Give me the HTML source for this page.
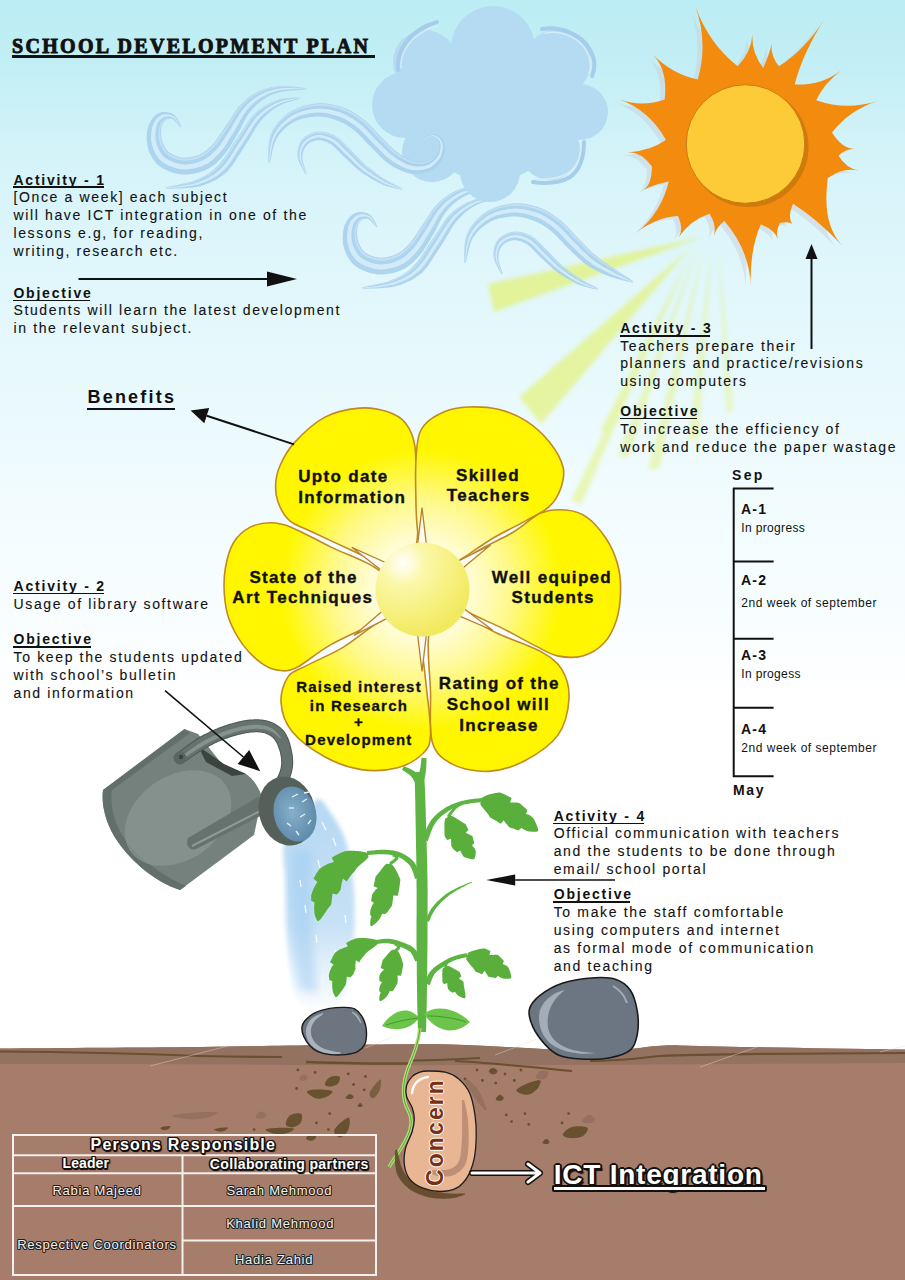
<!DOCTYPE html>
<html><head><meta charset="utf-8"><title>School Development Plan</title>
<style>
html,body{margin:0;padding:0;}
body{width:905px;height:1280px;overflow:hidden;position:relative;background:#fff;}
.t{position:absolute;white-space:pre;}
svg{position:absolute;left:0;top:0;}
</style></head><body>
<svg width="905" height="1280" viewBox="0 0 905 1280"><defs>
<linearGradient id="sky" x1="0" y1="0" x2="0" y2="1280" gradientUnits="userSpaceOnUse">
 <stop offset="0" stop-color="#bcedf4"/>
 <stop offset="0.047" stop-color="#c2eef5"/>
 <stop offset="0.117" stop-color="#d3f3f9"/>
 <stop offset="0.195" stop-color="#def6fb"/>
 <stop offset="0.266" stop-color="#e5f8fc"/>
 <stop offset="0.367" stop-color="#effbfe"/>
 <stop offset="0.469" stop-color="#f7fdff"/>
 <stop offset="0.547" stop-color="#ffffff"/>
 <stop offset="1" stop-color="#ffffff"/>
</linearGradient>
<radialGradient id="petal" cx="421" cy="590" r="200" gradientUnits="userSpaceOnUse">
 <stop offset="0.2" stop-color="#fffde6"/>
 <stop offset="0.45" stop-color="#fff98a"/>
 <stop offset="0.7" stop-color="#fff700"/>
 <stop offset="1" stop-color="#fff500"/>
</radialGradient>
<radialGradient id="disk" cx="403" cy="563" r="75" gradientUnits="userSpaceOnUse">
 <stop offset="0" stop-color="#ffffff"/>
 <stop offset="0.3" stop-color="#fbf7a8"/>
 <stop offset="0.7" stop-color="#f6f07c"/>
 <stop offset="1" stop-color="#f1e95e"/>
</radialGradient>
<linearGradient id="ray" x1="0" y1="0" x2="1" y2="0">
 <stop offset="0" stop-color="#e6f47a" stop-opacity="0.15"/>
 <stop offset="0.5" stop-color="#e6f47a" stop-opacity="0.55"/>
 <stop offset="1" stop-color="#e6f47a" stop-opacity="0.25"/>
</linearGradient>
<linearGradient id="canbody" x1="0" y1="0" x2="1" y2="1">
 <stop offset="0" stop-color="#5c6863"/>
 <stop offset="0.5" stop-color="#85918c"/>
 <stop offset="1" stop-color="#6a7671"/>
</linearGradient>
<radialGradient id="rose" cx="0.45" cy="0.45" r="0.65">
 <stop offset="0" stop-color="#86b0ca"/>
 <stop offset="1" stop-color="#5886a6"/>
</radialGradient>
<linearGradient id="water" x1="0" y1="0" x2="0" y2="1">
 <stop offset="0" stop-color="#b2d6f2" stop-opacity="0.95"/>
 <stop offset="0.6" stop-color="#b8daf4" stop-opacity="0.8"/>
 <stop offset="1" stop-color="#c8e4f8" stop-opacity="0.1"/>
</linearGradient>
<filter id="blur2"><feGaussianBlur stdDeviation="2"/></filter>
<filter id="blur4"><feGaussianBlur stdDeviation="4"/></filter>
</defs>
<rect x="0" y="0" width="905" height="1280" fill="url(#sky)"/>
<g filter="url(#blur2)">
<polygon points="705,236 488,284 494,312" fill="#e2f27a" opacity="0.75"/>
<polygon points="690,248 519,397 541,424" fill="#e2f27a" opacity="0.7"/>
<polygon points="692,250 571,500 581,505" fill="#e2f27a" opacity="0.55"/>
<polygon points="700,242 618,455 628,458" fill="#e2f27a" opacity="0.5"/>
<polygon points="705,242 648,470 660,468" fill="#e2f27a" opacity="0.5"/>
<polygon points="712,242 688,440 699,440" fill="#e2f27a" opacity="0.45"/>
<polygon points="718,240 726,413 734,410" fill="#e2f27a" opacity="0.4"/>
<polygon points="695,245 600,430 606,433" fill="#e2f27a" opacity="0.45"/>
</g>
<g transform="translate(196,100)"><path d="M181.5,126.6 L181.2,126.1 L180.9,125.3 L180.5,124.4 L180.0,123.4 L179.5,122.3 L178.9,121.1 L178.3,120.0 L177.6,118.8 L176.8,117.7 L176.0,116.7 L175.2,115.7 L174.2,114.9 L173.2,114.2 L172.1,113.6 L171.0,113.1 L169.9,112.7 L168.7,112.4 L167.4,112.2 L166.2,112.0 L164.9,111.9 L163.6,112.0 L162.3,112.1 L161.0,112.4 L159.7,112.8 L158.5,113.4 L157.3,114.0 L156.2,114.8 L155.1,115.7 L154.1,116.6 L153.2,117.6 L152.3,118.7 L151.4,119.9 L150.6,121.2 L149.9,122.5 L149.2,123.9 L148.6,125.3 L148.2,126.8 L147.8,128.4 L147.4,130.0 L147.2,131.6 L147.0,133.3 L146.8,135.1 L146.7,136.9 L146.7,138.7 L146.7,140.5 L146.9,142.4 L147.1,144.2 L147.5,146.1 L147.9,147.7 L148.4,149.4 L149.0,151.0 L149.7,152.7 L150.4,154.4 L151.3,156.1 L152.2,157.8 L153.3,159.4 L154.4,161.1 L155.8,162.7 L157.2,164.2 L158.8,165.6 L160.5,166.8 L162.3,168.0 L164.1,169.0 L166.0,169.9 L167.9,170.8 L169.9,171.6 L171.9,172.3 L174.0,172.9 L176.1,173.4 L178.2,173.8 L180.3,174.2 L182.4,174.4 L184.5,174.5 L186.6,174.5 L188.7,174.3 L190.8,174.1 L192.9,173.8 L195.0,173.4 L197.0,172.9 L199.0,172.4 L200.9,171.8 L202.9,171.1 L204.7,170.4 L206.5,169.6 L208.3,168.7 L210.0,167.7 L211.6,166.7 L213.2,165.6 L214.7,164.4 L216.1,163.2 L217.5,161.9 L218.8,160.6 L220.1,159.3 L221.4,158.0 L222.6,156.6 L223.8,155.2 L225.1,153.6 L226.4,152.0 L227.6,150.3 L228.7,148.6 L229.8,146.9 L230.9,145.2 L232.0,143.4 L233.0,141.7 L234.0,140.0 L235.0,138.3 L236.0,136.6 L237.1,134.9 L238.1,133.0 L239.2,131.1 L240.2,129.2 L241.1,127.2 L242.1,125.3 L243.0,123.5 L244.0,121.6 L244.9,119.9 L245.8,118.2 L246.8,116.6 L247.7,115.2 L248.6,113.8 L249.7,112.4 L250.7,111.1 L251.8,109.8 L252.9,108.5 L254.0,107.3 L255.1,106.2 L256.3,105.1 L257.5,104.0 L258.6,103.0 L259.9,102.0 L261.1,101.0 L262.4,100.1 L263.7,99.2 L265.1,98.4 L266.4,97.5 L267.8,96.7 L269.2,96.0 L270.7,95.3 L272.2,94.6 L273.7,94.0 L275.3,93.4 L277.0,92.9 L278.7,92.4 L280.4,92.0 L282.3,91.5 L284.4,91.2 L286.7,90.9 L289.2,90.7 L291.7,90.5 L294.2,90.4 L296.6,90.2 L299.0,90.1 L301.1,90.0 L303.1,89.9 L304.7,89.8 L306.0,89.6 L306.0,88.4 L304.7,88.2 L303.1,87.9 L301.2,87.6 L299.1,87.3 L296.8,87.0 L294.3,86.8 L291.8,86.5 L289.2,86.3 L286.6,86.1 L284.1,86.0 L281.8,86.0 L279.6,86.0 L277.5,86.2 L275.6,86.5 L273.7,86.7 L271.8,87.1 L269.9,87.5 L268.1,87.9 L266.3,88.5 L264.5,89.0 L262.7,89.7 L261.0,90.3 L259.3,91.1 L257.6,91.9 L255.9,92.8 L254.3,93.7 L252.6,94.7 L251.1,95.8 L249.5,96.9 L248.0,98.1 L246.5,99.3 L245.0,100.6 L243.6,101.9 L242.2,103.3 L240.8,104.7 L239.4,106.2 L237.9,107.8 L236.6,109.6 L235.2,111.4 L234.0,113.2 L232.8,115.1 L231.6,116.9 L230.4,118.7 L229.3,120.5 L228.2,122.3 L227.1,124.0 L226.0,125.6 L224.9,127.1 L223.8,128.8 L222.7,130.5 L221.6,132.2 L220.5,133.8 L219.4,135.4 L218.3,137.0 L217.3,138.5 L216.2,139.9 L215.2,141.3 L214.2,142.5 L213.2,143.7 L212.2,144.8 L211.1,145.9 L210.0,147.0 L208.9,148.0 L207.9,149.0 L206.8,149.9 L205.8,150.7 L204.7,151.5 L203.7,152.2 L202.7,152.8 L201.6,153.4 L200.6,153.9 L199.5,154.4 L198.3,154.9 L197.0,155.4 L195.7,155.8 L194.3,156.3 L192.9,156.6 L191.5,157.0 L190.1,157.2 L188.7,157.4 L187.4,157.6 L186.0,157.7 L184.8,157.7 L183.6,157.6 L182.4,157.5 L181.2,157.3 L179.8,157.0 L178.4,156.7 L177.1,156.3 L175.7,155.8 L174.4,155.3 L173.1,154.7 L172.0,154.1 L170.9,153.5 L170.0,153.0 L169.2,152.4 L168.5,151.9 L167.9,151.3 L167.2,150.6 L166.6,149.9 L166.0,149.1 L165.4,148.1 L164.8,147.2 L164.3,146.2 L163.8,145.1 L163.3,144.0 L162.9,143.0 L162.5,141.9 L162.2,141.0 L161.9,140.0 L161.7,138.9 L161.5,137.7 L161.3,136.5 L161.2,135.3 L161.1,134.0 L161.1,132.8 L161.1,131.7 L161.2,130.5 L161.3,129.5 L161.4,128.7 L161.5,127.9 L161.6,127.1 L161.7,126.4 L161.9,125.6 L162.2,124.9 L162.5,124.2 L162.8,123.6 L163.1,123.0 L163.4,122.5 L163.7,122.0 L164.0,121.6 L164.3,121.2 L164.6,120.9 L165.0,120.5 L165.5,120.2 L166.1,119.8 L166.7,119.6 L167.4,119.3 L168.2,119.2 L169.0,119.1 L169.7,119.0 L170.5,119.0 L171.2,119.0 L171.8,119.1 L172.4,119.3 L173.2,119.7 L173.9,120.3 L174.8,121.1 L175.6,121.9 L176.5,122.9 L177.3,123.8 L178.0,124.7 L178.7,125.5 L179.4,126.3 L180.0,126.9 L180.5,127.4Z" fill="#a9d0ec" opacity="0.9"/><path d="M181.2,126.9 L180.9,126.3 L180.5,125.6 L180.0,124.7 L179.4,123.8 L178.8,122.7 L178.2,121.7 L177.5,120.6 L176.7,119.5 L176.0,118.5 L175.2,117.6 L174.3,116.8 L173.5,116.2 L172.6,115.7 L171.6,115.2 L170.6,114.9 L169.6,114.6 L168.5,114.4 L167.4,114.3 L166.3,114.3 L165.3,114.3 L164.2,114.4 L163.1,114.6 L162.1,114.9 L161.1,115.3 L160.1,115.8 L159.2,116.4 L158.4,117.1 L157.5,117.9 L156.7,118.7 L156.0,119.6 L155.2,120.6 L154.6,121.6 L153.9,122.7 L153.4,123.9 L152.9,125.1 L152.4,126.3 L152.1,127.6 L151.8,129.0 L151.6,130.5 L151.4,132.0 L151.2,133.5 L151.1,135.1 L151.1,136.8 L151.1,138.4 L151.2,140.1 L151.4,141.7 L151.7,143.3 L152.0,144.8 L152.4,146.3 L152.9,147.8 L153.4,149.3 L154.0,150.8 L154.7,152.2 L155.5,153.7 L156.3,155.2 L157.3,156.6 L158.3,157.9 L159.4,159.3 L160.6,160.5 L161.9,161.6 L163.3,162.7 L164.9,163.6 L166.5,164.5 L168.1,165.4 L169.9,166.1 L171.7,166.8 L173.5,167.5 L175.3,168.0 L177.2,168.5 L179.1,168.9 L180.9,169.2 L182.7,169.4 L184.6,169.4 L186.4,169.4 L188.3,169.3 L190.2,169.1 L192.1,168.8 L193.9,168.5 L195.8,168.1 L197.6,167.6 L199.4,167.0 L201.1,166.4 L202.8,165.8 L204.4,165.1 L206.0,164.3 L207.5,163.4 L208.9,162.5 L210.3,161.5 L211.7,160.5 L213.0,159.4 L214.3,158.3 L215.5,157.1 L216.7,155.9 L217.9,154.7 L219.1,153.4 L220.3,152.1 L221.5,150.7 L222.7,149.2 L223.9,147.6 L225.0,146.0 L226.1,144.4 L227.1,142.7 L228.2,141.0 L229.2,139.3 L230.3,137.6 L231.3,135.9 L232.4,134.2 L233.4,132.5 L234.5,130.8 L235.5,129.0 L236.6,127.1 L237.6,125.2 L238.6,123.4 L239.6,121.5 L240.6,119.7 L241.6,117.9 L242.7,116.2 L243.7,114.5 L244.8,113.0 L245.9,111.5 L247.0,110.1 L248.2,108.7 L249.3,107.4 L250.5,106.1 L251.8,104.9 L253.0,103.7 L254.3,102.6 L255.5,101.5 L256.8,100.5 L258.2,99.5 L259.6,98.6 L261.0,97.7 L262.4,96.8 L263.8,96.0 L265.3,95.2 L266.8,94.4 L268.3,93.7 L269.9,93.1 L271.5,92.5 L273.1,91.9 L274.8,91.4 L276.5,91.0 L278.3,90.6 L280.2,90.2 L282.1,89.9 L284.3,89.6 L286.7,89.5 L289.2,89.4 L291.7,89.3 L294.2,89.3 L296.7,89.3 L299.0,89.3 L301.2,89.3 L303.1,89.3 L304.7,89.3 L306.0,89.2 L306.0,88.9 L304.7,88.8 L303.1,88.7 L301.2,88.6 L299.0,88.5 L296.7,88.3 L294.3,88.2 L291.7,88.1 L289.2,88.0 L286.7,88.0 L284.3,88.1 L282.0,88.2 L279.9,88.4 L278.0,88.7 L276.1,89.0 L274.3,89.4 L272.5,89.9 L270.8,90.4 L269.1,90.9 L267.5,91.5 L265.8,92.1 L264.2,92.8 L262.6,93.5 L261.1,94.3 L259.5,95.2 L258.0,96.1 L256.5,97.0 L255.0,98.0 L253.6,99.1 L252.2,100.2 L250.8,101.3 L249.5,102.5 L248.2,103.8 L246.9,105.1 L245.6,106.4 L244.3,107.8 L243.1,109.2 L241.8,110.8 L240.6,112.4 L239.5,114.1 L238.4,115.9 L237.2,117.7 L236.2,119.5 L235.1,121.4 L234.0,123.2 L233.0,125.0 L231.9,126.8 L230.9,128.6 L229.8,130.2 L228.7,131.9 L227.6,133.6 L226.6,135.3 L225.5,137.0 L224.4,138.6 L223.4,140.2 L222.3,141.8 L221.2,143.4 L220.2,144.9 L219.1,146.3 L218.0,147.7 L216.8,149.0 L215.7,150.2 L214.5,151.4 L213.4,152.5 L212.2,153.6 L211.1,154.7 L209.9,155.7 L208.7,156.6 L207.5,157.5 L206.3,158.3 L205.0,159.1 L203.7,159.8 L202.3,160.5 L200.9,161.1 L199.4,161.7 L197.8,162.2 L196.2,162.7 L194.6,163.2 L192.9,163.5 L191.2,163.9 L189.6,164.1 L187.9,164.3 L186.3,164.4 L184.7,164.4 L183.1,164.3 L181.6,164.2 L180.0,163.9 L178.3,163.6 L176.7,163.2 L175.0,162.7 L173.4,162.1 L171.8,161.5 L170.3,160.8 L168.8,160.1 L167.4,159.3 L166.2,158.5 L165.0,157.7 L164.0,156.8 L163.0,155.9 L162.1,154.8 L161.3,153.7 L160.5,152.5 L159.7,151.3 L159.0,150.1 L158.4,148.8 L157.9,147.5 L157.4,146.2 L156.9,144.9 L156.5,143.6 L156.2,142.3 L155.9,141.0 L155.7,139.6 L155.6,138.1 L155.5,136.7 L155.4,135.2 L155.5,133.8 L155.5,132.3 L155.7,131.0 L155.8,129.7 L156.0,128.5 L156.3,127.3 L156.6,126.3 L156.9,125.3 L157.3,124.3 L157.7,123.3 L158.2,122.4 L158.7,121.6 L159.3,120.8 L159.9,120.1 L160.5,119.4 L161.2,118.8 L161.8,118.3 L162.5,117.8 L163.1,117.5 L163.9,117.1 L164.7,116.9 L165.6,116.7 L166.5,116.5 L167.4,116.5 L168.4,116.5 L169.3,116.5 L170.2,116.6 L171.1,116.8 L172.0,117.1 L172.8,117.4 L173.5,117.9 L174.3,118.5 L175.1,119.3 L175.9,120.2 L176.7,121.2 L177.4,122.2 L178.2,123.2 L178.8,124.2 L179.5,125.1 L180.0,125.9 L180.5,126.6 L180.9,127.1Z" fill="#d6edf9" opacity="0.9"/><path d="M180.7,127.2 L180.2,126.8 L179.7,126.1 L179.1,125.3 L178.4,124.5 L177.7,123.5 L176.9,122.5 L176.1,121.6 L175.3,120.7 L174.5,119.9 L173.7,119.2 L172.9,118.7 L172.3,118.3 L171.5,118.2 L170.8,118.0 L170.0,117.9 L169.1,117.9 L168.3,118.0 L167.4,118.1 L166.6,118.2 L165.8,118.4 L165.1,118.7 L164.5,119.0 L163.9,119.3 L163.5,119.7 L163.0,120.1 L162.6,120.5 L162.1,121.1 L161.6,121.7 L161.2,122.3 L160.8,123.1 L160.4,123.8 L160.0,124.6 L159.7,125.4 L159.5,126.3 L159.2,127.2 L159.1,128.1 L158.9,129.1 L158.8,130.2 L158.7,131.3 L158.6,132.6 L158.6,133.9 L158.6,135.2 L158.7,136.6 L158.8,137.9 L159.0,139.2 L159.2,140.4 L159.5,141.6 L159.8,142.7 L160.2,143.8 L160.6,145.0 L161.1,146.2 L161.6,147.3 L162.2,148.5 L162.8,149.6 L163.5,150.6 L164.2,151.6 L164.9,152.5 L165.7,153.4 L166.5,154.1 L167.3,154.8 L168.3,155.5 L169.3,156.1 L170.5,156.8 L171.8,157.5 L173.2,158.1 L174.7,158.6 L176.1,159.1 L177.6,159.6 L179.1,160.0 L180.6,160.3 L182.0,160.5 L183.4,160.6 L184.7,160.7 L186.1,160.7 L187.6,160.6 L189.1,160.4 L190.6,160.2 L192.1,159.9 L193.7,159.6 L195.2,159.2 L196.7,158.7 L198.1,158.2 L199.5,157.7 L200.8,157.1 L202.0,156.6 L203.1,155.9 L204.3,155.3 L205.4,154.6 L206.5,153.8 L207.6,152.9 L208.7,152.0 L209.8,151.1 L210.9,150.1 L212.0,149.0 L213.2,147.8 L214.3,146.7 L215.3,145.5 L216.4,144.2 L217.4,142.9 L218.5,141.5 L219.5,140.0 L220.6,138.4 L221.7,136.9 L222.7,135.2 L223.8,133.6 L224.9,131.9 L226.0,130.2 L227.1,128.5 L228.2,126.9 L229.3,125.3 L230.3,123.5 L231.4,121.7 L232.5,119.9 L233.6,118.1 L234.8,116.2 L235.9,114.4 L237.1,112.6 L238.4,110.9 L239.7,109.2 L241.0,107.6 L242.4,106.1 L243.7,104.7 L245.1,103.3 L246.4,102.0 L247.8,100.7 L249.3,99.5 L250.7,98.4 L252.2,97.3 L253.7,96.2 L255.3,95.2 L256.8,94.2 L258.4,93.3 L260.1,92.5 L261.7,91.8 L263.4,91.1 L265.1,90.4 L266.8,89.8 L268.5,89.3 L270.3,88.8 L272.1,88.3 L274.0,88.0 L275.8,87.6 L277.7,87.3 L279.7,87.1 L281.9,87.0 L284.2,86.9 L286.7,87.0 L289.2,87.1 L291.7,87.2 L294.3,87.4 L296.7,87.6 L299.1,87.8 L301.2,88.1 L303.1,88.3 L304.7,88.5 L306.0,88.6 L306.0,88.5 L304.7,88.3 L303.1,88.0 L301.2,87.8 L299.1,87.5 L296.8,87.2 L294.3,87.0 L291.8,86.7 L289.2,86.5 L286.6,86.4 L284.2,86.3 L281.8,86.3 L279.6,86.4 L277.6,86.6 L275.7,86.8 L273.8,87.1 L271.9,87.5 L270.0,87.9 L268.2,88.4 L266.4,88.9 L264.7,89.5 L263.0,90.1 L261.2,90.8 L259.5,91.6 L257.9,92.4 L256.2,93.3 L254.6,94.2 L253.0,95.2 L251.5,96.3 L249.9,97.4 L248.4,98.6 L246.9,99.8 L245.5,101.1 L244.1,102.4 L242.7,103.7 L241.3,105.2 L239.9,106.7 L238.5,108.3 L237.2,110.0 L235.9,111.8 L234.6,113.6 L233.4,115.5 L232.3,117.3 L231.1,119.1 L230.0,120.9 L228.9,122.7 L227.8,124.4 L226.8,126.0 L225.7,127.6 L224.5,129.2 L223.4,130.9 L222.3,132.6 L221.2,134.3 L220.2,135.9 L219.1,137.5 L218.0,139.0 L217.0,140.4 L216.0,141.8 L214.9,143.1 L213.9,144.3 L212.9,145.4 L211.8,146.6 L210.7,147.7 L209.6,148.7 L208.5,149.7 L207.4,150.6 L206.4,151.4 L205.3,152.2 L204.3,153.0 L203.2,153.6 L202.1,154.2 L201.1,154.8 L199.9,155.3 L198.7,155.8 L197.4,156.3 L196.0,156.8 L194.6,157.2 L193.2,157.6 L191.7,158.0 L190.3,158.2 L188.8,158.4 L187.4,158.6 L186.1,158.7 L184.8,158.7 L183.6,158.6 L182.3,158.5 L181.0,158.3 L179.6,158.0 L178.2,157.6 L176.8,157.2 L175.4,156.7 L174.0,156.2 L172.7,155.6 L171.5,155.0 L170.4,154.4 L169.4,153.8 L168.6,153.2 L167.9,152.6 L167.2,152.0 L166.5,151.3 L165.8,150.5 L165.1,149.6 L164.5,148.6 L163.9,147.6 L163.4,146.6 L162.9,145.5 L162.4,144.4 L162.0,143.2 L161.6,142.2 L161.3,141.2 L161.0,140.2 L160.8,139.0 L160.6,137.8 L160.4,136.5 L160.3,135.3 L160.3,134.0 L160.3,132.8 L160.3,131.5 L160.4,130.4 L160.5,129.4 L160.6,128.5 L160.7,127.7 L160.9,126.9 L161.1,126.1 L161.3,125.3 L161.6,124.6 L161.9,123.8 L162.2,123.2 L162.6,122.6 L163.0,122.0 L163.3,121.5 L163.7,121.1 L164.0,120.7 L164.4,120.3 L164.8,120.0 L165.4,119.7 L166.0,119.4 L166.7,119.1 L167.4,118.9 L168.2,118.8 L169.0,118.7 L169.8,118.6 L170.6,118.7 L171.3,118.7 L172.0,118.8 L172.6,119.1 L173.3,119.5 L174.1,120.2 L175.0,121.0 L175.8,121.8 L176.6,122.8 L177.4,123.7 L178.1,124.6 L178.9,125.5 L179.5,126.2 L180.1,126.9 L180.6,127.3Z" fill="#c8e4f6" opacity="0.8"/><path d="M166.1,188.6 L167.7,188.6 L169.7,188.7 L172.1,188.7 L174.8,188.6 L177.7,188.6 L180.8,188.5 L183.9,188.3 L187.1,188.1 L190.3,187.8 L193.4,187.4 L196.4,187.0 L199.1,186.4 L201.6,185.7 L204.0,185.0 L206.3,184.1 L208.6,183.3 L210.8,182.3 L213.0,181.3 L215.2,180.2 L217.4,178.9 L219.5,177.6 L221.6,176.1 L223.7,174.6 L225.8,172.9 L227.7,170.9 L229.6,168.7 L231.4,166.4 L233.2,164.0 L234.9,161.6 L236.5,159.1 L238.0,156.6 L239.6,154.2 L241.1,151.8 L242.6,149.4 L244.0,147.2 L245.5,145.0 L246.9,142.8 L248.4,140.4 L249.8,138.1 L251.1,135.8 L252.5,133.6 L253.8,131.4 L255.0,129.3 L256.3,127.2 L257.6,125.3 L258.9,123.5 L260.2,121.8 L261.5,120.3 L262.8,118.7 L264.2,117.3 L265.6,115.8 L267.0,114.5 L268.4,113.2 L269.9,112.0 L271.4,110.8 L272.9,109.7 L274.5,108.6 L276.0,107.6 L277.6,106.7 L279.2,105.7 L280.8,104.9 L282.6,104.1 L284.5,103.3 L286.5,102.6 L288.5,102.0 L290.6,101.4 L292.6,100.9 L294.4,100.3 L296.2,99.9 L297.7,99.4 L299.1,99.0 L300.1,98.6 L299.9,97.4 L298.8,97.4 L297.4,97.5 L295.8,97.5 L294.0,97.6 L292.0,97.7 L289.9,97.9 L287.7,98.1 L285.5,98.3 L283.3,98.7 L281.0,99.1 L278.9,99.6 L276.8,100.3 L274.9,101.0 L273.0,101.8 L271.1,102.6 L269.2,103.5 L267.4,104.5 L265.5,105.5 L263.6,106.7 L261.8,107.9 L259.9,109.2 L258.1,110.6 L256.3,112.1 L254.5,113.7 L252.8,115.5 L251.1,117.5 L249.6,119.5 L248.0,121.6 L246.6,123.8 L245.1,126.0 L243.7,128.2 L242.3,130.4 L240.9,132.6 L239.4,134.7 L238.0,136.9 L236.5,139.0 L235.0,141.2 L233.5,143.6 L231.9,146.0 L230.4,148.5 L228.9,150.9 L227.4,153.3 L225.9,155.6 L224.4,157.8 L222.8,159.8 L221.3,161.8 L219.8,163.5 L218.2,165.1 L216.7,166.7 L215.2,168.2 L213.6,169.7 L212.0,171.0 L210.3,172.3 L208.6,173.5 L206.8,174.6 L205.0,175.7 L203.1,176.7 L201.1,177.7 L199.0,178.7 L196.9,179.6 L194.6,180.5 L192.1,181.4 L189.3,182.2 L186.3,183.0 L183.3,183.6 L180.2,184.3 L177.3,184.9 L174.4,185.4 L171.8,186.0 L169.5,186.5 L167.5,186.9 L165.9,187.4Z" fill="#a9d0ec" opacity="0.9"/><path d="M166.0,188.2 L167.6,188.1 L169.6,188.0 L172.0,187.8 L174.7,187.7 L177.6,187.5 L180.6,187.2 L183.7,186.9 L186.9,186.5 L190.0,186.1 L193.0,185.6 L195.9,185.0 L198.4,184.4 L200.8,183.6 L203.1,182.8 L205.3,181.9 L207.5,181.0 L209.6,180.0 L211.7,178.9 L213.7,177.8 L215.8,176.5 L217.7,175.2 L219.7,173.8 L221.6,172.2 L223.5,170.6 L225.4,168.7 L227.1,166.6 L228.9,164.4 L230.5,162.1 L232.2,159.8 L233.8,157.4 L235.3,154.9 L236.8,152.5 L238.3,150.1 L239.8,147.7 L241.3,145.4 L242.8,143.2 L244.3,141.0 L245.7,138.7 L247.1,136.5 L248.5,134.2 L249.8,132.0 L251.2,129.8 L252.5,127.6 L253.8,125.6 L255.2,123.6 L256.6,121.7 L258.0,119.9 L259.4,118.3 L260.9,116.7 L262.3,115.3 L263.9,113.8 L265.4,112.5 L267.0,111.2 L268.6,110.0 L270.2,108.9 L271.8,107.8 L273.5,106.8 L275.1,105.9 L276.8,105.0 L278.5,104.1 L280.2,103.3 L282.1,102.6 L284.1,101.9 L286.2,101.3 L288.3,100.8 L290.4,100.3 L292.4,99.9 L294.3,99.5 L296.1,99.2 L297.6,98.8 L299.0,98.5 L300.0,98.2 L300.0,97.9 L298.9,98.1 L297.6,98.2 L296.0,98.5 L294.2,98.7 L292.2,99.0 L290.2,99.3 L288.1,99.6 L285.9,100.1 L283.8,100.5 L281.7,101.1 L279.6,101.7 L277.8,102.5 L276.0,103.2 L274.2,104.1 L272.5,105.0 L270.7,106.0 L269.0,107.0 L267.2,108.1 L265.5,109.3 L263.9,110.5 L262.2,111.9 L260.5,113.3 L258.9,114.8 L257.3,116.3 L255.7,118.1 L254.2,119.9 L252.8,121.9 L251.4,123.9 L250.0,126.0 L248.6,128.1 L247.2,130.3 L245.8,132.6 L244.4,134.8 L243.0,137.0 L241.6,139.2 L240.1,141.4 L238.6,143.6 L237.1,146.0 L235.6,148.3 L234.1,150.8 L232.6,153.2 L231.0,155.6 L229.5,158.0 L227.9,160.3 L226.3,162.5 L224.6,164.5 L223.0,166.5 L221.2,168.2 L219.5,169.9 L217.7,171.4 L215.9,172.8 L214.1,174.2 L212.3,175.4 L210.4,176.6 L208.4,177.7 L206.4,178.7 L204.4,179.7 L202.2,180.6 L200.0,181.5 L197.8,182.3 L195.3,183.1 L192.6,183.8 L189.7,184.4 L186.7,185.0 L183.5,185.5 L180.4,186.0 L177.4,186.4 L174.6,186.7 L171.9,187.0 L169.6,187.3 L167.6,187.6 L166.0,187.9Z" fill="#d6edf9" opacity="0.9"/><path d="M165.9,187.6 L167.5,187.2 L169.5,186.9 L171.8,186.5 L174.5,186.0 L177.3,185.6 L180.3,185.0 L183.4,184.5 L186.5,183.9 L189.5,183.2 L192.3,182.5 L195.0,181.7 L197.3,180.8 L199.5,179.9 L201.6,179.0 L203.6,178.1 L205.6,177.1 L207.5,176.0 L209.4,174.9 L211.2,173.7 L212.9,172.4 L214.6,171.1 L216.3,169.7 L218.0,168.1 L219.6,166.5 L221.2,164.9 L222.8,163.0 L224.4,161.0 L226.0,158.9 L227.5,156.6 L229.0,154.3 L230.6,151.9 L232.1,149.5 L233.6,147.1 L235.1,144.7 L236.6,142.3 L238.1,140.1 L239.6,137.9 L241.1,135.8 L242.5,133.6 L243.9,131.4 L245.3,129.2 L246.7,127.0 L248.1,124.8 L249.5,122.7 L251.0,120.6 L252.5,118.6 L254.1,116.7 L255.8,114.9 L257.5,113.3 L259.2,111.8 L260.9,110.4 L262.7,109.1 L264.5,107.8 L266.3,106.7 L268.1,105.6 L269.9,104.6 L271.7,103.7 L273.5,102.8 L275.4,102.0 L277.2,101.2 L279.2,100.6 L281.3,100.0 L283.5,99.5 L285.7,99.1 L287.9,98.8 L290.0,98.5 L292.1,98.3 L294.1,98.1 L295.9,97.9 L297.5,97.8 L298.8,97.7 L299.9,97.6 L299.9,97.5 L298.8,97.5 L297.4,97.6 L295.8,97.6 L294.0,97.7 L292.1,97.9 L290.0,98.1 L287.8,98.3 L285.6,98.6 L283.3,99.0 L281.1,99.4 L279.0,99.9 L276.9,100.6 L275.0,101.3 L273.2,102.1 L271.3,103.0 L269.5,103.9 L267.6,104.9 L265.8,105.9 L263.9,107.1 L262.1,108.3 L260.3,109.6 L258.5,111.0 L256.7,112.5 L254.9,114.1 L253.2,115.9 L251.6,117.9 L250.0,119.9 L248.5,122.0 L247.1,124.1 L245.6,126.3 L244.2,128.5 L242.8,130.7 L241.4,132.9 L240.0,135.1 L238.5,137.2 L237.1,139.3 L235.5,141.6 L234.0,144.0 L232.5,146.4 L231.0,148.8 L229.5,151.2 L227.9,153.6 L226.4,155.9 L224.9,158.1 L223.4,160.2 L221.8,162.2 L220.3,164.0 L218.7,165.6 L217.1,167.2 L215.6,168.7 L213.9,170.1 L212.3,171.5 L210.6,172.7 L208.8,173.9 L207.0,175.1 L205.2,176.1 L203.3,177.2 L201.2,178.2 L199.2,179.1 L197.0,180.0 L194.7,180.9 L192.2,181.7 L189.4,182.5 L186.4,183.3 L183.3,183.9 L180.3,184.5 L177.3,185.1 L174.4,185.6 L171.8,186.1 L169.5,186.6 L167.5,187.0 L165.9,187.5Z" fill="#c8e4f6" opacity="0.8"/><path d="M269.6,163.1 L270.0,161.8 L270.5,160.1 L270.9,158.1 L271.4,155.9 L271.9,153.5 L272.5,151.0 L273.1,148.4 L273.7,145.9 L274.5,143.5 L275.3,141.2 L276.2,139.2 L277.2,137.6 L278.3,136.0 L279.4,134.4 L280.7,132.8 L282.1,131.3 L283.5,129.8 L285.0,128.4 L286.6,127.0 L288.2,125.8 L289.8,124.6 L291.5,123.5 L293.1,122.5 L294.8,121.6 L296.4,120.8 L298.1,120.1 L299.9,119.4 L301.8,118.8 L303.7,118.3 L305.7,117.9 L307.7,117.5 L309.7,117.2 L311.7,116.9 L313.7,116.7 L315.6,116.6 L317.4,116.6 L319.1,116.6 L320.8,116.6 L322.5,116.8 L324.2,117.0 L325.9,117.3 L327.6,117.6 L329.3,118.1 L331.0,118.5 L332.6,119.0 L334.3,119.6 L336.0,120.2 L337.6,120.8 L339.1,121.3 L340.5,122.0 L342.0,122.6 L343.4,123.3 L344.8,124.0 L346.2,124.8 L347.5,125.7 L348.9,126.6 L350.3,127.5 L351.7,128.5 L353.1,129.6 L354.5,130.6 L355.9,131.7 L357.2,132.9 L358.6,134.2 L360.0,135.6 L361.4,137.0 L362.8,138.6 L364.3,140.1 L365.8,141.7 L367.3,143.3 L368.8,145.0 L370.4,146.6 L371.9,148.1 L373.5,149.5 L374.9,151.0 L376.4,152.4 L378.0,153.9 L379.5,155.3 L381.0,156.8 L382.6,158.3 L384.2,159.7 L385.8,161.1 L387.5,162.6 L389.2,163.9 L391.0,165.2 L392.8,166.4 L394.6,167.5 L396.4,168.5 L398.3,169.5 L400.1,170.5 L401.9,171.4 L403.7,172.2 L405.5,173.1 L407.3,173.9 L409.1,174.7 L411.0,175.5 L412.8,176.3 L414.8,176.9 L417.0,177.6 L419.3,178.3 L421.6,178.9 L423.9,179.6 L426.2,180.2 L428.4,180.8 L430.4,181.3 L432.3,181.8 L434.1,182.1 L435.5,182.4 L436.8,182.5 L437.2,181.5 L436.3,180.7 L435.1,179.7 L433.7,178.7 L432.0,177.6 L430.2,176.5 L428.3,175.3 L426.4,174.0 L424.4,172.8 L422.5,171.5 L420.6,170.2 L418.8,169.0 L417.2,167.7 L415.6,166.7 L413.9,165.7 L412.3,164.6 L410.7,163.6 L409.2,162.6 L407.6,161.5 L406.1,160.4 L404.6,159.4 L403.2,158.3 L401.8,157.1 L400.4,156.0 L399.0,154.8 L397.6,153.6 L396.2,152.4 L394.9,151.1 L393.5,149.8 L392.1,148.4 L390.7,147.0 L389.3,145.5 L387.9,144.0 L386.5,142.5 L385.0,140.9 L383.5,139.4 L382.1,137.9 L380.6,136.5 L379.2,135.0 L377.8,133.5 L376.3,131.9 L374.8,130.3 L373.3,128.7 L371.8,127.1 L370.2,125.4 L368.6,123.9 L366.9,122.3 L365.2,120.8 L363.5,119.4 L361.8,118.1 L360.2,116.9 L358.5,115.7 L356.9,114.6 L355.2,113.5 L353.5,112.4 L351.7,111.4 L350.0,110.5 L348.1,109.6 L346.3,108.7 L344.4,108.0 L342.4,107.2 L340.5,106.6 L338.5,106.0 L336.5,105.5 L334.4,105.0 L332.3,104.5 L330.2,104.1 L328.0,103.8 L325.8,103.5 L323.5,103.3 L321.2,103.3 L318.9,103.3 L316.6,103.4 L314.4,103.7 L312.1,104.0 L309.7,104.5 L307.4,105.0 L305.0,105.6 L302.7,106.3 L300.3,107.0 L298.0,107.9 L295.7,108.9 L293.5,109.9 L291.3,111.1 L289.2,112.4 L287.3,113.8 L285.4,115.3 L283.6,116.9 L281.8,118.5 L280.1,120.3 L278.5,122.1 L277.0,124.0 L275.5,126.0 L274.1,128.0 L272.9,130.1 L271.8,132.2 L270.8,134.4 L270.0,136.9 L269.4,139.5 L268.9,142.2 L268.6,144.9 L268.4,147.7 L268.3,150.4 L268.2,153.1 L268.2,155.5 L268.3,157.8 L268.3,159.9 L268.4,161.6 L268.4,162.9Z" fill="#a9d0ec" opacity="0.9"/><path d="M269.2,163.0 L269.5,161.7 L269.8,160.0 L270.1,158.0 L270.5,155.8 L270.8,153.3 L271.2,150.8 L271.7,148.2 L272.2,145.6 L272.8,143.1 L273.5,140.7 L274.4,138.5 L275.3,136.6 L276.3,134.8 L277.5,133.1 L278.7,131.4 L280.1,129.7 L281.5,128.1 L283.0,126.5 L284.6,125.0 L286.3,123.6 L287.9,122.3 L289.7,121.0 L291.4,119.9 L293.1,118.9 L294.9,117.9 L296.7,117.0 L298.7,116.3 L300.7,115.6 L302.7,114.9 L304.8,114.4 L306.9,113.9 L309.0,113.5 L311.1,113.2 L313.2,112.9 L315.2,112.7 L317.2,112.6 L319.0,112.6 L320.9,112.6 L322.8,112.8 L324.6,113.0 L326.5,113.2 L328.4,113.6 L330.2,114.0 L332.0,114.5 L333.8,115.0 L335.6,115.5 L337.3,116.1 L339.0,116.7 L340.7,117.3 L342.3,118.0 L343.8,118.7 L345.4,119.5 L346.9,120.3 L348.3,121.1 L349.8,122.0 L351.3,123.0 L352.8,124.0 L354.2,125.0 L355.7,126.1 L357.2,127.3 L358.7,128.4 L360.1,129.7 L361.6,131.1 L363.0,132.5 L364.5,134.1 L366.0,135.6 L367.4,137.2 L368.9,138.8 L370.4,140.4 L371.9,142.0 L373.5,143.5 L375.0,145.0 L376.5,146.5 L378.0,148.0 L379.4,149.4 L380.9,150.9 L382.4,152.4 L383.9,153.8 L385.5,155.3 L387.0,156.7 L388.6,158.1 L390.1,159.5 L391.8,160.8 L393.4,162.1 L395.1,163.3 L396.8,164.4 L398.5,165.5 L400.2,166.5 L401.9,167.5 L403.6,168.4 L405.3,169.3 L407.1,170.2 L408.8,171.1 L410.6,172.0 L412.3,172.8 L414.1,173.7 L416.0,174.5 L418.1,175.4 L420.2,176.2 L422.4,177.1 L424.6,177.9 L426.8,178.7 L428.9,179.5 L430.9,180.2 L432.7,180.9 L434.4,181.4 L435.8,181.9 L436.9,182.2 L437.0,181.9 L436.0,181.3 L434.7,180.7 L433.1,179.9 L431.4,179.1 L429.5,178.2 L427.5,177.3 L425.4,176.3 L423.3,175.2 L421.2,174.2 L419.2,173.2 L417.2,172.1 L415.4,171.1 L413.7,170.2 L412.0,169.3 L410.3,168.3 L408.6,167.4 L407.0,166.4 L405.3,165.5 L403.7,164.5 L402.1,163.4 L400.5,162.4 L398.9,161.3 L397.3,160.1 L395.8,159.0 L394.3,157.7 L392.8,156.5 L391.3,155.1 L389.8,153.7 L388.3,152.3 L386.8,150.9 L385.4,149.4 L383.9,147.9 L382.5,146.4 L381.0,144.9 L379.5,143.5 L378.0,142.0 L376.5,140.5 L375.1,139.0 L373.6,137.4 L372.1,135.8 L370.6,134.2 L369.1,132.6 L367.6,131.1 L366.1,129.5 L364.6,128.0 L363.0,126.5 L361.5,125.2 L359.9,123.9 L358.3,122.7 L356.8,121.5 L355.2,120.4 L353.7,119.4 L352.1,118.3 L350.5,117.4 L348.9,116.5 L347.3,115.6 L345.7,114.8 L344.0,114.0 L342.3,113.3 L340.5,112.6 L338.7,112.0 L336.8,111.4 L335.0,110.9 L333.1,110.4 L331.1,109.9 L329.1,109.5 L327.1,109.2 L325.1,108.9 L323.1,108.7 L321.0,108.6 L319.0,108.6 L316.9,108.7 L314.8,108.9 L312.7,109.1 L310.5,109.5 L308.3,109.9 L306.1,110.3 L303.9,110.9 L301.7,111.5 L299.5,112.3 L297.4,113.1 L295.3,114.0 L293.3,115.0 L291.4,116.1 L289.6,117.3 L287.8,118.6 L286.1,119.9 L284.4,121.4 L282.7,123.0 L281.1,124.6 L279.6,126.3 L278.1,128.1 L276.8,129.9 L275.5,131.8 L274.4,133.7 L273.4,135.7 L272.5,137.8 L271.8,140.2 L271.2,142.7 L270.7,145.3 L270.3,148.0 L270.0,150.6 L269.7,153.2 L269.5,155.7 L269.3,157.9 L269.2,159.9 L269.0,161.6 L268.9,163.0Z" fill="#d6edf9" opacity="0.9"/><path d="M268.6,162.9 L268.7,161.6 L268.7,159.9 L268.7,157.9 L268.8,155.6 L268.9,153.1 L269.0,150.5 L269.3,147.8 L269.5,145.1 L269.9,142.4 L270.5,139.8 L271.1,137.3 L271.9,135.0 L272.9,132.9 L274.1,130.9 L275.3,128.9 L276.7,126.9 L278.1,125.1 L279.7,123.3 L281.3,121.5 L283.0,119.8 L284.7,118.2 L286.5,116.7 L288.3,115.3 L290.2,114.0 L292.2,112.8 L294.3,111.8 L296.5,110.8 L298.7,109.9 L300.9,109.1 L303.2,108.3 L305.5,107.7 L307.8,107.2 L310.1,106.7 L312.4,106.3 L314.6,106.0 L316.8,105.8 L318.9,105.7 L321.1,105.7 L323.3,105.8 L325.5,105.9 L327.6,106.2 L329.7,106.5 L331.8,106.9 L333.8,107.4 L335.8,107.9 L337.8,108.5 L339.7,109.0 L341.6,109.7 L343.4,110.4 L345.2,111.1 L347.0,111.9 L348.8,112.8 L350.5,113.7 L352.2,114.7 L353.8,115.7 L355.4,116.7 L357.0,117.8 L358.7,119.0 L360.2,120.1 L361.9,121.4 L363.5,122.8 L365.2,124.2 L366.8,125.7 L368.3,127.3 L369.9,128.9 L371.4,130.5 L372.9,132.1 L374.4,133.7 L375.9,135.2 L377.3,136.8 L378.8,138.3 L380.2,139.7 L381.7,141.2 L383.2,142.7 L384.7,144.3 L386.1,145.8 L387.5,147.3 L389.0,148.7 L390.4,150.2 L391.8,151.6 L393.2,152.9 L394.7,154.2 L396.1,155.5 L397.6,156.6 L399.0,157.8 L400.5,159.0 L402.0,160.1 L403.5,161.2 L405.0,162.2 L406.6,163.3 L408.2,164.3 L409.8,165.3 L411.4,166.3 L413.1,167.3 L414.7,168.3 L416.4,169.3 L418.1,170.4 L419.9,171.5 L421.9,172.7 L423.9,173.9 L425.9,175.0 L427.9,176.2 L429.9,177.3 L431.7,178.3 L433.4,179.3 L434.9,180.2 L436.2,181.0 L437.2,181.6 L437.2,181.5 L436.3,180.8 L435.0,179.9 L433.6,178.9 L431.9,177.9 L430.1,176.7 L428.2,175.6 L426.2,174.4 L424.2,173.1 L422.3,171.9 L420.4,170.6 L418.6,169.4 L416.9,168.2 L415.3,167.2 L413.6,166.2 L412.0,165.2 L410.4,164.2 L408.8,163.1 L407.3,162.1 L405.7,161.0 L404.3,160.0 L402.8,158.9 L401.3,157.7 L399.9,156.6 L398.5,155.4 L397.1,154.2 L395.7,153.0 L394.3,151.7 L392.9,150.4 L391.5,149.0 L390.1,147.5 L388.7,146.1 L387.3,144.6 L385.9,143.1 L384.4,141.5 L382.9,140.0 L381.5,138.5 L380.0,137.1 L378.6,135.6 L377.1,134.1 L375.7,132.5 L374.2,130.9 L372.7,129.3 L371.1,127.7 L369.6,126.1 L368.0,124.5 L366.3,122.9 L364.6,121.4 L362.9,120.0 L361.3,118.8 L359.7,117.6 L358.0,116.4 L356.4,115.3 L354.7,114.2 L353.0,113.2 L351.3,112.2 L349.6,111.3 L347.8,110.4 L345.9,109.5 L344.1,108.8 L342.2,108.0 L340.2,107.4 L338.3,106.8 L336.3,106.3 L334.2,105.8 L332.2,105.3 L330.0,104.9 L327.9,104.6 L325.7,104.3 L323.4,104.1 L321.2,104.1 L318.9,104.1 L316.7,104.2 L314.4,104.5 L312.2,104.8 L309.9,105.2 L307.5,105.7 L305.2,106.3 L302.8,107.0 L300.5,107.7 L298.2,108.6 L295.9,109.5 L293.7,110.5 L291.6,111.7 L289.6,112.9 L287.6,114.3 L285.8,115.8 L284.0,117.3 L282.2,119.0 L280.5,120.7 L278.9,122.5 L277.3,124.4 L275.9,126.3 L274.5,128.3 L273.3,130.4 L272.2,132.5 L271.1,134.6 L270.4,137.0 L269.7,139.6 L269.3,142.3 L268.9,145.0 L268.7,147.7 L268.5,150.5 L268.5,153.1 L268.4,155.6 L268.4,157.8 L268.4,159.9 L268.5,161.6 L268.5,162.9Z" fill="#c8e4f6" opacity="0.8"/><path d="M306.6,173.8 L306.4,172.9 L306.1,171.8 L305.6,170.5 L305.2,169.0 L304.7,167.4 L304.1,165.8 L303.6,164.1 L303.2,162.5 L302.8,160.9 L302.5,159.3 L302.4,158.0 L302.4,156.8 L302.5,155.7 L302.6,154.5 L302.8,153.4 L303.0,152.3 L303.3,151.2 L303.7,150.2 L304.1,149.2 L304.6,148.3 L305.1,147.4 L305.6,146.6 L306.2,145.9 L306.8,145.3 L307.4,144.6 L308.1,144.0 L308.9,143.4 L309.7,142.8 L310.7,142.3 L311.6,141.8 L312.6,141.4 L313.6,141.0 L314.6,140.7 L315.6,140.4 L316.5,140.3 L317.4,140.2 L318.4,140.2 L319.4,140.2 L320.4,140.3 L321.5,140.5 L322.6,140.7 L323.8,141.1 L324.9,141.4 L326.1,141.9 L327.2,142.3 L328.4,142.9 L329.5,143.5 L330.6,144.1 L331.6,144.8 L332.6,145.5 L333.7,146.4 L334.8,147.4 L335.9,148.5 L337.1,149.7 L338.3,150.9 L339.5,152.2 L340.7,153.5 L342.0,154.8 L343.4,156.2 L344.7,157.5 L346.0,158.6 L347.3,159.8 L348.6,161.0 L349.9,162.3 L351.2,163.5 L352.5,164.8 L353.9,166.0 L355.3,167.3 L356.8,168.6 L358.3,169.9 L359.8,171.1 L361.4,172.3 L363.1,173.4 L364.8,174.6 L366.5,175.7 L368.3,176.8 L370.1,177.9 L371.9,179.0 L373.7,180.1 L375.6,181.1 L377.4,182.1 L379.1,183.0 L380.9,183.8 L382.6,184.7 L384.4,185.3 L386.3,186.0 L388.1,186.6 L390.0,187.1 L391.9,187.6 L393.6,188.0 L395.4,188.4 L397.0,188.7 L398.4,189.0 L399.7,189.3 L400.9,189.4 L401.8,189.6 L402.2,188.4 L401.4,187.9 L400.4,187.4 L399.2,186.7 L397.9,186.1 L396.4,185.4 L394.9,184.6 L393.2,183.8 L391.6,183.0 L390.0,182.1 L388.4,181.2 L386.8,180.3 L385.4,179.3 L383.9,178.4 L382.3,177.4 L380.7,176.4 L379.1,175.3 L377.5,174.2 L375.8,173.0 L374.2,171.8 L372.6,170.6 L371.0,169.3 L369.5,168.1 L368.0,166.9 L366.6,165.7 L365.2,164.5 L363.9,163.4 L362.6,162.1 L361.3,160.9 L360.1,159.6 L358.8,158.4 L357.6,157.1 L356.4,155.7 L355.1,154.4 L353.9,153.1 L352.6,151.8 L351.3,150.5 L350.1,149.3 L348.9,148.1 L347.7,146.9 L346.4,145.6 L345.2,144.3 L343.9,143.0 L342.6,141.7 L341.3,140.4 L339.9,139.1 L338.5,138.0 L337.0,136.9 L335.4,135.9 L333.9,135.1 L332.3,134.4 L330.8,133.7 L329.2,133.2 L327.6,132.7 L326.0,132.3 L324.4,132.0 L322.8,131.8 L321.2,131.7 L319.6,131.6 L318.1,131.7 L316.6,131.8 L315.0,132.1 L313.5,132.5 L312.1,133.0 L310.6,133.5 L309.2,134.2 L307.9,135.0 L306.6,135.8 L305.4,136.6 L304.2,137.6 L303.1,138.6 L302.1,139.6 L301.2,140.7 L300.4,141.9 L299.8,143.2 L299.2,144.5 L298.7,145.8 L298.3,147.2 L297.9,148.6 L297.7,150.0 L297.5,151.4 L297.4,152.8 L297.4,154.3 L297.5,155.7 L297.6,157.2 L298.0,158.7 L298.5,160.4 L299.1,162.0 L299.8,163.7 L300.6,165.3 L301.4,166.9 L302.2,168.5 L303.0,170.0 L303.7,171.3 L304.4,172.5 L305.0,173.5 L305.4,174.2Z" fill="#a9d0ec" opacity="0.9"/><path d="M306.2,173.9 L306.0,173.1 L305.6,172.0 L305.1,170.7 L304.5,169.3 L303.9,167.8 L303.3,166.1 L302.7,164.5 L302.2,162.8 L301.7,161.2 L301.3,159.7 L301.1,158.2 L301.0,156.9 L301.0,155.7 L301.0,154.5 L301.2,153.2 L301.4,152.0 L301.6,150.9 L302.0,149.7 L302.4,148.6 L302.8,147.5 L303.3,146.5 L303.9,145.6 L304.5,144.7 L305.1,143.9 L305.8,143.1 L306.6,142.4 L307.5,141.7 L308.4,141.0 L309.4,140.3 L310.5,139.7 L311.6,139.2 L312.7,138.7 L313.8,138.4 L315.0,138.0 L316.1,137.8 L317.2,137.7 L318.3,137.6 L319.5,137.6 L320.7,137.7 L321.9,137.9 L323.2,138.1 L324.4,138.4 L325.7,138.8 L327.0,139.3 L328.3,139.8 L329.6,140.3 L330.8,141.0 L332.0,141.7 L333.2,142.4 L334.4,143.3 L335.5,144.2 L336.7,145.3 L337.9,146.4 L339.1,147.7 L340.3,148.9 L341.6,150.2 L342.8,151.5 L344.1,152.8 L345.4,154.1 L346.7,155.4 L348.0,156.6 L349.2,157.8 L350.5,159.0 L351.8,160.3 L353.1,161.6 L354.4,162.8 L355.8,164.1 L357.1,165.4 L358.5,166.7 L360.0,167.9 L361.4,169.1 L363.0,170.3 L364.5,171.5 L366.2,172.6 L367.9,173.8 L369.6,175.0 L371.3,176.1 L373.1,177.2 L374.9,178.3 L376.6,179.3 L378.4,180.4 L380.1,181.3 L381.8,182.2 L383.4,183.1 L385.1,183.8 L386.9,184.5 L388.7,185.2 L390.5,185.9 L392.3,186.4 L394.0,187.0 L395.7,187.5 L397.2,187.9 L398.7,188.3 L399.9,188.7 L401.0,189.0 L401.9,189.2 L402.0,188.9 L401.2,188.5 L400.1,188.1 L398.9,187.7 L397.5,187.1 L396.0,186.6 L394.4,186.0 L392.7,185.3 L391.0,184.6 L389.2,183.9 L387.5,183.1 L385.9,182.3 L384.3,181.5 L382.7,180.6 L381.1,179.6 L379.4,178.7 L377.7,177.6 L376.0,176.5 L374.3,175.4 L372.6,174.2 L370.9,173.1 L369.2,171.9 L367.6,170.7 L366.0,169.5 L364.5,168.3 L363.1,167.2 L361.7,166.0 L360.3,164.7 L358.9,163.5 L357.6,162.2 L356.3,160.9 L355.0,159.6 L353.8,158.3 L352.5,157.1 L351.2,155.8 L349.9,154.5 L348.7,153.3 L347.4,152.1 L346.1,150.8 L344.9,149.5 L343.7,148.2 L342.4,146.9 L341.2,145.6 L339.9,144.4 L338.7,143.2 L337.4,142.0 L336.1,141.0 L334.8,140.0 L333.5,139.2 L332.1,138.4 L330.8,137.8 L329.4,137.2 L327.9,136.7 L326.5,136.2 L325.1,135.8 L323.7,135.5 L322.3,135.3 L320.9,135.1 L319.5,135.1 L318.2,135.1 L316.9,135.2 L315.6,135.4 L314.3,135.7 L313.1,136.0 L311.8,136.5 L310.6,137.1 L309.4,137.7 L308.2,138.4 L307.1,139.1 L306.1,139.9 L305.1,140.8 L304.2,141.6 L303.4,142.5 L302.7,143.5 L302.1,144.5 L301.5,145.6 L301.0,146.8 L300.6,148.0 L300.2,149.2 L299.9,150.5 L299.7,151.8 L299.5,153.1 L299.5,154.4 L299.5,155.7 L299.5,157.0 L299.7,158.4 L300.1,160.0 L300.6,161.6 L301.1,163.2 L301.8,164.8 L302.5,166.5 L303.2,168.1 L303.9,169.6 L304.5,171.0 L305.1,172.2 L305.5,173.2 L305.9,174.0Z" fill="#d6edf9" opacity="0.9"/><path d="M305.6,174.1 L305.2,173.4 L304.7,172.3 L304.1,171.1 L303.4,169.8 L302.6,168.3 L301.9,166.7 L301.1,165.1 L300.4,163.5 L299.7,161.8 L299.2,160.2 L298.7,158.6 L298.5,157.1 L298.4,155.7 L298.3,154.3 L298.4,152.9 L298.5,151.6 L298.7,150.2 L299.0,148.8 L299.3,147.5 L299.7,146.2 L300.2,145.0 L300.8,143.8 L301.5,142.6 L302.2,141.5 L303.1,140.5 L304.0,139.6 L305.0,138.6 L306.2,137.8 L307.3,136.9 L308.6,136.2 L309.8,135.5 L311.2,134.9 L312.5,134.4 L313.9,133.9 L315.3,133.6 L316.7,133.3 L318.1,133.2 L319.6,133.2 L321.1,133.2 L322.6,133.4 L324.1,133.6 L325.6,133.9 L327.1,134.3 L328.6,134.7 L330.1,135.3 L331.6,135.9 L333.1,136.6 L334.6,137.4 L336.0,138.3 L337.4,139.3 L338.8,140.4 L340.1,141.6 L341.4,142.9 L342.7,144.2 L344.0,145.5 L345.2,146.8 L346.4,148.1 L347.6,149.3 L348.9,150.6 L350.1,151.8 L351.4,153.0 L352.7,154.3 L353.9,155.6 L355.2,156.9 L356.4,158.2 L357.7,159.5 L359.0,160.8 L360.3,162.1 L361.6,163.3 L362.9,164.5 L364.3,165.7 L365.7,166.9 L367.1,168.1 L368.6,169.3 L370.2,170.5 L371.8,171.7 L373.5,172.9 L375.1,174.1 L376.8,175.2 L378.5,176.3 L380.1,177.4 L381.8,178.4 L383.3,179.4 L384.9,180.3 L386.4,181.2 L388.0,182.1 L389.6,182.9 L391.3,183.7 L393.0,184.5 L394.6,185.2 L396.2,185.9 L397.7,186.6 L399.1,187.2 L400.3,187.7 L401.3,188.2 L402.1,188.6 L402.2,188.5 L401.4,188.0 L400.4,187.5 L399.2,186.9 L397.8,186.2 L396.3,185.6 L394.8,184.8 L393.2,184.0 L391.5,183.2 L389.9,182.4 L388.3,181.5 L386.7,180.6 L385.2,179.7 L383.7,178.7 L382.1,177.8 L380.5,176.7 L378.9,175.6 L377.3,174.5 L375.6,173.3 L374.0,172.2 L372.3,170.9 L370.7,169.7 L369.2,168.5 L367.7,167.3 L366.3,166.1 L364.9,164.9 L363.6,163.7 L362.3,162.5 L361.0,161.3 L359.7,160.0 L358.5,158.7 L357.2,157.4 L356.0,156.1 L354.7,154.8 L353.5,153.5 L352.2,152.2 L350.9,150.9 L349.7,149.8 L348.5,148.5 L347.3,147.3 L346.0,146.0 L344.8,144.7 L343.5,143.4 L342.2,142.1 L340.9,140.8 L339.6,139.6 L338.1,138.4 L336.7,137.3 L335.2,136.4 L333.6,135.6 L332.1,134.9 L330.5,134.2 L329.0,133.7 L327.4,133.2 L325.8,132.8 L324.3,132.5 L322.7,132.3 L321.1,132.2 L319.6,132.1 L318.1,132.2 L316.6,132.3 L315.1,132.6 L313.6,133.0 L312.2,133.4 L310.8,134.0 L309.4,134.6 L308.1,135.4 L306.8,136.2 L305.6,137.0 L304.5,137.9 L303.4,138.9 L302.4,139.9 L301.5,141.0 L300.8,142.2 L300.1,143.4 L299.5,144.6 L299.0,145.9 L298.6,147.3 L298.3,148.7 L298.0,150.0 L297.8,151.5 L297.7,152.9 L297.7,154.3 L297.8,155.7 L297.9,157.2 L298.2,158.7 L298.7,160.3 L299.3,161.9 L300.0,163.6 L300.7,165.3 L301.5,166.9 L302.3,168.4 L303.1,169.9 L303.8,171.2 L304.5,172.4 L305.1,173.4 L305.5,174.2Z" fill="#c8e4f6" opacity="0.8"/></g>
<g fill="#b4dbf1"><circle cx="493" cy="48" r="42"/><circle cx="425" cy="62" r="32"/><circle cx="405" cy="105" r="33"/><circle cx="432" cy="152" r="30"/><circle cx="490" cy="172" r="30"/><circle cx="550" cy="150" r="30"/><circle cx="580" cy="112" r="28"/><circle cx="558" cy="62" r="33"/><circle cx="490" cy="110" r="72"/></g>
<g fill="none" stroke-linecap="round"><path d="M398,70 C396,50 410,30 437,22" stroke="#a6cdea" stroke-width="4"/><path d="M401,68 C400,50 413,33 437,26" stroke="#d6ecf8" stroke-width="1.5"/><path d="M542,29 C560,26 582,34 590,50 C596,60 595,70 592,76" stroke="#a6cdea" stroke-width="4"/><path d="M545,33 C562,30 580,38 587,52 C591,60 591,68 589,73" stroke="#d6ecf8" stroke-width="1.5"/><path d="M584,142 C584,158 580,170 570,177 C560,183 545,184 533,182" stroke="#a6cdea" stroke-width="4"/><path d="M581,143 C581,157 577,167 568,173 C558,179 545,180 534,179" stroke="#d6ecf8" stroke-width="1.5"/></g>
<g transform="translate(0,0)"><path d="M181.5,126.6 L181.2,126.1 L180.9,125.3 L180.5,124.4 L180.0,123.4 L179.5,122.3 L178.9,121.1 L178.3,120.0 L177.6,118.8 L176.8,117.7 L176.0,116.7 L175.2,115.7 L174.2,114.9 L173.2,114.2 L172.1,113.6 L171.0,113.1 L169.9,112.7 L168.7,112.4 L167.4,112.2 L166.2,112.0 L164.9,111.9 L163.6,112.0 L162.3,112.1 L161.0,112.4 L159.7,112.8 L158.5,113.4 L157.3,114.0 L156.2,114.8 L155.1,115.7 L154.1,116.6 L153.2,117.6 L152.3,118.7 L151.4,119.9 L150.6,121.2 L149.9,122.5 L149.2,123.9 L148.6,125.3 L148.2,126.8 L147.8,128.4 L147.4,130.0 L147.2,131.6 L147.0,133.3 L146.8,135.1 L146.7,136.9 L146.7,138.7 L146.7,140.5 L146.9,142.4 L147.1,144.2 L147.5,146.1 L147.9,147.7 L148.4,149.4 L149.0,151.0 L149.7,152.7 L150.4,154.4 L151.3,156.1 L152.2,157.8 L153.3,159.4 L154.4,161.1 L155.8,162.7 L157.2,164.2 L158.8,165.6 L160.5,166.8 L162.3,168.0 L164.1,169.0 L166.0,169.9 L167.9,170.8 L169.9,171.6 L171.9,172.3 L174.0,172.9 L176.1,173.4 L178.2,173.8 L180.3,174.2 L182.4,174.4 L184.5,174.5 L186.6,174.5 L188.7,174.3 L190.8,174.1 L192.9,173.8 L195.0,173.4 L197.0,172.9 L199.0,172.4 L200.9,171.8 L202.9,171.1 L204.7,170.4 L206.5,169.6 L208.3,168.7 L210.0,167.7 L211.6,166.7 L213.2,165.6 L214.7,164.4 L216.1,163.2 L217.5,161.9 L218.8,160.6 L220.1,159.3 L221.4,158.0 L222.6,156.6 L223.8,155.2 L225.1,153.6 L226.4,152.0 L227.6,150.3 L228.7,148.6 L229.8,146.9 L230.9,145.2 L232.0,143.4 L233.0,141.7 L234.0,140.0 L235.0,138.3 L236.0,136.6 L237.1,134.9 L238.1,133.0 L239.2,131.1 L240.2,129.2 L241.1,127.2 L242.1,125.3 L243.0,123.5 L244.0,121.6 L244.9,119.9 L245.8,118.2 L246.8,116.6 L247.7,115.2 L248.6,113.8 L249.7,112.4 L250.7,111.1 L251.8,109.8 L252.9,108.5 L254.0,107.3 L255.1,106.2 L256.3,105.1 L257.5,104.0 L258.6,103.0 L259.9,102.0 L261.1,101.0 L262.4,100.1 L263.7,99.2 L265.1,98.4 L266.4,97.5 L267.8,96.7 L269.2,96.0 L270.7,95.3 L272.2,94.6 L273.7,94.0 L275.3,93.4 L277.0,92.9 L278.7,92.4 L280.4,92.0 L282.3,91.5 L284.4,91.2 L286.7,90.9 L289.2,90.7 L291.7,90.5 L294.2,90.4 L296.6,90.2 L299.0,90.1 L301.1,90.0 L303.1,89.9 L304.7,89.8 L306.0,89.6 L306.0,88.4 L304.7,88.2 L303.1,87.9 L301.2,87.6 L299.1,87.3 L296.8,87.0 L294.3,86.8 L291.8,86.5 L289.2,86.3 L286.6,86.1 L284.1,86.0 L281.8,86.0 L279.6,86.0 L277.5,86.2 L275.6,86.5 L273.7,86.7 L271.8,87.1 L269.9,87.5 L268.1,87.9 L266.3,88.5 L264.5,89.0 L262.7,89.7 L261.0,90.3 L259.3,91.1 L257.6,91.9 L255.9,92.8 L254.3,93.7 L252.6,94.7 L251.1,95.8 L249.5,96.9 L248.0,98.1 L246.5,99.3 L245.0,100.6 L243.6,101.9 L242.2,103.3 L240.8,104.7 L239.4,106.2 L237.9,107.8 L236.6,109.6 L235.2,111.4 L234.0,113.2 L232.8,115.1 L231.6,116.9 L230.4,118.7 L229.3,120.5 L228.2,122.3 L227.1,124.0 L226.0,125.6 L224.9,127.1 L223.8,128.8 L222.7,130.5 L221.6,132.2 L220.5,133.8 L219.4,135.4 L218.3,137.0 L217.3,138.5 L216.2,139.9 L215.2,141.3 L214.2,142.5 L213.2,143.7 L212.2,144.8 L211.1,145.9 L210.0,147.0 L208.9,148.0 L207.9,149.0 L206.8,149.9 L205.8,150.7 L204.7,151.5 L203.7,152.2 L202.7,152.8 L201.6,153.4 L200.6,153.9 L199.5,154.4 L198.3,154.9 L197.0,155.4 L195.7,155.8 L194.3,156.3 L192.9,156.6 L191.5,157.0 L190.1,157.2 L188.7,157.4 L187.4,157.6 L186.0,157.7 L184.8,157.7 L183.6,157.6 L182.4,157.5 L181.2,157.3 L179.8,157.0 L178.4,156.7 L177.1,156.3 L175.7,155.8 L174.4,155.3 L173.1,154.7 L172.0,154.1 L170.9,153.5 L170.0,153.0 L169.2,152.4 L168.5,151.9 L167.9,151.3 L167.2,150.6 L166.6,149.9 L166.0,149.1 L165.4,148.1 L164.8,147.2 L164.3,146.2 L163.8,145.1 L163.3,144.0 L162.9,143.0 L162.5,141.9 L162.2,141.0 L161.9,140.0 L161.7,138.9 L161.5,137.7 L161.3,136.5 L161.2,135.3 L161.1,134.0 L161.1,132.8 L161.1,131.7 L161.2,130.5 L161.3,129.5 L161.4,128.7 L161.5,127.9 L161.6,127.1 L161.7,126.4 L161.9,125.6 L162.2,124.9 L162.5,124.2 L162.8,123.6 L163.1,123.0 L163.4,122.5 L163.7,122.0 L164.0,121.6 L164.3,121.2 L164.6,120.9 L165.0,120.5 L165.5,120.2 L166.1,119.8 L166.7,119.6 L167.4,119.3 L168.2,119.2 L169.0,119.1 L169.7,119.0 L170.5,119.0 L171.2,119.0 L171.8,119.1 L172.4,119.3 L173.2,119.7 L173.9,120.3 L174.8,121.1 L175.6,121.9 L176.5,122.9 L177.3,123.8 L178.0,124.7 L178.7,125.5 L179.4,126.3 L180.0,126.9 L180.5,127.4Z" fill="#a9d0ec" opacity="0.9"/><path d="M181.2,126.9 L180.9,126.3 L180.5,125.6 L180.0,124.7 L179.4,123.8 L178.8,122.7 L178.2,121.7 L177.5,120.6 L176.7,119.5 L176.0,118.5 L175.2,117.6 L174.3,116.8 L173.5,116.2 L172.6,115.7 L171.6,115.2 L170.6,114.9 L169.6,114.6 L168.5,114.4 L167.4,114.3 L166.3,114.3 L165.3,114.3 L164.2,114.4 L163.1,114.6 L162.1,114.9 L161.1,115.3 L160.1,115.8 L159.2,116.4 L158.4,117.1 L157.5,117.9 L156.7,118.7 L156.0,119.6 L155.2,120.6 L154.6,121.6 L153.9,122.7 L153.4,123.9 L152.9,125.1 L152.4,126.3 L152.1,127.6 L151.8,129.0 L151.6,130.5 L151.4,132.0 L151.2,133.5 L151.1,135.1 L151.1,136.8 L151.1,138.4 L151.2,140.1 L151.4,141.7 L151.7,143.3 L152.0,144.8 L152.4,146.3 L152.9,147.8 L153.4,149.3 L154.0,150.8 L154.7,152.2 L155.5,153.7 L156.3,155.2 L157.3,156.6 L158.3,157.9 L159.4,159.3 L160.6,160.5 L161.9,161.6 L163.3,162.7 L164.9,163.6 L166.5,164.5 L168.1,165.4 L169.9,166.1 L171.7,166.8 L173.5,167.5 L175.3,168.0 L177.2,168.5 L179.1,168.9 L180.9,169.2 L182.7,169.4 L184.6,169.4 L186.4,169.4 L188.3,169.3 L190.2,169.1 L192.1,168.8 L193.9,168.5 L195.8,168.1 L197.6,167.6 L199.4,167.0 L201.1,166.4 L202.8,165.8 L204.4,165.1 L206.0,164.3 L207.5,163.4 L208.9,162.5 L210.3,161.5 L211.7,160.5 L213.0,159.4 L214.3,158.3 L215.5,157.1 L216.7,155.9 L217.9,154.7 L219.1,153.4 L220.3,152.1 L221.5,150.7 L222.7,149.2 L223.9,147.6 L225.0,146.0 L226.1,144.4 L227.1,142.7 L228.2,141.0 L229.2,139.3 L230.3,137.6 L231.3,135.9 L232.4,134.2 L233.4,132.5 L234.5,130.8 L235.5,129.0 L236.6,127.1 L237.6,125.2 L238.6,123.4 L239.6,121.5 L240.6,119.7 L241.6,117.9 L242.7,116.2 L243.7,114.5 L244.8,113.0 L245.9,111.5 L247.0,110.1 L248.2,108.7 L249.3,107.4 L250.5,106.1 L251.8,104.9 L253.0,103.7 L254.3,102.6 L255.5,101.5 L256.8,100.5 L258.2,99.5 L259.6,98.6 L261.0,97.7 L262.4,96.8 L263.8,96.0 L265.3,95.2 L266.8,94.4 L268.3,93.7 L269.9,93.1 L271.5,92.5 L273.1,91.9 L274.8,91.4 L276.5,91.0 L278.3,90.6 L280.2,90.2 L282.1,89.9 L284.3,89.6 L286.7,89.5 L289.2,89.4 L291.7,89.3 L294.2,89.3 L296.7,89.3 L299.0,89.3 L301.2,89.3 L303.1,89.3 L304.7,89.3 L306.0,89.2 L306.0,88.9 L304.7,88.8 L303.1,88.7 L301.2,88.6 L299.0,88.5 L296.7,88.3 L294.3,88.2 L291.7,88.1 L289.2,88.0 L286.7,88.0 L284.3,88.1 L282.0,88.2 L279.9,88.4 L278.0,88.7 L276.1,89.0 L274.3,89.4 L272.5,89.9 L270.8,90.4 L269.1,90.9 L267.5,91.5 L265.8,92.1 L264.2,92.8 L262.6,93.5 L261.1,94.3 L259.5,95.2 L258.0,96.1 L256.5,97.0 L255.0,98.0 L253.6,99.1 L252.2,100.2 L250.8,101.3 L249.5,102.5 L248.2,103.8 L246.9,105.1 L245.6,106.4 L244.3,107.8 L243.1,109.2 L241.8,110.8 L240.6,112.4 L239.5,114.1 L238.4,115.9 L237.2,117.7 L236.2,119.5 L235.1,121.4 L234.0,123.2 L233.0,125.0 L231.9,126.8 L230.9,128.6 L229.8,130.2 L228.7,131.9 L227.6,133.6 L226.6,135.3 L225.5,137.0 L224.4,138.6 L223.4,140.2 L222.3,141.8 L221.2,143.4 L220.2,144.9 L219.1,146.3 L218.0,147.7 L216.8,149.0 L215.7,150.2 L214.5,151.4 L213.4,152.5 L212.2,153.6 L211.1,154.7 L209.9,155.7 L208.7,156.6 L207.5,157.5 L206.3,158.3 L205.0,159.1 L203.7,159.8 L202.3,160.5 L200.9,161.1 L199.4,161.7 L197.8,162.2 L196.2,162.7 L194.6,163.2 L192.9,163.5 L191.2,163.9 L189.6,164.1 L187.9,164.3 L186.3,164.4 L184.7,164.4 L183.1,164.3 L181.6,164.2 L180.0,163.9 L178.3,163.6 L176.7,163.2 L175.0,162.7 L173.4,162.1 L171.8,161.5 L170.3,160.8 L168.8,160.1 L167.4,159.3 L166.2,158.5 L165.0,157.7 L164.0,156.8 L163.0,155.9 L162.1,154.8 L161.3,153.7 L160.5,152.5 L159.7,151.3 L159.0,150.1 L158.4,148.8 L157.9,147.5 L157.4,146.2 L156.9,144.9 L156.5,143.6 L156.2,142.3 L155.9,141.0 L155.7,139.6 L155.6,138.1 L155.5,136.7 L155.4,135.2 L155.5,133.8 L155.5,132.3 L155.7,131.0 L155.8,129.7 L156.0,128.5 L156.3,127.3 L156.6,126.3 L156.9,125.3 L157.3,124.3 L157.7,123.3 L158.2,122.4 L158.7,121.6 L159.3,120.8 L159.9,120.1 L160.5,119.4 L161.2,118.8 L161.8,118.3 L162.5,117.8 L163.1,117.5 L163.9,117.1 L164.7,116.9 L165.6,116.7 L166.5,116.5 L167.4,116.5 L168.4,116.5 L169.3,116.5 L170.2,116.6 L171.1,116.8 L172.0,117.1 L172.8,117.4 L173.5,117.9 L174.3,118.5 L175.1,119.3 L175.9,120.2 L176.7,121.2 L177.4,122.2 L178.2,123.2 L178.8,124.2 L179.5,125.1 L180.0,125.9 L180.5,126.6 L180.9,127.1Z" fill="#d6edf9" opacity="0.9"/><path d="M180.7,127.2 L180.2,126.8 L179.7,126.1 L179.1,125.3 L178.4,124.5 L177.7,123.5 L176.9,122.5 L176.1,121.6 L175.3,120.7 L174.5,119.9 L173.7,119.2 L172.9,118.7 L172.3,118.3 L171.5,118.2 L170.8,118.0 L170.0,117.9 L169.1,117.9 L168.3,118.0 L167.4,118.1 L166.6,118.2 L165.8,118.4 L165.1,118.7 L164.5,119.0 L163.9,119.3 L163.5,119.7 L163.0,120.1 L162.6,120.5 L162.1,121.1 L161.6,121.7 L161.2,122.3 L160.8,123.1 L160.4,123.8 L160.0,124.6 L159.7,125.4 L159.5,126.3 L159.2,127.2 L159.1,128.1 L158.9,129.1 L158.8,130.2 L158.7,131.3 L158.6,132.6 L158.6,133.9 L158.6,135.2 L158.7,136.6 L158.8,137.9 L159.0,139.2 L159.2,140.4 L159.5,141.6 L159.8,142.7 L160.2,143.8 L160.6,145.0 L161.1,146.2 L161.6,147.3 L162.2,148.5 L162.8,149.6 L163.5,150.6 L164.2,151.6 L164.9,152.5 L165.7,153.4 L166.5,154.1 L167.3,154.8 L168.3,155.5 L169.3,156.1 L170.5,156.8 L171.8,157.5 L173.2,158.1 L174.7,158.6 L176.1,159.1 L177.6,159.6 L179.1,160.0 L180.6,160.3 L182.0,160.5 L183.4,160.6 L184.7,160.7 L186.1,160.7 L187.6,160.6 L189.1,160.4 L190.6,160.2 L192.1,159.9 L193.7,159.6 L195.2,159.2 L196.7,158.7 L198.1,158.2 L199.5,157.7 L200.8,157.1 L202.0,156.6 L203.1,155.9 L204.3,155.3 L205.4,154.6 L206.5,153.8 L207.6,152.9 L208.7,152.0 L209.8,151.1 L210.9,150.1 L212.0,149.0 L213.2,147.8 L214.3,146.7 L215.3,145.5 L216.4,144.2 L217.4,142.9 L218.5,141.5 L219.5,140.0 L220.6,138.4 L221.7,136.9 L222.7,135.2 L223.8,133.6 L224.9,131.9 L226.0,130.2 L227.1,128.5 L228.2,126.9 L229.3,125.3 L230.3,123.5 L231.4,121.7 L232.5,119.9 L233.6,118.1 L234.8,116.2 L235.9,114.4 L237.1,112.6 L238.4,110.9 L239.7,109.2 L241.0,107.6 L242.4,106.1 L243.7,104.7 L245.1,103.3 L246.4,102.0 L247.8,100.7 L249.3,99.5 L250.7,98.4 L252.2,97.3 L253.7,96.2 L255.3,95.2 L256.8,94.2 L258.4,93.3 L260.1,92.5 L261.7,91.8 L263.4,91.1 L265.1,90.4 L266.8,89.8 L268.5,89.3 L270.3,88.8 L272.1,88.3 L274.0,88.0 L275.8,87.6 L277.7,87.3 L279.7,87.1 L281.9,87.0 L284.2,86.9 L286.7,87.0 L289.2,87.1 L291.7,87.2 L294.3,87.4 L296.7,87.6 L299.1,87.8 L301.2,88.1 L303.1,88.3 L304.7,88.5 L306.0,88.6 L306.0,88.5 L304.7,88.3 L303.1,88.0 L301.2,87.8 L299.1,87.5 L296.8,87.2 L294.3,87.0 L291.8,86.7 L289.2,86.5 L286.6,86.4 L284.2,86.3 L281.8,86.3 L279.6,86.4 L277.6,86.6 L275.7,86.8 L273.8,87.1 L271.9,87.5 L270.0,87.9 L268.2,88.4 L266.4,88.9 L264.7,89.5 L263.0,90.1 L261.2,90.8 L259.5,91.6 L257.9,92.4 L256.2,93.3 L254.6,94.2 L253.0,95.2 L251.5,96.3 L249.9,97.4 L248.4,98.6 L246.9,99.8 L245.5,101.1 L244.1,102.4 L242.7,103.7 L241.3,105.2 L239.9,106.7 L238.5,108.3 L237.2,110.0 L235.9,111.8 L234.6,113.6 L233.4,115.5 L232.3,117.3 L231.1,119.1 L230.0,120.9 L228.9,122.7 L227.8,124.4 L226.8,126.0 L225.7,127.6 L224.5,129.2 L223.4,130.9 L222.3,132.6 L221.2,134.3 L220.2,135.9 L219.1,137.5 L218.0,139.0 L217.0,140.4 L216.0,141.8 L214.9,143.1 L213.9,144.3 L212.9,145.4 L211.8,146.6 L210.7,147.7 L209.6,148.7 L208.5,149.7 L207.4,150.6 L206.4,151.4 L205.3,152.2 L204.3,153.0 L203.2,153.6 L202.1,154.2 L201.1,154.8 L199.9,155.3 L198.7,155.8 L197.4,156.3 L196.0,156.8 L194.6,157.2 L193.2,157.6 L191.7,158.0 L190.3,158.2 L188.8,158.4 L187.4,158.6 L186.1,158.7 L184.8,158.7 L183.6,158.6 L182.3,158.5 L181.0,158.3 L179.6,158.0 L178.2,157.6 L176.8,157.2 L175.4,156.7 L174.0,156.2 L172.7,155.6 L171.5,155.0 L170.4,154.4 L169.4,153.8 L168.6,153.2 L167.9,152.6 L167.2,152.0 L166.5,151.3 L165.8,150.5 L165.1,149.6 L164.5,148.6 L163.9,147.6 L163.4,146.6 L162.9,145.5 L162.4,144.4 L162.0,143.2 L161.6,142.2 L161.3,141.2 L161.0,140.2 L160.8,139.0 L160.6,137.8 L160.4,136.5 L160.3,135.3 L160.3,134.0 L160.3,132.8 L160.3,131.5 L160.4,130.4 L160.5,129.4 L160.6,128.5 L160.7,127.7 L160.9,126.9 L161.1,126.1 L161.3,125.3 L161.6,124.6 L161.9,123.8 L162.2,123.2 L162.6,122.6 L163.0,122.0 L163.3,121.5 L163.7,121.1 L164.0,120.7 L164.4,120.3 L164.8,120.0 L165.4,119.7 L166.0,119.4 L166.7,119.1 L167.4,118.9 L168.2,118.8 L169.0,118.7 L169.8,118.6 L170.6,118.7 L171.3,118.7 L172.0,118.8 L172.6,119.1 L173.3,119.5 L174.1,120.2 L175.0,121.0 L175.8,121.8 L176.6,122.8 L177.4,123.7 L178.1,124.6 L178.9,125.5 L179.5,126.2 L180.1,126.9 L180.6,127.3Z" fill="#c8e4f6" opacity="0.8"/><path d="M166.1,188.6 L167.7,188.6 L169.7,188.7 L172.1,188.7 L174.8,188.6 L177.7,188.6 L180.8,188.5 L183.9,188.3 L187.1,188.1 L190.3,187.8 L193.4,187.4 L196.4,187.0 L199.1,186.4 L201.6,185.7 L204.0,185.0 L206.3,184.1 L208.6,183.3 L210.8,182.3 L213.0,181.3 L215.2,180.2 L217.4,178.9 L219.5,177.6 L221.6,176.1 L223.7,174.6 L225.8,172.9 L227.7,170.9 L229.6,168.7 L231.4,166.4 L233.2,164.0 L234.9,161.6 L236.5,159.1 L238.0,156.6 L239.6,154.2 L241.1,151.8 L242.6,149.4 L244.0,147.2 L245.5,145.0 L246.9,142.8 L248.4,140.4 L249.8,138.1 L251.1,135.8 L252.5,133.6 L253.8,131.4 L255.0,129.3 L256.3,127.2 L257.6,125.3 L258.9,123.5 L260.2,121.8 L261.5,120.3 L262.8,118.7 L264.2,117.3 L265.6,115.8 L267.0,114.5 L268.4,113.2 L269.9,112.0 L271.4,110.8 L272.9,109.7 L274.5,108.6 L276.0,107.6 L277.6,106.7 L279.2,105.7 L280.8,104.9 L282.6,104.1 L284.5,103.3 L286.5,102.6 L288.5,102.0 L290.6,101.4 L292.6,100.9 L294.4,100.3 L296.2,99.9 L297.7,99.4 L299.1,99.0 L300.1,98.6 L299.9,97.4 L298.8,97.4 L297.4,97.5 L295.8,97.5 L294.0,97.6 L292.0,97.7 L289.9,97.9 L287.7,98.1 L285.5,98.3 L283.3,98.7 L281.0,99.1 L278.9,99.6 L276.8,100.3 L274.9,101.0 L273.0,101.8 L271.1,102.6 L269.2,103.5 L267.4,104.5 L265.5,105.5 L263.6,106.7 L261.8,107.9 L259.9,109.2 L258.1,110.6 L256.3,112.1 L254.5,113.7 L252.8,115.5 L251.1,117.5 L249.6,119.5 L248.0,121.6 L246.6,123.8 L245.1,126.0 L243.7,128.2 L242.3,130.4 L240.9,132.6 L239.4,134.7 L238.0,136.9 L236.5,139.0 L235.0,141.2 L233.5,143.6 L231.9,146.0 L230.4,148.5 L228.9,150.9 L227.4,153.3 L225.9,155.6 L224.4,157.8 L222.8,159.8 L221.3,161.8 L219.8,163.5 L218.2,165.1 L216.7,166.7 L215.2,168.2 L213.6,169.7 L212.0,171.0 L210.3,172.3 L208.6,173.5 L206.8,174.6 L205.0,175.7 L203.1,176.7 L201.1,177.7 L199.0,178.7 L196.9,179.6 L194.6,180.5 L192.1,181.4 L189.3,182.2 L186.3,183.0 L183.3,183.6 L180.2,184.3 L177.3,184.9 L174.4,185.4 L171.8,186.0 L169.5,186.5 L167.5,186.9 L165.9,187.4Z" fill="#a9d0ec" opacity="0.9"/><path d="M166.0,188.2 L167.6,188.1 L169.6,188.0 L172.0,187.8 L174.7,187.7 L177.6,187.5 L180.6,187.2 L183.7,186.9 L186.9,186.5 L190.0,186.1 L193.0,185.6 L195.9,185.0 L198.4,184.4 L200.8,183.6 L203.1,182.8 L205.3,181.9 L207.5,181.0 L209.6,180.0 L211.7,178.9 L213.7,177.8 L215.8,176.5 L217.7,175.2 L219.7,173.8 L221.6,172.2 L223.5,170.6 L225.4,168.7 L227.1,166.6 L228.9,164.4 L230.5,162.1 L232.2,159.8 L233.8,157.4 L235.3,154.9 L236.8,152.5 L238.3,150.1 L239.8,147.7 L241.3,145.4 L242.8,143.2 L244.3,141.0 L245.7,138.7 L247.1,136.5 L248.5,134.2 L249.8,132.0 L251.2,129.8 L252.5,127.6 L253.8,125.6 L255.2,123.6 L256.6,121.7 L258.0,119.9 L259.4,118.3 L260.9,116.7 L262.3,115.3 L263.9,113.8 L265.4,112.5 L267.0,111.2 L268.6,110.0 L270.2,108.9 L271.8,107.8 L273.5,106.8 L275.1,105.9 L276.8,105.0 L278.5,104.1 L280.2,103.3 L282.1,102.6 L284.1,101.9 L286.2,101.3 L288.3,100.8 L290.4,100.3 L292.4,99.9 L294.3,99.5 L296.1,99.2 L297.6,98.8 L299.0,98.5 L300.0,98.2 L300.0,97.9 L298.9,98.1 L297.6,98.2 L296.0,98.5 L294.2,98.7 L292.2,99.0 L290.2,99.3 L288.1,99.6 L285.9,100.1 L283.8,100.5 L281.7,101.1 L279.6,101.7 L277.8,102.5 L276.0,103.2 L274.2,104.1 L272.5,105.0 L270.7,106.0 L269.0,107.0 L267.2,108.1 L265.5,109.3 L263.9,110.5 L262.2,111.9 L260.5,113.3 L258.9,114.8 L257.3,116.3 L255.7,118.1 L254.2,119.9 L252.8,121.9 L251.4,123.9 L250.0,126.0 L248.6,128.1 L247.2,130.3 L245.8,132.6 L244.4,134.8 L243.0,137.0 L241.6,139.2 L240.1,141.4 L238.6,143.6 L237.1,146.0 L235.6,148.3 L234.1,150.8 L232.6,153.2 L231.0,155.6 L229.5,158.0 L227.9,160.3 L226.3,162.5 L224.6,164.5 L223.0,166.5 L221.2,168.2 L219.5,169.9 L217.7,171.4 L215.9,172.8 L214.1,174.2 L212.3,175.4 L210.4,176.6 L208.4,177.7 L206.4,178.7 L204.4,179.7 L202.2,180.6 L200.0,181.5 L197.8,182.3 L195.3,183.1 L192.6,183.8 L189.7,184.4 L186.7,185.0 L183.5,185.5 L180.4,186.0 L177.4,186.4 L174.6,186.7 L171.9,187.0 L169.6,187.3 L167.6,187.6 L166.0,187.9Z" fill="#d6edf9" opacity="0.9"/><path d="M165.9,187.6 L167.5,187.2 L169.5,186.9 L171.8,186.5 L174.5,186.0 L177.3,185.6 L180.3,185.0 L183.4,184.5 L186.5,183.9 L189.5,183.2 L192.3,182.5 L195.0,181.7 L197.3,180.8 L199.5,179.9 L201.6,179.0 L203.6,178.1 L205.6,177.1 L207.5,176.0 L209.4,174.9 L211.2,173.7 L212.9,172.4 L214.6,171.1 L216.3,169.7 L218.0,168.1 L219.6,166.5 L221.2,164.9 L222.8,163.0 L224.4,161.0 L226.0,158.9 L227.5,156.6 L229.0,154.3 L230.6,151.9 L232.1,149.5 L233.6,147.1 L235.1,144.7 L236.6,142.3 L238.1,140.1 L239.6,137.9 L241.1,135.8 L242.5,133.6 L243.9,131.4 L245.3,129.2 L246.7,127.0 L248.1,124.8 L249.5,122.7 L251.0,120.6 L252.5,118.6 L254.1,116.7 L255.8,114.9 L257.5,113.3 L259.2,111.8 L260.9,110.4 L262.7,109.1 L264.5,107.8 L266.3,106.7 L268.1,105.6 L269.9,104.6 L271.7,103.7 L273.5,102.8 L275.4,102.0 L277.2,101.2 L279.2,100.6 L281.3,100.0 L283.5,99.5 L285.7,99.1 L287.9,98.8 L290.0,98.5 L292.1,98.3 L294.1,98.1 L295.9,97.9 L297.5,97.8 L298.8,97.7 L299.9,97.6 L299.9,97.5 L298.8,97.5 L297.4,97.6 L295.8,97.6 L294.0,97.7 L292.1,97.9 L290.0,98.1 L287.8,98.3 L285.6,98.6 L283.3,99.0 L281.1,99.4 L279.0,99.9 L276.9,100.6 L275.0,101.3 L273.2,102.1 L271.3,103.0 L269.5,103.9 L267.6,104.9 L265.8,105.9 L263.9,107.1 L262.1,108.3 L260.3,109.6 L258.5,111.0 L256.7,112.5 L254.9,114.1 L253.2,115.9 L251.6,117.9 L250.0,119.9 L248.5,122.0 L247.1,124.1 L245.6,126.3 L244.2,128.5 L242.8,130.7 L241.4,132.9 L240.0,135.1 L238.5,137.2 L237.1,139.3 L235.5,141.6 L234.0,144.0 L232.5,146.4 L231.0,148.8 L229.5,151.2 L227.9,153.6 L226.4,155.9 L224.9,158.1 L223.4,160.2 L221.8,162.2 L220.3,164.0 L218.7,165.6 L217.1,167.2 L215.6,168.7 L213.9,170.1 L212.3,171.5 L210.6,172.7 L208.8,173.9 L207.0,175.1 L205.2,176.1 L203.3,177.2 L201.2,178.2 L199.2,179.1 L197.0,180.0 L194.7,180.9 L192.2,181.7 L189.4,182.5 L186.4,183.3 L183.3,183.9 L180.3,184.5 L177.3,185.1 L174.4,185.6 L171.8,186.1 L169.5,186.6 L167.5,187.0 L165.9,187.5Z" fill="#c8e4f6" opacity="0.8"/><path d="M269.6,163.1 L270.0,161.8 L270.5,160.1 L270.9,158.1 L271.4,155.9 L271.9,153.5 L272.5,151.0 L273.1,148.4 L273.7,145.9 L274.5,143.5 L275.3,141.2 L276.2,139.2 L277.2,137.6 L278.3,136.0 L279.4,134.4 L280.7,132.8 L282.1,131.3 L283.5,129.8 L285.0,128.4 L286.6,127.0 L288.2,125.8 L289.8,124.6 L291.5,123.5 L293.1,122.5 L294.8,121.6 L296.4,120.8 L298.1,120.1 L299.9,119.4 L301.8,118.8 L303.7,118.3 L305.7,117.9 L307.7,117.5 L309.7,117.2 L311.7,116.9 L313.7,116.7 L315.6,116.6 L317.4,116.6 L319.1,116.6 L320.8,116.6 L322.5,116.8 L324.2,117.0 L325.9,117.3 L327.6,117.6 L329.3,118.1 L331.0,118.5 L332.6,119.0 L334.3,119.6 L336.0,120.2 L337.6,120.8 L339.1,121.3 L340.5,122.0 L342.0,122.6 L343.4,123.3 L344.8,124.0 L346.2,124.8 L347.5,125.7 L348.9,126.6 L350.3,127.5 L351.7,128.5 L353.1,129.6 L354.5,130.6 L355.9,131.7 L357.2,132.9 L358.6,134.3 L360.0,135.7 L361.5,137.1 L362.9,138.7 L364.4,140.3 L365.9,141.9 L367.4,143.5 L368.9,145.1 L370.5,146.6 L371.9,148.1 L373.3,149.5 L374.6,150.8 L376.0,152.1 L377.3,153.5 L378.6,154.8 L379.9,156.2 L381.3,157.5 L382.7,158.8 L384.2,160.2 L385.7,161.4 L387.2,162.7 L388.8,163.9 L390.4,164.9 L392.0,165.9 L393.7,166.9 L395.3,167.9 L397.0,168.8 L398.8,169.6 L400.5,170.4 L402.3,171.2 L404.1,171.9 L405.9,172.5 L407.7,173.0 L409.5,173.4 L411.4,173.7 L413.2,173.9 L415.0,173.9 L416.8,173.9 L418.6,173.8 L420.3,173.7 L422.0,173.4 L423.7,173.1 L425.4,172.7 L427.0,172.2 L428.5,171.7 L430.0,171.0 L431.5,170.3 L432.9,169.4 L434.2,168.4 L435.5,167.4 L436.6,166.4 L437.7,165.2 L438.8,164.1 L439.7,162.9 L440.6,161.7 L441.3,160.5 L442.0,159.3 L442.7,158.0 L443.2,156.7 L443.7,155.4 L444.1,154.0 L444.4,152.6 L444.6,151.2 L444.7,149.8 L444.7,148.5 L444.7,147.1 L444.6,145.8 L444.5,144.6 L444.2,143.4 L443.9,142.3 L443.4,141.1 L442.9,140.1 L442.2,139.1 L441.5,138.3 L440.7,137.5 L439.8,136.8 L439.0,136.1 L438.1,135.6 L437.2,135.1 L436.3,134.7 L435.3,134.4 L434.4,134.2 L433.5,134.1 L432.5,134.2 L431.5,134.3 L430.6,134.5 L429.7,134.8 L428.7,135.2 L427.9,135.6 L427.0,136.0 L426.2,136.5 L425.5,137.0 L424.8,137.6 L424.2,138.1 L423.6,138.8 L423.2,139.6 L422.8,140.4 L422.5,141.2 L422.3,142.1 L422.1,142.9 L421.9,143.8 L421.8,144.6 L421.7,145.3 L421.6,145.9 L421.5,146.4 L421.4,146.8 L422.6,147.2 L422.8,146.8 L422.9,146.2 L423.1,145.6 L423.3,144.9 L423.6,144.2 L423.8,143.4 L424.1,142.7 L424.4,141.9 L424.7,141.3 L425.1,140.7 L425.4,140.2 L425.8,139.9 L426.3,139.5 L426.9,139.2 L427.5,138.8 L428.3,138.5 L429.0,138.2 L429.8,138.0 L430.5,137.8 L431.3,137.6 L432.0,137.6 L432.6,137.6 L433.1,137.6 L433.6,137.8 L434.0,138.0 L434.5,138.3 L435.0,138.7 L435.5,139.2 L436.1,139.7 L436.5,140.2 L437.0,140.8 L437.3,141.4 L437.7,142.0 L437.9,142.6 L438.0,143.2 L438.1,143.7 L438.1,144.4 L438.1,145.1 L438.0,146.0 L437.9,146.9 L437.8,147.8 L437.6,148.8 L437.3,149.8 L437.0,150.7 L436.6,151.7 L436.2,152.5 L435.8,153.3 L435.3,154.0 L434.8,154.7 L434.2,155.4 L433.5,156.1 L432.8,156.9 L432.0,157.6 L431.1,158.3 L430.3,158.9 L429.4,159.5 L428.5,160.0 L427.7,160.4 L426.8,160.7 L426.0,161.0 L425.1,161.2 L424.1,161.4 L423.0,161.5 L421.9,161.6 L420.7,161.7 L419.6,161.7 L418.3,161.6 L417.1,161.5 L415.9,161.4 L414.7,161.2 L413.6,160.9 L412.5,160.6 L411.4,160.2 L410.2,159.8 L409.0,159.3 L407.7,158.7 L406.4,158.1 L405.1,157.4 L403.8,156.6 L402.4,155.8 L401.1,154.9 L399.8,154.0 L398.4,153.1 L397.2,152.1 L396.0,151.3 L394.8,150.3 L393.7,149.3 L392.5,148.3 L391.3,147.1 L390.1,145.9 L388.8,144.7 L387.5,143.4 L386.2,142.1 L384.9,140.7 L383.5,139.3 L382.1,137.9 L380.7,136.5 L379.3,135.1 L377.9,133.6 L376.5,132.1 L375.0,130.4 L373.4,128.8 L371.9,127.2 L370.3,125.5 L368.6,123.9 L366.9,122.3 L365.2,120.8 L363.5,119.4 L361.8,118.1 L360.2,116.9 L358.5,115.7 L356.9,114.6 L355.2,113.5 L353.5,112.4 L351.7,111.4 L350.0,110.5 L348.1,109.6 L346.3,108.7 L344.4,108.0 L342.4,107.2 L340.5,106.6 L338.5,106.0 L336.5,105.5 L334.4,105.0 L332.3,104.5 L330.2,104.1 L328.0,103.8 L325.8,103.5 L323.5,103.3 L321.2,103.3 L318.9,103.3 L316.6,103.4 L314.4,103.7 L312.1,104.0 L309.7,104.5 L307.4,105.0 L305.0,105.6 L302.7,106.3 L300.3,107.0 L298.0,107.9 L295.7,108.9 L293.5,109.9 L291.3,111.1 L289.2,112.4 L287.3,113.8 L285.4,115.3 L283.6,116.9 L281.8,118.5 L280.1,120.3 L278.5,122.1 L277.0,124.0 L275.5,126.0 L274.1,128.0 L272.9,130.1 L271.8,132.2 L270.8,134.4 L270.0,136.9 L269.4,139.5 L268.9,142.2 L268.6,144.9 L268.4,147.7 L268.3,150.4 L268.2,153.1 L268.2,155.5 L268.3,157.8 L268.3,159.9 L268.4,161.6 L268.4,162.9Z" fill="#a9d0ec" opacity="0.9"/><path d="M269.2,163.0 L269.5,161.7 L269.8,160.0 L270.1,158.0 L270.5,155.8 L270.8,153.3 L271.2,150.8 L271.7,148.2 L272.2,145.6 L272.8,143.1 L273.5,140.7 L274.4,138.5 L275.3,136.6 L276.3,134.8 L277.5,133.1 L278.7,131.4 L280.1,129.7 L281.5,128.1 L283.0,126.5 L284.6,125.0 L286.3,123.6 L287.9,122.3 L289.7,121.0 L291.4,119.9 L293.1,118.9 L294.9,117.9 L296.7,117.0 L298.7,116.3 L300.7,115.6 L302.7,114.9 L304.8,114.4 L306.9,113.9 L309.0,113.5 L311.1,113.2 L313.2,112.9 L315.2,112.7 L317.2,112.6 L319.0,112.6 L320.9,112.6 L322.8,112.8 L324.6,113.0 L326.5,113.2 L328.4,113.6 L330.2,114.0 L332.0,114.5 L333.8,115.0 L335.6,115.5 L337.3,116.1 L339.0,116.7 L340.7,117.3 L342.3,118.0 L343.8,118.7 L345.4,119.5 L346.9,120.3 L348.3,121.1 L349.8,122.0 L351.3,123.0 L352.8,124.0 L354.2,125.0 L355.7,126.1 L357.2,127.3 L358.7,128.5 L360.1,129.8 L361.6,131.1 L363.1,132.6 L364.6,134.2 L366.1,135.7 L367.6,137.3 L369.1,138.9 L370.6,140.5 L372.0,142.1 L373.5,143.6 L375.0,145.0 L376.4,146.4 L377.7,147.8 L379.0,149.1 L380.4,150.5 L381.7,151.8 L383.0,153.1 L384.3,154.4 L385.6,155.7 L387.0,156.9 L388.4,158.1 L389.8,159.3 L391.3,160.3 L392.8,161.4 L394.3,162.3 L395.9,163.3 L397.5,164.2 L399.1,165.1 L400.7,166.0 L402.3,166.7 L403.9,167.5 L405.5,168.1 L407.2,168.7 L408.8,169.2 L410.4,169.6 L412.0,169.9 L413.6,170.1 L415.3,170.2 L416.9,170.2 L418.5,170.2 L420.1,170.1 L421.7,169.9 L423.2,169.7 L424.7,169.3 L426.1,169.0 L427.5,168.5 L428.8,168.0 L430.1,167.4 L431.3,166.7 L432.5,165.9 L433.7,165.0 L434.7,164.1 L435.8,163.1 L436.7,162.1 L437.6,161.1 L438.4,160.0 L439.2,159.0 L439.9,157.9 L440.5,156.8 L441.0,155.7 L441.5,154.5 L441.8,153.3 L442.1,152.0 L442.4,150.8 L442.6,149.5 L442.7,148.3 L442.7,147.1 L442.7,145.9 L442.6,144.7 L442.4,143.7 L442.2,142.7 L441.8,141.8 L441.4,140.9 L440.8,140.0 L440.2,139.2 L439.6,138.5 L438.8,137.8 L438.1,137.2 L437.3,136.7 L436.5,136.2 L435.7,135.8 L434.9,135.5 L434.2,135.3 L433.4,135.2 L432.5,135.2 L431.7,135.3 L430.8,135.4 L429.9,135.7 L429.0,136.0 L428.2,136.4 L427.4,136.8 L426.6,137.2 L425.9,137.7 L425.2,138.1 L424.7,138.7 L424.2,139.2 L423.7,139.9 L423.4,140.7 L423.1,141.5 L422.8,142.3 L422.6,143.1 L422.4,143.9 L422.2,144.7 L422.1,145.4 L422.0,146.0 L421.9,146.5 L421.8,146.9 L422.1,147.0 L422.3,146.6 L422.4,146.1 L422.5,145.5 L422.7,144.8 L422.9,144.0 L423.1,143.2 L423.4,142.4 L423.6,141.7 L423.9,140.9 L424.3,140.2 L424.7,139.7 L425.2,139.2 L425.7,138.7 L426.3,138.3 L427.0,137.9 L427.8,137.5 L428.5,137.2 L429.4,136.8 L430.2,136.6 L431.0,136.4 L431.8,136.3 L432.6,136.2 L433.3,136.2 L433.9,136.4 L434.5,136.6 L435.2,136.9 L435.9,137.3 L436.6,137.7 L437.2,138.3 L437.9,138.8 L438.5,139.5 L439.0,140.2 L439.5,140.9 L439.9,141.6 L440.2,142.4 L440.4,143.1 L440.6,144.0 L440.7,144.9 L440.7,145.9 L440.7,147.0 L440.6,148.1 L440.4,149.2 L440.2,150.4 L439.9,151.5 L439.6,152.6 L439.2,153.7 L438.8,154.7 L438.3,155.6 L437.7,156.5 L437.0,157.4 L436.3,158.4 L435.5,159.3 L434.7,160.2 L433.8,161.1 L432.8,161.9 L431.8,162.6 L430.8,163.4 L429.8,164.0 L428.7,164.5 L427.6,165.0 L426.5,165.4 L425.2,165.7 L424.0,166.0 L422.6,166.2 L421.3,166.4 L419.9,166.5 L418.4,166.5 L417.0,166.5 L415.6,166.4 L414.1,166.2 L412.7,166.0 L411.3,165.7 L409.9,165.3 L408.5,164.9 L407.0,164.3 L405.5,163.7 L404.1,163.0 L402.6,162.3 L401.1,161.5 L399.6,160.6 L398.1,159.7 L396.7,158.8 L395.2,157.8 L393.8,156.8 L392.5,155.8 L391.2,154.8 L389.9,153.7 L388.6,152.5 L387.3,151.3 L386.0,150.0 L384.7,148.8 L383.4,147.4 L382.1,146.1 L380.8,144.7 L379.4,143.4 L378.0,142.0 L376.6,140.6 L375.2,139.1 L373.7,137.6 L372.2,136.0 L370.7,134.4 L369.2,132.8 L367.7,131.2 L366.2,129.6 L364.6,128.0 L363.1,126.6 L361.5,125.2 L359.9,123.9 L358.3,122.7 L356.8,121.5 L355.2,120.4 L353.7,119.4 L352.1,118.3 L350.5,117.4 L348.9,116.5 L347.3,115.6 L345.7,114.8 L344.0,114.0 L342.3,113.3 L340.5,112.6 L338.7,112.0 L336.8,111.4 L335.0,110.9 L333.1,110.4 L331.1,109.9 L329.1,109.5 L327.1,109.2 L325.1,108.9 L323.1,108.7 L321.0,108.6 L319.0,108.6 L316.9,108.7 L314.8,108.9 L312.7,109.1 L310.5,109.5 L308.3,109.9 L306.1,110.3 L303.9,110.9 L301.7,111.5 L299.5,112.3 L297.4,113.1 L295.3,114.0 L293.3,115.0 L291.4,116.1 L289.6,117.3 L287.8,118.6 L286.1,119.9 L284.4,121.4 L282.7,123.0 L281.1,124.6 L279.6,126.3 L278.1,128.1 L276.8,129.9 L275.5,131.8 L274.4,133.7 L273.4,135.7 L272.5,137.8 L271.8,140.2 L271.2,142.7 L270.7,145.3 L270.3,148.0 L270.0,150.6 L269.7,153.2 L269.5,155.7 L269.3,157.9 L269.2,159.9 L269.0,161.6 L268.9,163.0Z" fill="#d6edf9" opacity="0.9"/><path d="M268.6,162.9 L268.7,161.6 L268.7,159.9 L268.7,157.9 L268.8,155.6 L268.9,153.1 L269.0,150.5 L269.3,147.8 L269.5,145.1 L269.9,142.4 L270.5,139.8 L271.1,137.3 L271.9,135.0 L272.9,132.9 L274.1,130.9 L275.3,128.9 L276.7,126.9 L278.1,125.1 L279.7,123.3 L281.3,121.5 L283.0,119.8 L284.7,118.2 L286.5,116.7 L288.3,115.3 L290.2,114.0 L292.2,112.8 L294.3,111.8 L296.5,110.8 L298.7,109.9 L300.9,109.1 L303.2,108.3 L305.5,107.7 L307.8,107.2 L310.1,106.7 L312.4,106.3 L314.6,106.0 L316.8,105.8 L318.9,105.7 L321.1,105.7 L323.3,105.8 L325.5,105.9 L327.6,106.2 L329.7,106.5 L331.8,106.9 L333.8,107.4 L335.8,107.9 L337.8,108.5 L339.7,109.0 L341.6,109.7 L343.4,110.4 L345.2,111.1 L347.0,111.9 L348.8,112.8 L350.5,113.7 L352.2,114.7 L353.8,115.7 L355.4,116.7 L357.0,117.8 L358.7,119.0 L360.2,120.1 L361.9,121.4 L363.5,122.8 L365.2,124.2 L366.8,125.8 L368.4,127.3 L370.0,129.0 L371.5,130.6 L373.1,132.2 L374.6,133.8 L376.0,135.4 L377.5,136.9 L378.9,138.3 L380.2,139.7 L381.6,141.1 L383.0,142.5 L384.4,143.9 L385.7,145.2 L387.0,146.5 L388.2,147.8 L389.5,149.0 L390.7,150.2 L391.9,151.3 L393.2,152.3 L394.4,153.3 L395.7,154.3 L397.0,155.2 L398.4,156.2 L399.8,157.1 L401.2,158.0 L402.6,158.8 L404.0,159.6 L405.4,160.3 L406.7,161.0 L408.1,161.6 L409.4,162.1 L410.7,162.5 L411.9,162.9 L413.2,163.2 L414.5,163.5 L415.8,163.6 L417.1,163.8 L418.4,163.8 L419.7,163.9 L421.0,163.8 L422.2,163.7 L423.4,163.5 L424.6,163.3 L425.7,163.1 L426.7,162.8 L427.7,162.4 L428.6,162.0 L429.6,161.5 L430.5,160.9 L431.4,160.2 L432.3,159.5 L433.2,158.8 L434.0,158.0 L434.8,157.1 L435.5,156.3 L436.1,155.5 L436.7,154.7 L437.1,153.9 L437.6,153.0 L438.0,152.1 L438.3,151.1 L438.6,150.0 L438.8,149.0 L439.0,147.9 L439.2,146.9 L439.2,145.9 L439.3,145.0 L439.2,144.2 L439.1,143.5 L439.0,142.8 L438.8,142.2 L438.5,141.5 L438.1,140.9 L437.6,140.2 L437.1,139.6 L436.6,139.0 L436.0,138.5 L435.4,138.1 L434.8,137.7 L434.3,137.4 L433.7,137.1 L433.2,137.0 L432.6,137.0 L431.9,137.0 L431.1,137.1 L430.4,137.2 L429.6,137.5 L428.8,137.7 L428.0,138.1 L427.3,138.4 L426.6,138.8 L426.0,139.2 L425.5,139.6 L425.1,140.0 L424.7,140.5 L424.4,141.1 L424.0,141.8 L423.8,142.6 L423.5,143.3 L423.3,144.1 L423.1,144.9 L422.9,145.6 L422.7,146.2 L422.5,146.7 L422.4,147.1 L422.5,147.2 L422.7,146.8 L422.9,146.2 L423.0,145.6 L423.2,144.9 L423.5,144.2 L423.7,143.4 L424.0,142.6 L424.3,141.9 L424.6,141.2 L425.0,140.6 L425.3,140.1 L425.7,139.8 L426.2,139.4 L426.8,139.0 L427.5,138.7 L428.2,138.4 L428.9,138.1 L429.7,137.8 L430.5,137.6 L431.2,137.5 L431.9,137.4 L432.6,137.4 L433.2,137.4 L433.6,137.5 L434.1,137.8 L434.6,138.1 L435.2,138.5 L435.7,139.0 L436.2,139.5 L436.7,140.0 L437.2,140.6 L437.6,141.2 L437.9,141.9 L438.2,142.5 L438.4,143.1 L438.4,143.7 L438.5,144.3 L438.5,145.1 L438.4,146.0 L438.3,146.9 L438.2,147.9 L438.0,148.9 L437.7,149.9 L437.4,150.9 L437.1,151.8 L436.7,152.7 L436.2,153.5 L435.8,154.2 L435.2,154.9 L434.6,155.7 L433.9,156.5 L433.2,157.2 L432.4,158.0 L431.5,158.7 L430.7,159.3 L429.8,159.9 L428.9,160.5 L428.0,160.9 L427.1,161.3 L426.2,161.6 L425.3,161.8 L424.3,162.0 L423.2,162.2 L422.0,162.3 L420.8,162.4 L419.6,162.4 L418.4,162.4 L417.1,162.3 L415.9,162.1 L414.6,161.9 L413.5,161.7 L412.3,161.3 L411.1,161.0 L409.9,160.6 L408.7,160.1 L407.4,159.5 L406.1,158.8 L404.7,158.1 L403.4,157.3 L402.0,156.5 L400.6,155.6 L399.3,154.7 L398.0,153.8 L396.7,152.8 L395.5,151.9 L394.3,151.0 L393.1,150.0 L391.9,148.9 L390.7,147.8 L389.5,146.6 L388.2,145.3 L386.9,144.0 L385.6,142.7 L384.3,141.3 L382.9,139.9 L381.5,138.5 L380.1,137.1 L378.7,135.7 L377.3,134.2 L375.8,132.6 L374.3,131.0 L372.8,129.4 L371.2,127.8 L369.6,126.1 L368.0,124.5 L366.4,123.0 L364.7,121.4 L362.9,120.0 L361.3,118.8 L359.7,117.6 L358.0,116.4 L356.4,115.3 L354.7,114.2 L353.0,113.2 L351.3,112.2 L349.6,111.3 L347.8,110.4 L345.9,109.5 L344.1,108.8 L342.2,108.0 L340.2,107.4 L338.3,106.8 L336.3,106.3 L334.2,105.8 L332.2,105.3 L330.0,104.9 L327.9,104.6 L325.7,104.3 L323.4,104.1 L321.2,104.1 L318.9,104.1 L316.7,104.2 L314.4,104.5 L312.2,104.8 L309.9,105.2 L307.5,105.7 L305.2,106.3 L302.8,107.0 L300.5,107.7 L298.2,108.6 L295.9,109.5 L293.7,110.5 L291.6,111.7 L289.6,112.9 L287.6,114.3 L285.8,115.8 L284.0,117.3 L282.2,119.0 L280.5,120.7 L278.9,122.5 L277.3,124.4 L275.9,126.3 L274.5,128.3 L273.3,130.4 L272.2,132.5 L271.1,134.6 L270.4,137.0 L269.7,139.6 L269.3,142.3 L268.9,145.0 L268.7,147.7 L268.5,150.5 L268.5,153.1 L268.4,155.6 L268.4,157.8 L268.4,159.9 L268.5,161.6 L268.5,162.9Z" fill="#c8e4f6" opacity="0.8"/><path d="M306.6,173.8 L306.4,172.9 L306.1,171.8 L305.6,170.5 L305.2,169.0 L304.7,167.4 L304.1,165.8 L303.6,164.1 L303.2,162.5 L302.8,160.9 L302.5,159.3 L302.4,158.0 L302.4,156.8 L302.5,155.7 L302.6,154.5 L302.8,153.4 L303.0,152.3 L303.3,151.2 L303.7,150.2 L304.1,149.2 L304.6,148.3 L305.1,147.4 L305.6,146.6 L306.2,145.9 L306.8,145.3 L307.4,144.6 L308.1,144.0 L308.9,143.4 L309.7,142.8 L310.7,142.3 L311.6,141.8 L312.6,141.4 L313.6,141.0 L314.6,140.7 L315.6,140.4 L316.5,140.3 L317.4,140.2 L318.4,140.2 L319.4,140.2 L320.4,140.3 L321.5,140.5 L322.6,140.7 L323.8,141.1 L324.9,141.4 L326.1,141.9 L327.2,142.3 L328.4,142.9 L329.5,143.5 L330.6,144.1 L331.6,144.8 L332.6,145.5 L333.7,146.4 L334.8,147.4 L335.9,148.5 L337.1,149.7 L338.3,150.9 L339.5,152.2 L340.7,153.5 L342.0,154.8 L343.4,156.2 L344.7,157.5 L346.0,158.6 L347.3,159.8 L348.6,161.0 L349.9,162.3 L351.2,163.5 L352.5,164.8 L353.9,166.0 L355.3,167.3 L356.8,168.6 L358.3,169.9 L359.8,171.1 L361.4,172.3 L363.1,173.4 L364.8,174.6 L366.5,175.7 L368.3,176.8 L370.1,177.9 L371.9,179.0 L373.7,180.1 L375.6,181.1 L377.4,182.1 L379.1,183.0 L380.9,183.8 L382.6,184.7 L384.4,185.3 L386.3,186.0 L388.1,186.6 L390.0,187.1 L391.9,187.6 L393.6,188.0 L395.4,188.4 L397.0,188.7 L398.4,189.0 L399.7,189.3 L400.9,189.4 L401.8,189.6 L402.2,188.4 L401.4,187.9 L400.4,187.4 L399.2,186.7 L397.9,186.1 L396.4,185.4 L394.9,184.6 L393.2,183.8 L391.6,183.0 L390.0,182.1 L388.4,181.2 L386.8,180.3 L385.4,179.3 L383.9,178.4 L382.3,177.4 L380.7,176.4 L379.1,175.3 L377.5,174.2 L375.8,173.0 L374.2,171.8 L372.6,170.6 L371.0,169.3 L369.5,168.1 L368.0,166.9 L366.6,165.7 L365.2,164.5 L363.9,163.4 L362.6,162.1 L361.3,160.9 L360.1,159.6 L358.8,158.4 L357.6,157.1 L356.4,155.7 L355.1,154.4 L353.9,153.1 L352.6,151.8 L351.3,150.5 L350.1,149.3 L348.9,148.1 L347.7,146.9 L346.4,145.6 L345.2,144.3 L343.9,143.0 L342.6,141.7 L341.3,140.4 L339.9,139.1 L338.5,138.0 L337.0,136.9 L335.4,135.9 L333.9,135.1 L332.3,134.4 L330.8,133.7 L329.2,133.2 L327.6,132.7 L326.0,132.3 L324.4,132.0 L322.8,131.8 L321.2,131.7 L319.6,131.6 L318.1,131.7 L316.6,131.8 L315.0,132.1 L313.5,132.5 L312.1,133.0 L310.6,133.5 L309.2,134.2 L307.9,135.0 L306.6,135.8 L305.4,136.6 L304.2,137.6 L303.1,138.6 L302.1,139.6 L301.2,140.7 L300.4,141.9 L299.8,143.2 L299.2,144.5 L298.7,145.8 L298.3,147.2 L297.9,148.6 L297.7,150.0 L297.5,151.4 L297.4,152.8 L297.4,154.3 L297.5,155.7 L297.6,157.2 L298.0,158.7 L298.5,160.4 L299.1,162.0 L299.8,163.7 L300.6,165.3 L301.4,166.9 L302.2,168.5 L303.0,170.0 L303.7,171.3 L304.4,172.5 L305.0,173.5 L305.4,174.2Z" fill="#a9d0ec" opacity="0.9"/><path d="M306.2,173.9 L306.0,173.1 L305.6,172.0 L305.1,170.7 L304.5,169.3 L303.9,167.8 L303.3,166.1 L302.7,164.5 L302.2,162.8 L301.7,161.2 L301.3,159.7 L301.1,158.2 L301.0,156.9 L301.0,155.7 L301.0,154.5 L301.2,153.2 L301.4,152.0 L301.6,150.9 L302.0,149.7 L302.4,148.6 L302.8,147.5 L303.3,146.5 L303.9,145.6 L304.5,144.7 L305.1,143.9 L305.8,143.1 L306.6,142.4 L307.5,141.7 L308.4,141.0 L309.4,140.3 L310.5,139.7 L311.6,139.2 L312.7,138.7 L313.8,138.4 L315.0,138.0 L316.1,137.8 L317.2,137.7 L318.3,137.6 L319.5,137.6 L320.7,137.7 L321.9,137.9 L323.2,138.1 L324.4,138.4 L325.7,138.8 L327.0,139.3 L328.3,139.8 L329.6,140.3 L330.8,141.0 L332.0,141.7 L333.2,142.4 L334.4,143.3 L335.5,144.2 L336.7,145.3 L337.9,146.4 L339.1,147.7 L340.3,148.9 L341.6,150.2 L342.8,151.5 L344.1,152.8 L345.4,154.1 L346.7,155.4 L348.0,156.6 L349.2,157.8 L350.5,159.0 L351.8,160.3 L353.1,161.6 L354.4,162.8 L355.8,164.1 L357.1,165.4 L358.5,166.7 L360.0,167.9 L361.4,169.1 L363.0,170.3 L364.5,171.5 L366.2,172.6 L367.9,173.8 L369.6,175.0 L371.3,176.1 L373.1,177.2 L374.9,178.3 L376.6,179.3 L378.4,180.4 L380.1,181.3 L381.8,182.2 L383.4,183.1 L385.1,183.8 L386.9,184.5 L388.7,185.2 L390.5,185.9 L392.3,186.4 L394.0,187.0 L395.7,187.5 L397.2,187.9 L398.7,188.3 L399.9,188.7 L401.0,189.0 L401.9,189.2 L402.0,188.9 L401.2,188.5 L400.1,188.1 L398.9,187.7 L397.5,187.1 L396.0,186.6 L394.4,186.0 L392.7,185.3 L391.0,184.6 L389.2,183.9 L387.5,183.1 L385.9,182.3 L384.3,181.5 L382.7,180.6 L381.1,179.6 L379.4,178.7 L377.7,177.6 L376.0,176.5 L374.3,175.4 L372.6,174.2 L370.9,173.1 L369.2,171.9 L367.6,170.7 L366.0,169.5 L364.5,168.3 L363.1,167.2 L361.7,166.0 L360.3,164.7 L358.9,163.5 L357.6,162.2 L356.3,160.9 L355.0,159.6 L353.8,158.3 L352.5,157.1 L351.2,155.8 L349.9,154.5 L348.7,153.3 L347.4,152.1 L346.1,150.8 L344.9,149.5 L343.7,148.2 L342.4,146.9 L341.2,145.6 L339.9,144.4 L338.7,143.2 L337.4,142.0 L336.1,141.0 L334.8,140.0 L333.5,139.2 L332.1,138.4 L330.8,137.8 L329.4,137.2 L327.9,136.7 L326.5,136.2 L325.1,135.8 L323.7,135.5 L322.3,135.3 L320.9,135.1 L319.5,135.1 L318.2,135.1 L316.9,135.2 L315.6,135.4 L314.3,135.7 L313.1,136.0 L311.8,136.5 L310.6,137.1 L309.4,137.7 L308.2,138.4 L307.1,139.1 L306.1,139.9 L305.1,140.8 L304.2,141.6 L303.4,142.5 L302.7,143.5 L302.1,144.5 L301.5,145.6 L301.0,146.8 L300.6,148.0 L300.2,149.2 L299.9,150.5 L299.7,151.8 L299.5,153.1 L299.5,154.4 L299.5,155.7 L299.5,157.0 L299.7,158.4 L300.1,160.0 L300.6,161.6 L301.1,163.2 L301.8,164.8 L302.5,166.5 L303.2,168.1 L303.9,169.6 L304.5,171.0 L305.1,172.2 L305.5,173.2 L305.9,174.0Z" fill="#d6edf9" opacity="0.9"/><path d="M305.6,174.1 L305.2,173.4 L304.7,172.3 L304.1,171.1 L303.4,169.8 L302.6,168.3 L301.9,166.7 L301.1,165.1 L300.4,163.5 L299.7,161.8 L299.2,160.2 L298.7,158.6 L298.5,157.1 L298.4,155.7 L298.3,154.3 L298.4,152.9 L298.5,151.6 L298.7,150.2 L299.0,148.8 L299.3,147.5 L299.7,146.2 L300.2,145.0 L300.8,143.8 L301.5,142.6 L302.2,141.5 L303.1,140.5 L304.0,139.6 L305.0,138.6 L306.2,137.8 L307.3,136.9 L308.6,136.2 L309.8,135.5 L311.2,134.9 L312.5,134.4 L313.9,133.9 L315.3,133.6 L316.7,133.3 L318.1,133.2 L319.6,133.2 L321.1,133.2 L322.6,133.4 L324.1,133.6 L325.6,133.9 L327.1,134.3 L328.6,134.7 L330.1,135.3 L331.6,135.9 L333.1,136.6 L334.6,137.4 L336.0,138.3 L337.4,139.3 L338.8,140.4 L340.1,141.6 L341.4,142.9 L342.7,144.2 L344.0,145.5 L345.2,146.8 L346.4,148.1 L347.6,149.3 L348.9,150.6 L350.1,151.8 L351.4,153.0 L352.7,154.3 L353.9,155.6 L355.2,156.9 L356.4,158.2 L357.7,159.5 L359.0,160.8 L360.3,162.1 L361.6,163.3 L362.9,164.5 L364.3,165.7 L365.7,166.9 L367.1,168.1 L368.6,169.3 L370.2,170.5 L371.8,171.7 L373.5,172.9 L375.1,174.1 L376.8,175.2 L378.5,176.3 L380.1,177.4 L381.8,178.4 L383.3,179.4 L384.9,180.3 L386.4,181.2 L388.0,182.1 L389.6,182.9 L391.3,183.7 L393.0,184.5 L394.6,185.2 L396.2,185.9 L397.7,186.6 L399.1,187.2 L400.3,187.7 L401.3,188.2 L402.1,188.6 L402.2,188.5 L401.4,188.0 L400.4,187.5 L399.2,186.9 L397.8,186.2 L396.3,185.6 L394.8,184.8 L393.2,184.0 L391.5,183.2 L389.9,182.4 L388.3,181.5 L386.7,180.6 L385.2,179.7 L383.7,178.7 L382.1,177.8 L380.5,176.7 L378.9,175.6 L377.3,174.5 L375.6,173.3 L374.0,172.2 L372.3,170.9 L370.7,169.7 L369.2,168.5 L367.7,167.3 L366.3,166.1 L364.9,164.9 L363.6,163.7 L362.3,162.5 L361.0,161.3 L359.7,160.0 L358.5,158.7 L357.2,157.4 L356.0,156.1 L354.7,154.8 L353.5,153.5 L352.2,152.2 L350.9,150.9 L349.7,149.8 L348.5,148.5 L347.3,147.3 L346.0,146.0 L344.8,144.7 L343.5,143.4 L342.2,142.1 L340.9,140.8 L339.6,139.6 L338.1,138.4 L336.7,137.3 L335.2,136.4 L333.6,135.6 L332.1,134.9 L330.5,134.2 L329.0,133.7 L327.4,133.2 L325.8,132.8 L324.3,132.5 L322.7,132.3 L321.1,132.2 L319.6,132.1 L318.1,132.2 L316.6,132.3 L315.1,132.6 L313.6,133.0 L312.2,133.4 L310.8,134.0 L309.4,134.6 L308.1,135.4 L306.8,136.2 L305.6,137.0 L304.5,137.9 L303.4,138.9 L302.4,139.9 L301.5,141.0 L300.8,142.2 L300.1,143.4 L299.5,144.6 L299.0,145.9 L298.6,147.3 L298.3,148.7 L298.0,150.0 L297.8,151.5 L297.7,152.9 L297.7,154.3 L297.8,155.7 L297.9,157.2 L298.2,158.7 L298.7,160.3 L299.3,161.9 L300.0,163.6 L300.7,165.3 L301.5,166.9 L302.3,168.4 L303.1,169.9 L303.8,171.2 L304.5,172.4 L305.1,173.4 L305.5,174.2Z" fill="#c8e4f6" opacity="0.8"/></g>
<path d="M690.4,9.6 Q703.8,46.7 732.6,69.3 Q746.2,55.6 747.5,37.0 Q746.2,55.6 758.2,71.0 Q763.2,60.5 767.3,45.3 Q764.2,56.8 774.0,69.3 Q799.8,53.0 819.5,22.0 Q797.5,56.6 789.7,87.5 Q816.0,88.7 836.0,73.4 Q818.8,86.6 811.2,103.3 Q841.8,114.0 872.6,104.0 Q844.1,113.2 827.0,135.6 Q836.8,151.5 849.4,152.1 Q840.6,151.7 833.6,158.7 Q840.9,170.7 853.5,173.7 Q838.2,170.1 822.8,181.0 Q816.6,227.0 837.0,248.3 Q811.5,221.7 788.0,206.8 Q782.3,219.2 787.2,227.5 Q785.1,224.0 774.8,225.9 Q770.3,234.4 773.1,242.5 Q769.5,232.1 755.7,227.5 Q744.4,254.2 745.8,289.0 Q744.3,252.8 719.4,224.0 Q711.9,229.4 708.6,239.0 Q712.1,228.6 704.5,216.8 Q685.8,223.0 673.7,240.0 Q679.0,232.5 673.0,219.0 Q650.3,220.4 631.5,235.8 Q656.3,215.5 663.8,184.4 Q652.3,186.4 638.2,192.7 Q646.6,188.9 647.0,169.5 Q635.6,154.5 623.2,155.4 Q645.2,153.8 661.0,143.0 Q644.1,113.0 614.6,102.5 Q637.2,110.5 659.7,102.5 Q663.0,72.4 647.8,57.7 Q668.0,77.3 692.8,82.6 Q703.4,45.7 690.4,9.6Z" fill="#c9ccd6" opacity="0.45"/>
<path d="M695.4,6.6 Q708.8,43.7 737.6,66.3 Q751.2,52.6 752.5,34.0 Q751.2,52.6 763.2,68.0 Q768.2,57.5 772.3,42.3 Q769.2,53.8 779.0,66.3 Q804.8,50.0 824.5,19.0 Q802.5,53.6 794.7,84.5 Q821.0,85.7 841.0,70.4 Q823.8,83.6 816.2,100.3 Q846.8,111.0 877.6,101.0 Q849.1,110.2 832.0,132.6 Q841.8,148.5 854.4,149.1 Q845.6,148.7 838.6,155.7 Q845.9,167.7 858.5,170.7 Q843.2,167.1 827.8,178.0 Q821.6,224.0 842.0,245.3 Q816.5,218.7 793.0,203.8 Q787.3,216.2 792.2,224.5 Q790.1,221.0 779.8,222.9 Q775.3,231.4 778.1,239.5 Q774.5,229.1 760.7,224.5 Q749.4,251.2 750.8,286.0 Q749.3,249.8 724.4,221.0 Q716.9,226.4 713.6,236.0 Q717.1,225.6 709.5,213.8 Q690.8,220.0 678.7,237.0 Q684.0,229.5 678.0,216.0 Q655.3,217.4 636.5,232.8 Q661.3,212.5 668.8,181.4 Q657.3,183.4 643.2,189.7 Q651.6,185.9 652.0,166.5 Q640.6,151.5 628.2,152.4 Q650.2,150.8 666.0,140.0 Q649.1,110.0 619.6,99.5 Q642.2,107.5 664.7,99.5 Q668.0,69.4 652.8,54.7 Q673.0,74.3 697.8,79.6 Q708.4,42.7 695.4,6.6Z" fill="#f28b0e"/>
<circle cx="748.5" cy="147" r="60" fill="#d07a0c"/>
<circle cx="745.5" cy="144" r="59.3" fill="#fdca38" stroke="#c97a12" stroke-width="1"/>
<path d="M284.0,845.0 C281.5,852.5 284.7,865.8 285.0,880.0 C285.3,894.2 285.0,914.2 286.0,930.0 C287.0,945.8 288.7,962.8 291.0,975.0 C293.3,987.2 294.3,997.5 300.0,1003.0 C305.7,1008.5 318.0,1008.5 325.0,1008.0 C332.0,1007.5 337.3,1009.3 342.0,1000.0 C346.7,990.7 351.0,970.0 353.0,952.0 C355.0,934.0 355.2,910.3 354.0,892.0 C352.8,873.7 350.0,855.3 346.0,842.0 C342.0,828.7 335.0,819.0 330.0,812.0 C325.0,805.0 321.0,796.2 316.0,800.0 C311.0,803.8 305.3,827.5 300.0,835.0 C294.7,842.5 286.5,837.5 284.0,845.0Z" fill="url(#water)" filter="url(#blur2)"/>
<path d="M292,850 C290,900 292,950 300,990 L318,992 C312,950 310,900 312,850Z" fill="#9ccaf0" opacity="0.5" filter="url(#blur4)"/>
<line x1="322" y1="822" x2="326" y2="830" stroke="#ffffff" stroke-width="1.3" opacity="0.85"/>
<line x1="333" y1="838" x2="336" y2="846" stroke="#ffffff" stroke-width="1.3" opacity="0.85"/>
<line x1="318" y1="860" x2="320" y2="868" stroke="#ffffff" stroke-width="1.3" opacity="0.85"/>
<line x1="340" y1="872" x2="342" y2="880" stroke="#ffffff" stroke-width="1.3" opacity="0.85"/>
<line x1="328" y1="895" x2="330" y2="903" stroke="#ffffff" stroke-width="1.3" opacity="0.85"/>
<line x1="305" y1="905" x2="306" y2="913" stroke="#ffffff" stroke-width="1.3" opacity="0.85"/>
<line x1="345" y1="915" x2="346" y2="923" stroke="#ffffff" stroke-width="1.3" opacity="0.85"/>
<line x1="316" y1="935" x2="317" y2="943" stroke="#ffffff" stroke-width="1.3" opacity="0.85"/>
<line x1="335" y1="950" x2="336" y2="958" stroke="#ffffff" stroke-width="1.3" opacity="0.85"/>
<line x1="300" y1="880" x2="301" y2="887" stroke="#ffffff" stroke-width="1.3" opacity="0.85"/>
<path d="M426.0,1032.0 L426.1,1030.0 L426.2,1027.5 L426.2,1024.6 L426.3,1021.4 L426.4,1017.9 L426.5,1014.1 L426.6,1010.2 L426.7,1006.1 L426.8,1002.0 L426.8,997.9 L426.9,993.9 L427.0,990.0 L427.0,986.1 L427.1,982.2 L427.1,978.3 L427.2,974.3 L427.2,970.2 L427.2,966.1 L427.3,961.9 L427.3,957.7 L427.4,953.4 L427.4,949.0 L427.5,944.5 L427.5,940.0 L427.5,935.3 L427.5,930.5 L427.5,925.5 L427.5,920.4 L427.6,915.2 L427.6,910.0 L427.6,904.8 L427.6,899.6 L427.6,894.5 L427.6,889.5 L427.5,884.6 L427.5,880.0 L427.4,875.4 L427.3,870.9 L427.3,866.5 L427.2,862.1 L427.0,857.8 L426.9,853.6 L426.8,849.5 L426.7,845.4 L426.6,841.4 L426.5,837.5 L426.4,833.7 L426.2,829.9 L426.1,826.1 L426.0,822.4 L425.9,818.7 L425.8,815.0 L425.7,811.4 L425.6,807.9 L425.5,804.5 L425.4,801.2 L425.3,798.1 L425.2,795.1 L425.1,792.4 L425.0,789.8 L424.9,787.5 L424.7,785.3 L424.6,783.3 L424.5,781.4 L424.3,779.7 L424.2,778.2 L424.0,776.8 L423.9,775.5 L423.8,774.4 L423.7,773.4 L423.6,772.5 L423.5,771.7 L414.5,772.3 L414.5,773.1 L414.5,774.0 L414.6,775.0 L414.6,776.2 L414.6,777.4 L414.7,778.8 L414.7,780.3 L414.8,782.0 L414.9,783.8 L414.9,785.7 L415.0,787.9 L415.0,790.2 L415.1,792.7 L415.1,795.4 L415.2,798.4 L415.3,801.5 L415.3,804.7 L415.4,808.1 L415.4,811.6 L415.5,815.2 L415.6,818.9 L415.6,822.6 L415.7,826.4 L415.8,830.1 L415.8,833.9 L415.9,837.8 L416.0,841.7 L416.0,845.7 L416.1,849.7 L416.2,853.9 L416.3,858.1 L416.3,862.3 L416.4,866.7 L416.4,871.1 L416.5,875.5 L416.5,880.0 L416.5,884.7 L416.6,889.6 L416.6,894.5 L416.6,899.6 L416.6,904.8 L416.6,910.0 L416.6,915.2 L416.5,920.4 L416.5,925.5 L416.5,930.5 L416.5,935.3 L416.5,940.0 L416.5,944.5 L416.6,949.0 L416.6,953.4 L416.7,957.7 L416.7,961.9 L416.8,966.1 L416.8,970.2 L416.8,974.3 L416.9,978.3 L416.9,982.2 L417.0,986.1 L417.0,990.0 L417.1,993.9 L417.2,997.9 L417.2,1002.0 L417.3,1006.1 L417.4,1010.2 L417.5,1014.1 L417.6,1017.9 L417.7,1021.4 L417.8,1024.6 L417.8,1027.5 L417.9,1030.0 L418.0,1032.0Z" fill="#5db443"/>
<path d="M422.3,779.7 L422.0,779.4 L421.6,779.0 L421.2,778.5 L420.7,777.9 L420.1,777.2 L419.5,776.4 L418.9,775.6 L418.2,774.8 L417.4,774.0 L416.7,773.2 L415.8,772.4 L415.0,771.7 L414.0,771.1 L413.1,770.5 L412.0,769.9 L411.0,769.3 L409.9,768.8 L408.8,768.3 L407.8,767.8 L406.8,767.4 L405.9,767.0 L405.2,766.7 L404.5,766.5 L404.0,766.3 L402.0,769.7 L402.5,770.1 L403.1,770.5 L403.8,771.0 L404.6,771.5 L405.5,772.1 L406.4,772.7 L407.3,773.3 L408.2,773.9 L409.1,774.5 L409.8,775.1 L410.5,775.7 L411.0,776.3 L411.5,776.8 L411.9,777.4 L412.4,778.1 L412.9,778.8 L413.3,779.6 L413.7,780.3 L414.1,781.1 L414.5,781.8 L414.9,782.5 L415.2,783.2 L415.5,783.8 L415.7,784.3Z" fill="#5db443"/>
<path d="M423.9,783.0 L423.9,782.4 L424.0,781.7 L424.2,780.8 L424.4,779.9 L424.6,778.8 L424.8,777.7 L425.0,776.5 L425.3,775.3 L425.5,774.0 L425.7,772.8 L425.8,771.6 L426.0,770.5 L426.1,769.4 L426.2,768.2 L426.3,767.0 L426.3,765.8 L426.4,764.6 L426.4,763.4 L426.5,762.3 L426.5,761.3 L426.5,760.3 L426.5,759.5 L426.5,758.7 L426.5,758.2 L421.5,757.8 L421.4,758.4 L421.3,759.2 L421.2,760.0 L421.2,761.0 L421.1,762.0 L420.9,763.1 L420.8,764.2 L420.7,765.3 L420.6,766.4 L420.4,767.5 L420.2,768.6 L420.0,769.5 L419.8,770.4 L419.5,771.5 L419.2,772.5 L418.8,773.6 L418.4,774.7 L418.1,775.8 L417.7,776.9 L417.3,777.9 L417.0,778.8 L416.7,779.7 L416.4,780.4 L416.1,781.0Z" fill="#5db443"/>
<path d="M427.8,841.2 L428.1,840.2 L428.5,839.0 L429.0,837.6 L429.5,836.1 L430.1,834.5 L430.7,832.8 L431.4,831.0 L432.1,829.3 L432.8,827.6 L433.6,826.1 L434.3,824.7 L435.1,823.4 L435.9,822.3 L436.7,821.2 L437.6,820.1 L438.6,819.1 L439.6,818.1 L440.6,817.1 L441.6,816.1 L442.7,815.2 L443.8,814.4 L444.9,813.5 L446.1,812.7 L447.2,811.9 L448.4,811.1 L449.5,810.4 L450.7,809.7 L451.9,809.1 L453.2,808.5 L454.4,807.9 L455.7,807.3 L457.0,806.8 L458.3,806.3 L459.7,805.8 L461.1,805.4 L462.5,804.9 L464.0,804.5 L465.7,804.2 L467.5,803.9 L469.4,803.6 L471.3,803.3 L473.2,803.0 L475.1,802.8 L476.9,802.6 L478.5,802.4 L480.0,802.3 L481.3,802.1 L482.3,802.0 L481.7,798.0 L480.8,798.1 L479.5,798.3 L478.1,798.5 L476.4,798.6 L474.6,798.8 L472.8,799.1 L470.8,799.3 L468.8,799.6 L466.9,799.9 L465.0,800.3 L463.1,800.7 L461.5,801.1 L459.9,801.5 L458.4,801.9 L457.0,802.4 L455.5,802.9 L454.1,803.4 L452.7,804.0 L451.3,804.6 L450.0,805.2 L448.7,805.9 L447.3,806.6 L446.0,807.3 L444.8,808.1 L443.5,808.9 L442.3,809.8 L441.0,810.7 L439.8,811.6 L438.6,812.5 L437.4,813.5 L436.3,814.6 L435.1,815.7 L434.0,816.8 L433.0,818.0 L431.9,819.3 L430.9,820.6 L430.0,822.0 L429.0,823.7 L428.1,825.4 L427.2,827.1 L426.4,828.9 L425.6,830.7 L424.9,832.5 L424.2,834.1 L423.6,835.6 L423.1,836.9 L422.6,838.0 L422.2,838.8Z" fill="#5db443"/>
<path d="M420.8,876.9 L420.5,876.3 L420.2,875.5 L419.8,874.4 L419.4,873.2 L419.0,872.0 L418.4,870.6 L417.9,869.1 L417.3,867.7 L416.6,866.3 L415.9,864.9 L415.1,863.5 L414.2,862.3 L413.3,861.3 L412.3,860.3 L411.3,859.3 L410.3,858.4 L409.2,857.5 L408.1,856.7 L407.0,855.9 L405.8,855.2 L404.6,854.5 L403.4,853.9 L402.2,853.3 L401.0,852.7 L399.8,852.2 L398.5,851.8 L397.2,851.4 L395.9,851.1 L394.6,850.8 L393.3,850.5 L392.0,850.3 L390.6,850.2 L389.3,850.0 L387.9,849.9 L386.5,849.8 L385.1,849.8 L383.6,849.7 L381.9,849.7 L380.2,849.8 L378.4,849.9 L376.7,850.0 L374.9,850.2 L373.2,850.4 L371.6,850.5 L370.1,850.7 L368.8,850.8 L367.7,850.9 L366.9,851.0 L367.1,855.0 L368.0,855.0 L369.2,854.9 L370.5,854.8 L372.0,854.7 L373.6,854.5 L375.2,854.4 L376.9,854.3 L378.7,854.2 L380.4,854.2 L382.0,854.2 L383.5,854.2 L384.9,854.2 L386.2,854.4 L387.5,854.5 L388.8,854.6 L390.0,854.8 L391.3,855.0 L392.4,855.2 L393.6,855.5 L394.7,855.8 L395.8,856.1 L396.9,856.4 L398.0,856.8 L399.0,857.3 L400.0,857.8 L401.0,858.3 L402.1,858.9 L403.1,859.6 L404.1,860.2 L405.0,860.9 L405.9,861.7 L406.8,862.4 L407.6,863.2 L408.4,864.0 L409.2,864.8 L409.8,865.7 L410.4,866.5 L411.0,867.5 L411.5,868.7 L412.1,869.9 L412.6,871.2 L413.1,872.6 L413.5,873.9 L413.9,875.1 L414.3,876.3 L414.6,877.4 L414.9,878.3 L415.2,879.1Z" fill="#5db443"/>
<path d="M428.8,921.9 L429.1,921.2 L429.5,920.4 L429.9,919.5 L430.4,918.4 L430.9,917.3 L431.4,916.1 L432.0,914.9 L432.7,913.6 L433.3,912.4 L434.0,911.2 L434.7,910.1 L435.4,909.0 L436.2,908.0 L437.0,907.0 L437.9,906.0 L438.8,904.9 L439.8,903.9 L440.8,902.8 L441.8,901.8 L442.8,900.8 L443.9,899.9 L444.9,898.9 L445.9,898.0 L446.9,897.2 L447.9,896.4 L448.9,895.6 L449.9,894.8 L451.0,894.1 L452.0,893.4 L453.1,892.7 L454.1,892.0 L455.2,891.4 L456.3,890.8 L457.3,890.1 L458.4,889.5 L459.5,888.9 L460.6,888.3 L461.7,887.6 L462.9,887.0 L464.2,886.4 L465.4,885.7 L466.6,885.1 L467.8,884.6 L468.9,884.0 L469.9,883.5 L470.8,883.1 L471.6,882.7 L472.2,882.4 L471.8,881.6 L471.2,881.9 L470.4,882.2 L469.4,882.5 L468.4,882.9 L467.2,883.4 L466.0,883.9 L464.8,884.4 L463.5,884.9 L462.2,885.5 L460.9,886.0 L459.7,886.6 L458.5,887.1 L457.4,887.7 L456.3,888.2 L455.2,888.8 L454.1,889.4 L452.9,889.9 L451.8,890.5 L450.7,891.2 L449.5,891.8 L448.4,892.5 L447.3,893.3 L446.2,894.0 L445.1,894.8 L444.0,895.7 L442.9,896.6 L441.8,897.5 L440.7,898.5 L439.6,899.5 L438.5,900.5 L437.4,901.6 L436.4,902.6 L435.4,903.7 L434.4,904.8 L433.5,905.9 L432.6,907.0 L431.8,908.1 L430.9,909.3 L430.2,910.6 L429.4,911.9 L428.7,913.2 L428.1,914.4 L427.5,915.6 L426.9,916.8 L426.4,917.8 L425.9,918.7 L425.5,919.5 L425.2,920.1Z" fill="#5db443"/>
<path d="M420.6,958.6 L420.4,958.1 L420.1,957.6 L419.7,956.9 L419.3,956.0 L418.8,955.1 L418.3,954.1 L417.7,953.0 L417.1,951.9 L416.4,950.9 L415.6,949.8 L414.8,948.9 L413.8,948.0 L412.9,947.2 L411.9,946.5 L410.8,945.8 L409.7,945.2 L408.6,944.7 L407.5,944.2 L406.3,943.7 L405.2,943.2 L404.1,942.8 L403.0,942.4 L401.9,942.0 L400.9,941.7 L399.8,941.3 L398.8,941.0 L397.8,940.6 L396.7,940.3 L395.7,940.0 L394.6,939.8 L393.5,939.5 L392.5,939.3 L391.4,939.1 L390.3,939.0 L389.3,938.8 L388.2,938.8 L387.0,938.7 L385.8,938.7 L384.6,938.8 L383.4,938.9 L382.2,939.0 L381.0,939.2 L379.9,939.4 L378.8,939.5 L377.9,939.7 L377.0,939.8 L376.3,939.9 L375.8,940.0 L376.2,944.0 L376.8,943.9 L377.6,943.9 L378.4,943.8 L379.4,943.7 L380.4,943.5 L381.5,943.4 L382.6,943.3 L383.7,943.2 L384.8,943.2 L385.9,943.2 L386.9,943.2 L387.8,943.2 L388.7,943.4 L389.7,943.5 L390.6,943.7 L391.5,943.9 L392.5,944.1 L393.4,944.4 L394.3,944.6 L395.3,944.9 L396.2,945.3 L397.2,945.6 L398.2,946.0 L399.1,946.3 L400.1,946.7 L401.2,947.2 L402.2,947.6 L403.2,948.0 L404.3,948.5 L405.3,948.9 L406.2,949.4 L407.2,949.9 L408.0,950.5 L408.8,951.0 L409.6,951.5 L410.2,952.0 L410.7,952.6 L411.2,953.3 L411.7,954.0 L412.2,954.9 L412.7,955.8 L413.2,956.7 L413.6,957.6 L414.0,958.5 L414.4,959.4 L414.7,960.1 L415.1,960.9 L415.4,961.4Z" fill="#5db443"/>
<path d="M429.7,985.3 L430.0,984.6 L430.3,983.8 L430.6,982.8 L431.0,981.8 L431.4,980.8 L431.8,979.7 L432.2,978.5 L432.7,977.4 L433.2,976.3 L433.8,975.3 L434.3,974.4 L434.9,973.6 L435.6,972.9 L436.3,972.1 L437.2,971.3 L438.1,970.5 L439.1,969.8 L440.1,969.0 L441.2,968.3 L442.2,967.5 L443.2,966.8 L444.3,966.2 L445.3,965.5 L446.2,964.9 L447.1,964.3 L447.9,963.8 L448.7,963.3 L449.5,962.9 L450.2,962.4 L451.0,962.0 L451.7,961.6 L452.4,961.3 L453.2,960.9 L454.0,960.6 L454.8,960.2 L455.7,959.9 L456.6,959.6 L457.6,959.3 L458.7,959.0 L459.8,958.7 L460.9,958.4 L462.1,958.1 L463.2,957.9 L464.2,957.7 L465.2,957.4 L466.1,957.3 L466.9,957.1 L467.5,956.9 L466.5,953.1 L466.0,953.2 L465.2,953.3 L464.4,953.5 L463.4,953.7 L462.3,954.0 L461.2,954.2 L460.0,954.5 L458.8,954.8 L457.6,955.1 L456.5,955.4 L455.4,955.8 L454.3,956.1 L453.4,956.4 L452.5,956.8 L451.6,957.1 L450.7,957.5 L449.9,957.8 L449.0,958.2 L448.2,958.6 L447.4,959.1 L446.5,959.5 L445.6,960.0 L444.7,960.5 L443.8,961.1 L442.8,961.7 L441.8,962.3 L440.8,963.0 L439.6,963.6 L438.5,964.4 L437.4,965.1 L436.3,965.9 L435.1,966.7 L434.1,967.6 L433.0,968.5 L432.0,969.4 L431.1,970.4 L430.2,971.4 L429.4,972.6 L428.6,973.8 L427.9,975.0 L427.3,976.3 L426.7,977.5 L426.2,978.6 L425.7,979.7 L425.3,980.7 L424.9,981.6 L424.6,982.2 L424.3,982.7Z" fill="#5db443"/>
<path d="M392.2,856.3 L392.5,856.5 L393.0,856.7 L393.4,856.8 L393.8,857.0 L394.3,857.2 L394.8,857.5 L395.1,857.7 L395.4,857.9 L395.6,858.0 L395.6,858.0 L395.5,857.8 L395.6,857.5 L395.5,857.6 L395.3,857.9 L394.8,858.3 L394.2,858.9 L393.6,859.4 L392.8,860.0 L392.1,860.6 L391.3,861.1 L390.6,861.6 L390.0,862.1 L389.5,862.5 L389.1,862.8 L390.9,865.2 L391.3,864.9 L391.8,864.5 L392.4,864.1 L393.1,863.5 L393.9,863.0 L394.7,862.4 L395.5,861.8 L396.2,861.1 L396.9,860.5 L397.5,859.9 L398.0,859.3 L398.4,858.5 L398.5,857.5 L398.2,856.6 L397.8,855.9 L397.2,855.5 L396.7,855.1 L396.1,854.8 L395.6,854.5 L395.0,854.3 L394.6,854.1 L394.2,853.9 L393.9,853.8 L393.8,853.7Z" fill="#5db443"/>
<path d="M394.2,945.3 L394.5,945.4 L394.8,945.6 L395.2,945.8 L395.6,946.1 L396.1,946.3 L396.5,946.5 L396.9,946.8 L397.2,947.0 L397.4,947.2 L397.6,947.3 L397.6,947.3 L397.5,947.0 L397.5,946.8 L397.5,946.8 L397.3,947.1 L397.0,947.3 L396.7,947.7 L396.3,948.0 L395.8,948.4 L395.4,948.7 L395.0,949.1 L394.6,949.4 L394.2,949.7 L394.0,949.9 L396.0,952.1 L396.2,951.9 L396.5,951.7 L396.8,951.4 L397.3,951.1 L397.7,950.7 L398.2,950.3 L398.7,949.9 L399.2,949.5 L399.6,949.0 L400.0,948.5 L400.3,947.8 L400.5,947.0 L400.3,946.1 L399.9,945.5 L399.5,945.0 L399.0,944.6 L398.5,944.3 L398.0,944.0 L397.5,943.7 L397.0,943.4 L396.6,943.2 L396.2,943.0 L396.0,942.9 L395.8,942.7Z" fill="#5db443"/>
<path d="M461.2,801.8 L460.8,802.0 L460.4,802.2 L460.0,802.5 L459.4,802.9 L458.8,803.3 L458.1,803.7 L457.4,804.1 L456.7,804.6 L456.0,805.2 L455.3,805.7 L454.6,806.3 L453.9,806.9 L453.3,807.6 L452.6,808.4 L451.9,809.2 L451.2,810.1 L450.5,811.0 L449.9,811.9 L449.2,812.8 L448.6,813.6 L448.0,814.4 L447.5,815.1 L447.1,815.7 L446.8,816.1 L449.2,817.9 L449.5,817.4 L450.0,816.9 L450.5,816.2 L451.0,815.4 L451.6,814.6 L452.3,813.7 L452.9,812.8 L453.6,812.0 L454.3,811.1 L454.9,810.3 L455.5,809.6 L456.1,809.1 L456.6,808.5 L457.2,808.0 L457.8,807.5 L458.5,807.1 L459.1,806.6 L459.8,806.2 L460.4,805.8 L461.0,805.4 L461.5,805.1 L462.0,804.8 L462.5,804.5 L462.8,804.2Z" fill="#5db443"/>
<path d="M449.2,958.7 L449.1,958.8 L449.0,958.8 L448.8,958.9 L448.5,959.1 L448.2,959.2 L447.9,959.4 L447.6,959.6 L447.2,959.8 L446.8,960.1 L446.5,960.4 L446.1,960.7 L445.8,961.1 L445.5,961.6 L445.2,962.1 L445.0,962.6 L444.8,963.1 L444.6,963.6 L444.4,964.1 L444.2,964.6 L444.1,965.1 L443.9,965.6 L443.8,965.9 L443.7,966.2 L443.6,966.5 L446.4,967.5 L446.5,967.3 L446.6,966.9 L446.8,966.5 L446.9,966.1 L447.1,965.6 L447.2,965.1 L447.4,964.6 L447.6,964.2 L447.8,963.8 L447.9,963.4 L448.1,963.1 L448.2,962.9 L448.3,962.7 L448.5,962.6 L448.7,962.4 L448.9,962.3 L449.1,962.1 L449.3,962.0 L449.6,961.9 L449.8,961.8 L450.1,961.6 L450.3,961.5 L450.6,961.4 L450.8,961.3Z" fill="#5db443"/>
<path d="M480.2,803.9 L480.5,804.5 L480.8,805.1 L481.2,805.8 L481.7,806.4 L482.2,807.1 L482.7,807.8 L483.3,808.4 L483.8,809.1 L484.4,809.8 L485.0,810.5 L485.6,811.2 L486.2,811.9 L486.8,812.6 L487.4,813.3 L487.9,814.0 L488.4,814.7 L488.9,815.4 L489.3,816.1 L489.6,816.8 L489.9,817.5 L490.3,817.7 L490.9,818.0 L491.4,818.3 L492.0,818.6 L492.6,818.9 L493.2,819.2 L493.8,819.6 L494.5,819.9 L495.1,820.3 L495.8,820.7 L496.5,821.1 L497.2,821.5 L497.9,822.0 L498.6,822.4 L499.3,822.9 L500.0,823.3 L500.8,823.8 L503.8,820.3 L504.3,821.2 L504.9,822.0 L505.4,822.7 L506.0,823.4 L506.6,824.1 L507.2,824.8 L507.8,825.5 L508.4,826.2 L509.0,826.9 L509.7,827.4 L510.5,827.7 L511.3,827.9 L512.2,828.2 L513.0,828.5 L513.8,828.8 L514.6,829.1 L515.4,829.4 L516.2,829.7 L517.0,830.0 L517.8,830.3 L518.6,830.6 L521.2,827.9 L521.9,828.3 L522.6,828.7 L523.3,829.2 L524.1,829.6 L524.9,830.0 L525.7,830.4 L526.6,830.7 L527.5,831.1 L528.3,831.4 L529.3,831.6 L530.3,831.6 L531.2,831.7 L532.2,831.8 L533.1,831.8 L534.0,831.8 L534.8,831.8 L535.6,831.8 L536.4,831.7 L537.1,831.6 L537.7,831.4 L538.3,830.6 L538.2,829.9 L538.1,829.2 L537.9,828.5 L537.7,827.7 L537.4,826.9 L537.1,826.1 L536.8,825.3 L536.4,824.4 L536.0,823.5 L535.6,822.6 L535.2,821.6 L534.7,820.7 L534.2,819.8 L533.7,818.8 L533.0,818.1 L532.4,817.4 L531.7,816.8 L530.9,816.2 L530.2,815.6 L529.5,815.0 L528.6,814.7 L527.8,814.4 L526.9,814.2 L526.0,813.9 L527.4,810.1 L526.7,809.4 L526.0,808.8 L525.3,808.2 L524.6,807.5 L523.9,806.9 L523.2,806.3 L522.5,805.7 L521.8,805.1 L521.1,804.4 L520.4,803.8 L519.7,803.2 L518.8,803.0 L517.8,802.8 L516.9,802.6 L516.0,802.5 L515.0,802.5 L514.0,802.5 L513.1,802.5 L512.1,802.4 L511.1,802.4 L510.1,802.4 L511.6,798.0 L510.7,797.5 L509.9,797.1 L509.1,796.7 L508.3,796.2 L507.4,795.8 L506.5,795.4 L505.7,794.9 L504.8,794.5 L503.9,794.1 L503.0,793.7 L502.1,793.3 L501.1,792.9 L500.1,792.5 L498.9,792.6 L497.7,792.7 L496.6,792.9 L495.4,793.0 L494.3,793.2 L493.2,793.5 L492.1,793.7 L491.1,793.9 L490.1,794.2 L489.1,794.5 L488.2,794.8 L487.3,795.1 L486.4,795.5 L485.6,795.8 L484.8,796.2 L484.1,796.5 L483.4,796.9 L482.8,797.3 L482.3,797.7 L481.8,798.1Z" fill="#5aaf3c"/>
<path d="M445.4,818.4 L445.1,819.0 L445.0,819.6 L444.8,820.3 L444.7,821.0 L444.6,821.8 L444.5,822.6 L444.4,823.5 L444.4,824.3 L444.4,825.3 L444.4,826.2 L444.4,827.2 L444.4,828.1 L444.4,829.1 L444.4,830.1 L444.5,831.1 L444.5,832.1 L444.5,833.1 L444.5,834.1 L444.6,835.0 L444.6,836.0 L445.0,836.7 L445.5,837.4 L445.9,838.0 L446.3,838.7 L446.8,839.4 L447.2,840.1 L451.0,838.8 L451.0,839.7 L451.1,840.6 L451.1,841.6 L451.1,842.5 L451.2,843.4 L451.2,844.3 L451.3,845.2 L451.4,846.1 L451.7,846.8 L452.1,847.5 L452.5,848.1 L453.0,848.7 L453.4,849.3 L454.0,849.8 L454.6,850.3 L455.2,850.8 L455.8,851.3 L456.4,851.7 L457.0,852.2 L460.3,850.6 L460.6,851.3 L460.8,851.9 L461.1,852.5 L461.4,853.1 L461.6,853.6 L461.9,854.1 L462.2,854.6 L462.5,855.1 L462.8,855.6 L463.1,856.0 L463.4,856.4 L463.8,856.7 L464.2,857.0 L464.8,857.2 L465.3,857.4 L465.8,857.6 L466.3,857.7 L466.8,857.9 L467.3,858.1 L467.8,858.3 L468.3,858.4 L468.8,858.6 L469.3,858.7 L469.8,858.8 L470.2,858.9 L470.7,859.0 L471.1,859.1 L471.6,859.2 L472.0,859.2 L472.4,859.3 L472.8,859.3 L473.2,859.3 L473.6,859.3 L474.4,858.7 L474.6,858.4 L474.7,858.0 L474.9,857.7 L475.0,857.3 L475.1,856.9 L475.2,856.4 L475.3,856.0 L475.4,855.5 L475.5,855.0 L475.6,854.6 L475.6,854.1 L475.7,853.5 L475.7,853.0 L475.7,852.5 L475.8,851.9 L475.8,851.4 L475.7,850.9 L475.6,850.4 L475.4,849.9 L475.2,849.4 L475.0,848.9 L474.7,848.5 L474.3,848.0 L474.0,847.6 L473.6,847.2 L473.2,846.7 L472.8,846.3 L472.4,845.9 L471.9,845.5 L474.3,843.1 L474.1,842.4 L473.9,841.8 L473.8,841.2 L473.6,840.5 L473.4,839.9 L473.3,839.3 L473.1,838.6 L472.9,838.0 L472.8,837.4 L472.6,836.7 L472.3,836.1 L471.7,835.7 L471.0,835.4 L470.2,835.0 L469.5,834.6 L468.7,834.2 L468.0,833.8 L467.2,833.4 L466.4,833.0 L465.7,832.6 L468.6,829.9 L468.3,829.2 L467.9,828.5 L467.5,827.9 L467.1,827.2 L466.8,826.6 L466.4,825.9 L466.1,825.3 L465.7,824.6 L465.4,824.0 L464.7,823.6 L463.9,823.2 L463.1,822.8 L462.4,822.3 L461.6,821.8 L460.8,821.3 L460.0,820.7 L459.2,820.2 L458.4,819.7 L457.6,819.2 L456.9,818.7 L456.1,818.2 L455.3,817.7 L454.6,817.3 L453.9,816.9 L453.2,816.5 L452.5,816.2 L451.9,815.9 L451.2,815.7 L450.6,815.6Z" fill="#5aaf3c"/>
<path d="M367.4,853.1 L366.8,852.8 L366.1,852.6 L365.3,852.3 L364.5,852.1 L363.5,851.9 L362.5,851.7 L361.5,851.5 L360.4,851.3 L359.2,851.2 L358.0,851.1 L356.8,851.0 L355.5,850.9 L354.3,850.8 L353.0,850.8 L351.7,850.8 L350.3,850.8 L349.0,850.8 L347.6,850.9 L346.2,851.1 L344.9,851.3 L343.7,851.7 L342.7,852.1 L341.6,852.5 L340.6,853.0 L339.5,853.5 L338.5,854.0 L337.5,854.5 L336.5,855.0 L335.5,855.5 L334.5,856.1 L333.6,856.6 L332.6,857.2 L331.7,857.8 L333.9,861.8 L332.9,862.2 L331.8,862.5 L330.8,862.9 L329.7,863.2 L328.7,863.6 L327.7,864.0 L326.7,864.5 L325.8,865.0 L324.8,865.5 L323.9,866.1 L322.9,866.6 L322.0,867.2 L321.0,867.8 L320.1,868.5 L319.3,869.3 L318.7,870.1 L318.1,871.0 L317.4,871.9 L316.8,872.8 L316.2,873.8 L315.6,874.7 L315.1,875.7 L314.5,876.7 L314.0,877.7 L313.5,878.7 L317.5,881.9 L316.8,882.8 L316.2,883.7 L315.7,884.7 L315.1,885.7 L314.6,886.6 L314.1,887.6 L313.7,888.5 L313.2,889.5 L312.8,890.5 L312.5,891.4 L312.1,892.4 L311.8,893.3 L311.5,894.2 L311.2,895.2 L311.1,896.1 L311.2,897.1 L311.2,898.0 L311.2,899.0 L311.2,899.9 L311.2,900.8 L314.6,902.6 L314.4,903.6 L314.3,904.6 L314.2,905.7 L314.2,906.8 L314.1,907.9 L314.2,909.0 L314.2,910.1 L314.3,911.2 L314.4,912.3 L314.5,913.4 L314.7,914.4 L315.0,915.4 L315.3,916.4 L315.6,917.3 L316.0,918.2 L316.4,919.0 L316.7,919.7 L317.1,920.4 L317.5,920.9 L318.5,921.1 L319.0,920.7 L319.6,920.1 L320.2,919.5 L320.8,918.9 L321.3,918.2 L321.9,917.4 L322.5,916.5 L323.1,915.7 L323.8,914.8 L324.4,913.9 L325.0,912.9 L325.6,912.0 L326.3,911.0 L326.9,910.1 L327.5,909.2 L328.2,908.3 L328.8,907.4 L329.5,906.6 L330.1,905.9 L330.8,905.2 L331.1,904.4 L331.3,903.5 L331.4,902.6 L331.6,901.7 L331.7,900.8 L331.8,900.0 L331.9,899.1 L332.0,898.3 L332.1,897.5 L332.2,896.7 L332.2,895.9 L332.3,895.1 L332.4,894.4 L332.5,893.6 L337.0,894.4 L337.4,893.9 L337.8,893.5 L338.2,893.0 L338.6,892.7 L339.1,892.3 L339.3,891.8 L339.6,891.3 L339.9,890.8 L340.2,890.2 L340.5,889.7 L340.8,889.2 L340.9,888.6 L341.0,887.8 L341.1,887.1 L341.2,886.4 L341.3,885.6 L341.4,884.9 L341.5,884.1 L341.7,883.4 L341.9,882.6 L342.1,881.9 L342.3,881.1 L342.5,880.3 L342.8,879.5 L343.0,878.8 L346.8,881.4 L347.2,880.8 L347.6,880.1 L348.0,879.5 L348.4,878.9 L348.8,878.3 L349.2,877.7 L349.6,877.1 L350.1,876.5 L350.5,875.9 L350.9,875.4 L351.4,874.8 L351.8,874.3 L352.3,873.7 L352.7,873.2 L353.2,872.7 L353.7,872.2 L354.2,871.7 L354.7,871.2 L355.1,870.7 L355.4,870.1 L355.8,869.4 L356.3,868.7 L356.9,868.0 L357.6,867.2 L358.4,866.5 L359.2,865.7 L360.0,865.0 L360.9,864.3 L361.7,863.5 L362.6,862.8 L363.4,862.1 L364.3,861.4 L365.0,860.7 L365.8,860.1 L366.5,859.4 L367.1,858.8 L367.7,858.1 L368.2,857.5 L368.6,856.9Z" fill="#5aaf3c"/>
<path d="M386.5,863.8 L386.0,864.2 L385.5,864.6 L384.9,865.1 L384.4,865.7 L383.9,866.3 L383.3,866.9 L382.8,867.5 L382.3,868.2 L381.7,868.9 L381.2,869.6 L380.7,870.4 L380.1,871.1 L379.6,871.8 L379.0,872.6 L378.4,873.3 L377.9,874.0 L377.3,874.6 L376.8,875.2 L376.2,875.8 L375.6,876.3 L375.5,877.0 L375.4,877.7 L375.2,878.4 L375.1,879.0 L375.0,879.7 L374.9,880.4 L374.7,881.1 L374.6,881.7 L374.4,882.4 L374.3,883.1 L374.1,883.7 L374.0,884.4 L373.8,885.0 L373.7,885.6 L373.5,886.3 L377.6,887.9 L377.1,888.5 L376.5,889.1 L375.9,889.6 L375.3,890.1 L374.9,890.6 L374.5,891.2 L374.1,891.7 L373.7,892.2 L373.3,892.8 L372.8,893.3 L372.4,893.9 L372.2,894.5 L372.1,895.2 L371.9,896.0 L371.8,896.7 L371.7,897.5 L371.5,898.3 L371.4,899.1 L371.2,899.9 L371.0,900.7 L373.9,902.9 L373.3,903.6 L372.8,904.4 L372.3,905.1 L371.9,906.0 L371.6,906.9 L371.2,907.8 L370.9,908.8 L370.5,909.9 L370.3,911.0 L370.2,912.2 L370.2,913.4 L370.1,914.7 L371.5,916.5 L371.1,917.6 L370.8,918.7 L370.6,919.7 L370.4,920.7 L370.3,921.7 L370.2,922.6 L370.2,923.5 L370.2,924.4 L370.4,925.1 L370.5,925.8 L371.5,926.2 L372.1,925.9 L372.8,925.5 L373.5,925.0 L374.2,924.4 L375.0,923.8 L375.8,923.1 L376.6,922.4 L377.5,921.6 L378.2,920.8 L378.9,919.9 L379.5,918.9 L380.1,917.9 L380.7,916.9 L381.2,915.8 L381.7,914.8 L382.2,913.8 L385.3,914.0 L386.1,913.2 L387.0,912.4 L387.7,911.7 L388.2,911.0 L388.7,910.3 L389.2,909.6 L389.7,908.9 L390.2,908.2 L390.7,907.5 L391.2,906.8 L391.7,906.1 L392.0,905.3 L392.2,904.4 L392.3,903.6 L392.5,902.7 L392.6,901.8 L392.7,901.0 L392.8,900.1 L392.9,899.2 L393.0,898.2 L393.1,897.3 L393.1,896.4 L393.1,895.4 L397.7,895.8 L397.9,894.9 L398.1,894.0 L398.3,893.1 L398.5,892.2 L398.7,891.3 L398.9,890.4 L399.0,889.5 L399.2,888.7 L399.3,887.8 L399.5,887.0 L399.6,886.1 L399.7,885.3 L399.8,884.5 L399.9,883.6 L400.0,882.8 L400.1,882.0 L400.2,881.2 L400.3,880.5 L400.4,879.7 L400.0,878.7 L399.6,877.8 L399.2,876.8 L398.8,875.9 L398.4,874.9 L398.0,874.0 L397.5,873.1 L397.1,872.2 L396.6,871.3 L396.2,870.5 L395.7,869.7 L395.3,868.9 L394.8,868.1 L394.3,867.4 L393.9,866.7 L393.4,866.1 L392.9,865.5 L392.4,865.0 L392.0,864.6 L391.5,864.2Z" fill="#5aaf3c"/>
<path d="M376.5,940.1 L375.9,939.8 L375.3,939.6 L374.6,939.4 L373.8,939.2 L373.0,939.0 L372.0,938.8 L371.0,938.7 L370.0,938.5 L368.9,938.4 L367.8,938.3 L366.7,938.2 L365.5,938.1 L364.3,938.1 L363.1,938.0 L361.9,938.0 L360.7,938.0 L359.5,938.1 L358.2,938.2 L356.9,938.3 L355.7,938.5 L354.6,938.9 L353.6,939.3 L352.6,939.7 L351.6,940.1 L350.7,940.5 L349.7,941.0 L348.8,941.4 L347.9,941.9 L347.0,942.4 L346.1,942.9 L347.8,946.5 L346.9,946.8 L345.9,947.1 L344.9,947.4 L344.0,947.8 L343.0,948.2 L342.1,948.5 L341.1,948.9 L340.1,949.3 L339.2,949.7 L338.3,950.4 L337.4,951.0 L336.5,951.7 L335.6,952.3 L334.8,953.1 L334.3,953.9 L333.8,954.8 L333.3,955.7 L332.8,956.5 L332.4,957.4 L332.0,958.2 L331.5,959.0 L331.2,959.9 L330.8,960.7 L330.4,961.5 L330.1,962.3 L333.7,964.7 L333.1,965.3 L332.5,965.9 L332.0,966.6 L331.6,967.3 L331.2,968.1 L330.8,968.9 L330.5,969.7 L330.2,970.5 L329.9,971.3 L329.6,972.1 L329.4,972.9 L329.2,973.6 L329.0,974.4 L328.9,975.1 L328.8,975.8 L328.9,976.6 L329.0,977.3 L329.1,978.0 L329.2,978.7 L329.3,979.4 L329.4,980.1 L332.4,981.3 L332.3,982.0 L332.2,982.7 L332.2,983.5 L332.2,984.3 L332.2,985.1 L332.2,986.0 L332.2,986.8 L332.3,987.7 L332.4,988.6 L332.5,989.4 L332.6,990.2 L332.8,991.1 L333.0,991.9 L333.2,992.7 L333.5,993.4 L333.9,994.1 L334.2,994.8 L334.5,995.4 L334.8,996.0 L335.2,996.5 L335.5,996.9 L336.5,997.1 L336.9,996.7 L337.4,996.3 L337.9,995.9 L338.3,995.3 L338.8,994.8 L339.3,994.2 L339.8,993.5 L340.3,992.8 L340.8,992.1 L341.3,991.4 L341.8,990.7 L342.3,989.9 L342.8,989.2 L343.3,988.4 L343.8,987.7 L344.3,987.0 L344.8,986.3 L345.2,985.7 L345.5,985.0 L345.8,984.4 L345.9,983.7 L346.1,983.0 L346.2,982.4 L346.3,981.7 L346.4,981.0 L346.5,980.4 L346.5,979.8 L346.6,979.2 L346.7,978.6 L346.7,978.0 L346.7,977.4 L346.8,976.8 L350.7,977.2 L351.1,976.8 L351.4,976.4 L351.7,976.0 L352.1,975.6 L352.4,975.3 L352.8,975.0 L353.2,974.6 L353.4,974.1 L353.6,973.5 L353.8,973.0 L354.0,972.4 L354.3,971.9 L354.5,971.3 L354.8,970.8 L355.0,970.3 L355.2,969.8 L355.5,969.3 L355.5,968.6 L355.5,968.0 L355.4,967.4 L355.4,966.8 L355.4,966.2 L355.4,965.6 L355.5,965.0 L355.5,964.4 L355.5,963.8 L355.6,963.2 L355.6,962.5 L355.7,961.7 L355.8,961.0 L355.9,960.2 L359.2,962.6 L359.5,962.1 L359.8,961.6 L360.1,961.1 L360.4,960.6 L360.7,960.1 L361.0,959.6 L361.3,959.1 L361.7,958.6 L362.0,958.1 L362.4,957.6 L362.8,957.2 L363.1,956.7 L363.5,956.3 L363.9,955.9 L364.3,955.5 L364.6,954.9 L364.9,954.4 L365.4,953.8 L366.0,953.2 L366.7,952.5 L367.4,951.9 L368.2,951.3 L369.0,950.7 L369.8,950.1 L370.7,949.4 L371.5,948.9 L372.3,948.3 L373.2,947.7 L374.0,947.1 L374.7,946.6 L375.4,946.0 L376.1,945.5 L376.6,944.9 L377.1,944.4 L377.5,943.9Z" fill="#5aaf3c"/>
<path d="M392.5,949.6 L392.1,949.9 L391.6,950.2 L391.2,950.6 L390.7,951.0 L390.2,951.4 L389.7,951.9 L389.3,952.5 L388.8,953.0 L388.3,953.6 L387.8,954.2 L387.3,954.8 L386.8,955.4 L386.3,956.0 L385.7,956.6 L385.2,957.2 L384.7,957.8 L384.2,958.4 L383.7,958.9 L383.2,959.5 L382.7,960.0 L382.6,960.5 L382.4,961.1 L382.3,961.7 L382.1,962.4 L382.0,963.0 L381.8,963.6 L381.6,964.2 L381.5,964.8 L381.3,965.4 L381.1,966.0 L381.0,966.7 L380.8,967.3 L380.6,967.9 L384.1,969.4 L383.6,969.9 L383.1,970.5 L382.6,971.0 L382.1,971.5 L381.6,972.1 L381.0,972.6 L380.7,973.2 L380.3,973.8 L380.0,974.4 L379.7,975.0 L379.4,975.6 L379.4,976.2 L379.3,976.9 L379.3,977.5 L379.3,978.2 L379.3,978.9 L379.3,979.5 L379.3,980.2 L379.3,980.8 L382.0,982.3 L381.7,982.9 L381.3,983.5 L381.0,984.0 L380.7,984.6 L380.3,985.1 L380.0,985.7 L379.8,986.3 L379.7,986.9 L379.5,987.6 L379.3,988.4 L379.3,989.2 L379.2,990.1 L379.2,990.9 L380.7,992.5 L380.4,993.3 L380.1,994.1 L379.9,994.8 L379.7,995.6 L379.5,996.3 L379.4,997.1 L379.3,997.8 L379.3,998.5 L379.3,999.1 L379.3,999.7 L379.4,1000.3 L379.5,1000.8 L380.5,1001.2 L380.9,1001.0 L381.4,1000.7 L382.0,1000.4 L382.6,1000.1 L383.1,999.7 L383.8,999.2 L384.4,998.7 L385.0,998.2 L385.7,997.6 L386.3,997.0 L386.8,996.3 L387.3,995.6 L387.8,994.9 L388.2,994.2 L388.6,993.4 L389.0,992.6 L389.4,991.9 L389.7,991.1 L392.4,991.3 L393.0,990.7 L393.4,990.0 L393.9,989.4 L394.3,988.7 L394.7,988.1 L395.1,987.4 L395.5,986.7 L395.9,986.1 L396.3,985.4 L396.7,984.8 L397.1,984.1 L397.4,983.5 L397.5,982.8 L397.6,982.1 L397.6,981.3 L397.7,980.6 L397.7,979.9 L397.7,979.2 L397.7,978.5 L397.7,977.8 L397.6,977.0 L397.5,976.3 L397.3,975.5 L401.1,975.7 L401.3,975.0 L401.4,974.3 L401.5,973.6 L401.7,972.9 L401.8,972.2 L402.0,971.5 L402.1,970.8 L402.2,970.1 L402.4,969.4 L402.5,968.8 L402.6,968.1 L402.7,967.4 L402.9,966.7 L403.0,966.0 L403.1,965.4 L403.2,964.7 L403.3,964.0 L403.0,963.3 L402.8,962.5 L402.5,961.7 L402.3,960.9 L402.0,960.1 L401.7,959.3 L401.4,958.5 L401.2,957.7 L400.9,957.0 L400.6,956.2 L400.3,955.5 L400.0,954.8 L399.7,954.1 L399.4,953.4 L399.1,952.8 L398.8,952.2 L398.5,951.7 L398.1,951.2 L397.8,950.8 L397.5,950.4Z" fill="#5aaf3c"/>
<path d="M466.1,958.9 L466.4,959.4 L466.7,960.0 L467.0,960.6 L467.4,961.2 L467.9,961.8 L468.4,962.5 L468.9,963.1 L469.4,963.8 L470.0,964.4 L470.5,965.1 L471.1,965.7 L471.7,966.4 L472.3,967.1 L472.8,967.7 L473.4,968.4 L473.9,969.1 L474.4,969.7 L474.8,970.4 L475.2,971.0 L475.5,971.7 L476.1,971.9 L476.6,972.1 L477.2,972.3 L477.8,972.5 L478.4,972.7 L479.0,973.0 L479.6,973.2 L480.3,973.5 L480.9,973.7 L481.5,974.0 L482.1,974.2 L484.6,970.7 L485.0,971.4 L485.4,972.0 L485.9,972.7 L486.3,973.4 L486.7,974.0 L487.1,974.7 L487.5,975.3 L487.8,975.9 L488.2,976.4 L488.6,976.8 L489.2,976.9 L489.8,977.0 L490.3,977.1 L490.9,977.2 L491.5,977.3 L492.0,977.4 L492.6,977.4 L493.1,977.5 L493.7,977.6 L494.2,977.8 L494.8,977.9 L495.3,978.0 L495.8,978.1 L498.0,975.7 L498.4,976.1 L498.8,976.4 L499.2,976.8 L499.6,977.1 L500.0,977.3 L500.5,977.5 L501.0,977.7 L501.5,978.0 L502.0,978.2 L502.6,978.3 L503.1,978.5 L503.7,978.7 L504.4,978.7 L505.0,978.7 L505.7,978.8 L506.3,978.8 L506.9,978.8 L507.6,978.8 L508.1,978.8 L508.7,978.8 L509.3,978.7 L509.8,978.6 L510.3,978.5 L510.7,978.4 L511.3,977.6 L511.3,977.1 L511.3,976.7 L511.3,976.1 L511.2,975.6 L511.1,975.1 L510.9,974.5 L510.8,973.9 L510.6,973.3 L510.4,972.6 L510.2,972.0 L510.0,971.4 L509.8,970.7 L509.5,970.0 L509.2,969.4 L509.0,968.7 L508.7,968.0 L508.3,967.5 L507.9,967.0 L507.4,966.5 L507.0,966.0 L506.5,965.8 L506.0,965.5 L505.5,965.2 L504.9,965.0 L504.4,964.8 L503.8,964.5 L503.3,964.3 L502.7,964.1 L503.9,961.0 L503.5,960.5 L503.1,960.0 L502.6,959.4 L502.1,958.9 L501.7,958.4 L501.2,957.9 L500.7,957.4 L500.2,956.9 L499.6,956.4 L499.1,955.9 L498.6,955.4 L497.9,955.0 L497.3,954.8 L496.4,954.8 L495.6,954.8 L494.7,954.8 L493.9,954.9 L493.0,954.9 L492.1,955.0 L491.2,955.0 L490.3,955.1 L489.4,955.1 L490.4,951.1 L489.7,950.7 L489.0,950.3 L488.2,950.0 L487.5,949.7 L486.7,949.3 L486.0,949.0 L485.2,948.7 L484.5,948.3 L483.5,948.5 L482.5,948.6 L481.5,948.8 L480.5,948.9 L479.5,949.1 L478.6,949.3 L477.6,949.5 L476.7,949.7 L475.8,950.0 L474.9,950.2 L474.0,950.4 L473.1,950.7 L472.3,950.9 L471.5,951.2 L470.8,951.5 L470.1,951.8 L469.5,952.1 L468.9,952.4 L468.3,952.8 L467.9,953.1Z" fill="#5aaf3c"/>
<path d="M442.9,968.3 L442.7,968.8 L442.6,969.3 L442.5,969.8 L442.4,970.4 L442.3,971.0 L442.3,971.7 L442.3,972.4 L442.3,973.1 L442.3,973.8 L442.3,974.6 L442.3,975.4 L442.3,976.1 L442.3,976.9 L442.4,977.7 L442.4,978.4 L442.4,979.2 L442.4,980.0 L442.4,980.7 L442.4,981.4 L442.4,982.1 L442.8,982.6 L443.1,983.0 L443.5,983.4 L443.9,983.8 L444.2,984.2 L447.3,983.1 L447.3,983.8 L447.3,984.4 L447.4,985.0 L447.4,985.7 L447.5,986.3 L447.6,987.0 L447.7,987.6 L447.8,988.3 L448.1,988.9 L448.5,989.4 L449.0,989.9 L449.4,990.4 L449.9,990.9 L450.3,991.4 L451.1,991.8 L451.8,992.2 L452.5,992.7 L455.1,991.8 L455.5,992.5 L455.9,993.2 L456.4,993.8 L456.9,994.5 L457.4,995.1 L458.0,995.6 L458.7,996.1 L459.5,996.4 L460.2,996.8 L460.9,997.1 L461.6,997.4 L462.3,997.7 L462.9,997.9 L463.5,998.1 L464.1,998.2 L464.6,998.3 L465.4,997.7 L465.5,997.2 L465.5,996.6 L465.5,996.0 L465.5,995.3 L465.4,994.6 L465.3,993.8 L465.2,993.1 L465.1,992.3 L464.9,991.4 L464.8,990.6 L464.6,989.8 L464.5,988.9 L464.3,988.0 L464.2,987.2 L464.0,986.4 L463.9,985.5 L463.8,984.7 L463.7,984.0 L463.7,983.2 L463.7,982.6 L463.4,982.0 L463.2,981.5 L462.9,981.1 L462.4,980.8 L461.9,980.4 L461.4,980.1 L460.9,979.8 L460.4,979.4 L459.8,979.1 L459.3,978.8 L458.8,978.4 L461.3,976.4 L461.1,975.8 L460.9,975.3 L460.7,974.7 L460.5,974.2 L460.3,973.6 L460.0,973.0 L459.8,972.4 L459.6,971.9 L458.9,971.5 L458.3,971.2 L457.7,970.8 L457.0,970.5 L456.3,970.1 L455.7,969.7 L455.0,969.3 L454.3,968.9 L453.6,968.5 L453.0,968.2 L452.3,967.8 L451.7,967.5 L451.1,967.1 L450.4,966.8 L449.8,966.5 L449.2,966.3 L448.7,966.1 L448.1,965.9 L447.6,965.8 L447.1,965.7Z" fill="#5aaf3c"/>
<path d="M419,1018 C410,1006 394,1008 382,1026 C396,1032 410,1030 419,1018Z" fill="#6cc44a"/>
<path d="M424,1014 C436,1004 456,1008 470,1022 C455,1036 436,1032 424,1014Z" fill="#6cc44a"/>
<path d="M386,1025 C398,1021 410,1019 418,1018 M428,1016 C440,1016 455,1018 466,1022" stroke="#3f9a2e" stroke-width="1" fill="none"/>
<path d="M184.5,729 L103,790 C101,805 106,825 118,842 C132,862 155,882 180,890 L254,835 L262,797 C258,785 252,778 246,774 L222,764 L198,734 Z" fill="#75817c"/>
<path d="M184.5,729 L103,790 C101,805 106,825 118,842 C132,862 155,882 180,890 L186,886 C160,875 135,855 122,835 C112,818 110,800 112,790 L190,733Z" fill="#5e6a65" opacity="0.8"/>
<ellipse cx="178" cy="818" rx="58" ry="42" transform="rotate(-35 178 818)" fill="#8c9893" opacity="0.7"/>
<path d="M198,746 L224,764 L246,774 L232,776 L206,762Z" fill="#3a4540"/>
<path d="M183.4,762.9 L184.5,762.2 L185.9,761.3 L187.5,760.2 L189.3,758.9 L191.3,757.6 L193.3,756.2 L195.4,754.8 L197.5,753.4 L199.6,752.1 L201.6,750.8 L203.5,749.6 L205.3,748.6 L207.0,747.6 L208.7,746.7 L210.3,745.8 L212.0,744.9 L213.7,744.1 L215.3,743.3 L217.0,742.5 L218.7,741.8 L220.3,741.1 L222.0,740.4 L223.6,739.7 L225.3,739.1 L227.0,738.5 L228.7,737.9 L230.4,737.3 L232.1,736.7 L233.8,736.2 L235.5,735.7 L237.2,735.2 L238.9,734.8 L240.5,734.4 L242.1,734.0 L243.7,733.7 L245.2,733.4 L246.6,733.1 L248.1,732.9 L249.4,732.7 L250.8,732.6 L252.1,732.5 L253.4,732.4 L254.7,732.3 L255.9,732.3 L257.1,732.3 L258.2,732.3 L259.3,732.4 L260.3,732.5 L261.3,732.6 L262.2,732.7 L263.0,732.9 L263.9,733.1 L264.7,733.3 L265.4,733.6 L266.2,733.9 L266.9,734.2 L267.6,734.5 L268.3,734.8 L269.0,735.2 L269.7,735.6 L270.3,736.0 L270.9,736.4 L271.4,736.8 L271.9,737.2 L272.4,737.6 L272.9,738.0 L273.3,738.5 L273.7,738.9 L274.2,739.5 L274.6,740.0 L275.0,740.6 L275.4,741.3 L275.8,742.0 L276.3,742.8 L276.7,743.6 L277.2,744.6 L277.6,745.6 L278.0,746.7 L278.4,747.8 L278.8,748.9 L279.2,750.0 L279.5,751.1 L279.9,752.2 L280.1,753.3 L280.3,754.3 L280.5,755.4 L280.7,756.4 L280.9,757.5 L281.0,758.5 L281.1,759.5 L281.1,760.6 L281.2,761.5 L281.2,762.5 L281.2,763.5 L281.1,764.4 L281.0,765.3 L280.9,766.3 L280.8,767.2 L280.6,768.1 L280.4,769.0 L280.1,770.0 L279.8,770.9 L279.5,771.8 L279.2,772.7 L278.8,773.7 L278.5,774.6 L278.1,775.4 L277.7,776.3 L277.2,777.0 L276.7,777.9 L276.1,778.8 L275.5,779.7 L274.8,780.7 L274.0,781.6 L273.3,782.5 L272.6,783.4 L271.9,784.3 L271.2,785.1 L270.7,785.8 L270.2,786.4 L279.8,793.6 L280.1,793.2 L280.6,792.6 L281.2,791.9 L281.9,791.0 L282.7,790.0 L283.5,789.0 L284.3,787.9 L285.2,786.7 L286.0,785.5 L286.9,784.3 L287.6,783.0 L288.3,781.7 L288.9,780.5 L289.5,779.4 L290.0,778.2 L290.4,777.0 L290.9,775.7 L291.3,774.5 L291.7,773.2 L292.0,771.9 L292.3,770.6 L292.6,769.3 L292.8,768.0 L293.0,766.7 L293.1,765.3 L293.2,764.0 L293.2,762.6 L293.2,761.3 L293.1,759.9 L293.0,758.6 L292.9,757.3 L292.8,755.9 L292.6,754.6 L292.4,753.3 L292.1,752.0 L291.9,750.7 L291.6,749.4 L291.3,748.1 L291.0,746.7 L290.6,745.3 L290.3,744.0 L289.8,742.6 L289.4,741.2 L288.9,739.8 L288.4,738.5 L287.8,737.2 L287.2,735.9 L286.6,734.7 L285.9,733.6 L285.2,732.5 L284.5,731.5 L283.7,730.5 L282.8,729.6 L282.0,728.7 L281.1,727.9 L280.2,727.1 L279.3,726.4 L278.3,725.7 L277.3,725.0 L276.3,724.4 L275.3,723.8 L274.3,723.3 L273.2,722.7 L272.1,722.2 L270.9,721.7 L269.7,721.3 L268.5,720.9 L267.2,720.5 L265.9,720.2 L264.5,719.9 L263.1,719.7 L261.7,719.5 L260.2,719.4 L258.8,719.3 L257.3,719.3 L255.8,719.3 L254.2,719.3 L252.7,719.4 L251.1,719.5 L249.5,719.6 L247.8,719.8 L246.2,720.1 L244.5,720.3 L242.8,720.6 L241.1,720.9 L239.3,721.3 L237.5,721.7 L235.7,722.2 L233.8,722.7 L232.0,723.2 L230.1,723.7 L228.2,724.3 L226.3,724.9 L224.4,725.6 L222.5,726.2 L220.7,726.9 L218.9,727.6 L217.0,728.4 L215.2,729.1 L213.4,729.9 L211.6,730.7 L209.8,731.6 L208.0,732.4 L206.1,733.4 L204.3,734.3 L202.5,735.3 L200.6,736.3 L198.7,737.4 L196.7,738.6 L194.7,740.0 L192.5,741.4 L190.4,743.0 L188.2,744.5 L186.1,746.0 L184.1,747.5 L182.2,748.9 L180.4,750.2 L178.9,751.4 L177.6,752.3 L176.6,753.1Z" fill="#4d5853"/>
<path d="M182.9,762.1 L184.0,761.4 L185.4,760.5 L187.0,759.4 L188.7,758.1 L190.7,756.8 L192.7,755.4 L194.8,754.0 L196.9,752.6 L199.0,751.2 L201.1,749.9 L203.0,748.8 L204.8,747.7 L206.5,746.8 L208.2,745.8 L209.9,744.9 L211.6,744.1 L213.2,743.2 L214.9,742.4 L216.6,741.6 L218.3,740.9 L219.9,740.2 L221.6,739.5 L223.3,738.8 L225.0,738.1 L226.6,737.5 L228.3,736.9 L230.1,736.3 L231.8,735.8 L233.5,735.2 L235.3,734.7 L237.0,734.3 L238.7,733.8 L240.3,733.4 L241.9,733.0 L243.5,732.7 L245.0,732.4 L246.5,732.2 L247.9,731.9 L249.3,731.7 L250.7,731.6 L252.1,731.5 L253.4,731.4 L254.7,731.3 L255.9,731.3 L257.1,731.3 L258.3,731.3 L259.4,731.4 L260.4,731.5 L261.4,731.6 L262.4,731.7 L263.3,731.9 L264.1,732.1 L265.0,732.4 L265.8,732.6 L266.5,732.9 L267.3,733.2 L268.0,733.6 L268.8,733.9 L269.5,734.3 L270.2,734.7 L270.8,735.1 L271.5,735.5 L272.0,736.0 L272.6,736.4 L273.1,736.8 L273.6,737.3 L274.0,737.8 L274.5,738.3 L275.0,738.8 L275.4,739.4 L275.8,740.1 L276.3,740.8 L276.7,741.5 L277.2,742.3 L277.6,743.2 L278.1,744.2 L278.5,745.3 L279.0,746.3 L279.4,747.5 L279.8,748.6 L280.2,749.7 L280.5,750.9 L280.8,752.0 L281.1,753.1 L281.3,754.1 L281.5,755.2 L281.7,756.3 L281.9,757.3 L282.0,758.4 L282.1,759.5 L282.1,760.5 L282.2,761.5 L282.2,762.5 L282.2,763.5 L282.1,764.5 L282.0,765.4 L281.9,766.4 L281.8,767.4 L281.6,768.3 L281.3,769.3 L281.1,770.2 L280.8,771.2 L280.5,772.1 L280.1,773.1 L279.8,774.0 L279.4,775.0 L279.0,775.9 L278.6,776.7 L278.1,777.5 L277.6,778.4 L277.0,779.3 L276.3,780.3 L275.6,781.3 L274.8,782.2 L274.1,783.2 L273.3,784.1 L272.7,784.9 L272.0,785.7 L271.5,786.4 L271.0,787.0 L279.0,793.0 L279.3,792.6 L279.8,792.0 L280.4,791.2 L281.1,790.4 L281.9,789.4 L282.7,788.4 L283.5,787.3 L284.4,786.2 L285.2,785.0 L286.0,783.8 L286.8,782.5 L287.4,781.3 L288.0,780.1 L288.5,779.0 L289.0,777.8 L289.5,776.6 L289.9,775.4 L290.3,774.2 L290.7,772.9 L291.0,771.7 L291.3,770.4 L291.6,769.1 L291.8,767.9 L292.0,766.6 L292.1,765.2 L292.2,763.9 L292.2,762.6 L292.2,761.3 L292.1,760.0 L292.0,758.7 L291.9,757.4 L291.8,756.1 L291.6,754.8 L291.4,753.5 L291.1,752.2 L290.9,750.9 L290.6,749.7 L290.4,748.3 L290.0,747.0 L289.7,745.6 L289.3,744.3 L288.9,742.9 L288.5,741.6 L288.0,740.2 L287.5,738.9 L286.9,737.6 L286.4,736.4 L285.7,735.2 L285.1,734.1 L284.4,733.1 L283.7,732.1 L282.9,731.2 L282.1,730.3 L281.3,729.5 L280.4,728.7 L279.6,727.9 L278.7,727.2 L277.7,726.5 L276.8,725.9 L275.8,725.3 L274.8,724.7 L273.8,724.2 L272.8,723.6 L271.7,723.1 L270.5,722.7 L269.4,722.2 L268.2,721.8 L266.9,721.5 L265.6,721.2 L264.3,720.9 L263.0,720.7 L261.6,720.5 L260.2,720.4 L258.7,720.3 L257.3,720.3 L255.8,720.3 L254.3,720.3 L252.7,720.4 L251.2,720.5 L249.6,720.6 L248.0,720.8 L246.3,721.0 L244.7,721.3 L243.0,721.6 L241.3,721.9 L239.5,722.3 L237.8,722.7 L235.9,723.2 L234.1,723.6 L232.2,724.1 L230.4,724.7 L228.5,725.3 L226.6,725.9 L224.7,726.5 L222.9,727.2 L221.0,727.9 L219.2,728.6 L217.4,729.3 L215.6,730.0 L213.8,730.8 L212.0,731.6 L210.2,732.5 L208.4,733.3 L206.6,734.2 L204.8,735.2 L202.9,736.2 L201.1,737.2 L199.2,738.3 L197.3,739.5 L195.2,740.8 L193.1,742.3 L190.9,743.8 L188.8,745.3 L186.7,746.8 L184.6,748.3 L182.7,749.7 L181.0,751.0 L179.5,752.2 L178.2,753.1 L177.1,753.9Z" fill="#66726d"/>
<path d="M181.3,759.8 L182.4,759.2 L183.8,758.2 L185.4,757.2 L187.2,756.0 L189.1,754.6 L191.2,753.3 L193.3,751.9 L195.5,750.5 L197.6,749.1 L199.7,747.8 L201.7,746.6 L203.5,745.6 L205.3,744.6 L207.0,743.6 L208.7,742.7 L210.4,741.8 L212.1,741.0 L213.8,740.1 L215.5,739.4 L217.2,738.6 L218.9,737.9 L220.6,737.2 L222.4,736.5 L224.1,735.8 L225.8,735.2 L227.5,734.5 L229.3,733.9 L231.1,733.4 L232.8,732.8 L234.6,732.3 L236.3,731.8 L238.0,731.4 L239.7,731.0 L241.4,730.6 L243.0,730.3 L244.5,730.0 L246.1,729.7 L247.6,729.5 L249.0,729.3 L250.5,729.1 L251.9,729.0 L253.2,728.9 L254.6,728.8 L255.9,728.8 L257.1,728.8 L258.4,728.8 L259.6,728.9 L260.7,729.0 L261.8,729.1 L262.8,729.2 L263.8,729.3 L264.8,729.5 L265.8,729.7 L266.7,729.9 L267.6,730.2 L268.5,730.5 L269.4,730.8 L270.2,731.2 L271.0,731.5 L271.8,731.9 L272.6,732.3 L273.4,732.7 L274.2,733.3 L275.0,733.9 L275.8,734.6 L276.6,735.3 L277.4,735.9 L278.1,736.6 L278.8,737.2 L279.4,737.7 L280.0,738.2 L280.5,738.5 L281.2,737.8 L280.8,737.4 L280.4,736.9 L279.9,736.2 L279.4,735.5 L278.8,734.7 L278.1,733.9 L277.4,733.1 L276.7,732.3 L275.9,731.4 L275.1,730.7 L274.2,730.0 L273.4,729.4 L272.5,728.8 L271.7,728.3 L270.7,727.9 L269.8,727.4 L268.8,727.0 L267.8,726.6 L266.8,726.3 L265.8,725.9 L264.6,725.6 L263.5,725.4 L262.3,725.2 L261.1,725.0 L259.8,724.9 L258.5,724.8 L257.2,724.8 L255.8,724.8 L254.4,724.8 L253.0,724.9 L251.5,725.0 L250.0,725.1 L248.5,725.3 L247.0,725.5 L245.4,725.7 L243.8,726.0 L242.2,726.3 L240.5,726.7 L238.8,727.1 L237.1,727.5 L235.3,728.0 L233.5,728.5 L231.7,729.0 L229.8,729.6 L228.0,730.2 L226.2,730.8 L224.4,731.4 L222.6,732.1 L220.9,732.7 L219.1,733.5 L217.4,734.2 L215.6,734.9 L213.9,735.7 L212.1,736.5 L210.4,737.4 L208.6,738.3 L206.9,739.2 L205.1,740.1 L203.3,741.1 L201.5,742.1 L199.6,743.3 L197.6,744.6 L195.5,746.0 L193.4,747.4 L191.3,748.9 L189.2,750.4 L187.2,751.9 L185.3,753.2 L183.5,754.5 L181.9,755.7 L180.6,756.6 L179.6,757.4Z" fill="#8a9691" opacity="0.9"/>
<circle cx="180" cy="758" r="6.5" fill="#5a6661"/>
<circle cx="181" cy="757" r="2.2" fill="#3a4540"/>
<path d="M188,838 L258,797 L266,813 L196,849 C190,851 185,846 188,838Z" fill="#66726d"/>
<path d="M192,846 L264,809" stroke="#8e9a95" stroke-width="2"/>
<ellipse cx="287" cy="811" rx="28" ry="35" transform="rotate(-15 287 811)" fill="#55605b"/>
<ellipse cx="295" cy="814" rx="21" ry="28" transform="rotate(-15 295 814)" fill="url(#rose)"/>
<line x1="292" y1="797" x2="298" y2="794" stroke="#e8f2f8" stroke-width="1.3"/>
<line x1="302" y1="802" x2="307" y2="799" stroke="#e8f2f8" stroke-width="1.3"/>
<line x1="289" y1="808" x2="294" y2="808" stroke="#e8f2f8" stroke-width="1.3"/>
<line x1="300" y1="817" x2="305" y2="814" stroke="#e8f2f8" stroke-width="1.3"/>
<line x1="287" y1="823" x2="291" y2="826" stroke="#e8f2f8" stroke-width="1.3"/>
<line x1="308" y1="824" x2="311" y2="820" stroke="#e8f2f8" stroke-width="1.3"/>
<line x1="296" y1="831" x2="299" y2="835" stroke="#e8f2f8" stroke-width="1.3"/>
<line x1="304" y1="793" x2="309" y2="792" stroke="#e8f2f8" stroke-width="1.3"/>
<path d="M417.2,539.2 C419.0,525.5 416.4,508.3 416.0,492.8 C415.6,477.3 416.6,458.0 414.9,446.4 C413.2,434.8 410.2,429.0 405.6,423.2 C401.0,417.4 394.7,414.1 387.0,411.6 C379.3,409.1 369.6,407.1 359.2,408.1 C348.8,409.1 335.2,411.6 324.4,417.4 C313.6,423.2 301.5,435.0 294.2,442.9 C286.9,450.8 283.4,458.2 280.3,465.0 C277.2,471.8 276.1,477.3 275.7,483.5 C275.3,489.7 275.7,495.8 278.0,502.0 C280.3,508.2 283.8,515.6 289.6,520.6 C295.4,525.6 303.1,527.6 312.8,532.3 C322.5,536.9 336.8,543.5 347.6,548.5 C358.4,553.5 368.2,558.0 377.8,562.4 C387.4,566.8 398.4,578.9 405.0,575.0 C411.6,571.1 415.4,552.9 417.2,539.2Z" fill="url(#petal)" stroke="#c08a22" stroke-width="1.6"/>
<path d="M419.3,539.2 C415.6,526.0 416.2,508.3 415.8,492.8 C415.4,477.3 415.6,457.6 417.0,446.4 C418.4,435.2 419.4,431.3 424.0,425.5 C428.6,419.7 437.5,414.7 444.8,411.6 C452.1,408.5 459.1,407.4 468.0,407.0 C476.9,406.6 488.5,407.0 498.2,409.3 C507.9,411.6 517.5,415.5 526.0,420.9 C534.5,426.3 543.0,434.1 549.2,441.8 C555.4,449.5 561.2,459.6 563.1,467.3 C565.0,475.0 563.1,481.6 560.8,488.2 C558.5,494.8 555.0,501.3 549.2,506.7 C543.4,512.1 535.7,515.2 526.0,520.6 C516.3,526.0 501.6,533.0 491.2,539.2 C480.8,545.4 472.3,552.3 463.4,557.8 C454.5,563.3 445.4,575.1 438.0,572.0 C430.6,568.9 423.0,552.4 419.3,539.2Z" fill="url(#petal)" stroke="#c08a22" stroke-width="1.6"/>
<path d="M465.2,559.3 C477.4,548.8 500.9,539.7 513.5,532.0 C526.1,524.3 532.0,516.8 540.8,513.1 C549.5,509.4 558.3,509.3 566.0,510.0 C573.7,510.7 580.4,512.6 587.0,517.3 C593.6,522.0 600.8,530.6 605.9,538.3 C611.0,546.0 614.9,554.8 617.4,563.5 C619.9,572.2 620.8,581.3 620.6,590.8 C620.4,600.2 619.2,611.5 616.4,620.2 C613.6,629.0 609.4,637.3 603.8,643.3 C598.2,649.2 590.5,653.8 582.8,655.9 C575.1,658.0 565.6,657.6 557.6,655.9 C549.6,654.1 543.6,649.9 534.5,645.4 C525.4,640.9 514.2,634.2 503.0,628.6 C491.8,623.0 477.8,617.4 467.3,611.8 C456.8,606.2 440.4,603.8 440.0,595.0 C439.6,586.2 452.9,569.8 465.2,559.3Z" fill="url(#petal)" stroke="#c08a22" stroke-width="1.6"/>
<path d="M428.6,636.5 C427.0,650.9 429.9,673.6 430.5,691.2 C431.1,708.8 428.7,730.1 432.3,742.2 C435.9,754.4 442.9,759.2 452.3,764.1 C461.7,769.0 476.6,772.0 488.8,771.4 C501.0,770.8 513.8,766.6 525.3,760.5 C536.8,754.4 550.8,745.2 558.1,734.9 C565.4,724.6 568.4,709.4 569.0,698.5 C569.6,687.6 566.6,677.2 561.8,669.3 C556.9,661.4 550.8,657.2 539.9,651.1 C529.0,645.0 508.9,638.9 496.1,632.8 C483.3,626.7 472.7,619.2 463.3,614.6 C453.9,610.0 445.8,601.4 440.0,605.0 C434.2,608.6 430.2,622.1 428.6,636.5Z" fill="url(#petal)" stroke="#c08a22" stroke-width="1.6"/>
<path d="M379.4,621.9 C368.2,628.1 355.1,640.1 343.0,647.4 C330.9,654.7 315.6,660.7 306.5,665.6 C297.4,670.5 292.4,670.5 288.2,676.6 C283.9,682.7 280.4,693.0 281.0,702.1 C281.6,711.2 284.6,722.2 291.9,731.3 C299.2,740.4 313.1,750.4 324.7,756.8 C336.2,763.2 349.0,767.8 361.2,769.6 C373.4,771.4 387.3,770.5 397.6,767.8 C407.9,765.1 417.7,758.7 423.2,753.2 C428.7,747.7 429.9,745.3 430.5,735.0 C431.1,724.7 428.6,707.9 426.8,691.2 C425.0,674.5 422.3,648.1 419.5,634.6 C416.7,621.1 416.7,612.1 410.0,610.0 C403.3,607.9 390.6,615.7 379.4,621.9Z" fill="url(#petal)" stroke="#c08a22" stroke-width="1.6"/>
<path d="M377.4,569.2 C365.9,560.4 345.3,554.1 331.0,547.1 C316.7,540.1 301.7,531.5 291.6,527.4 C281.6,523.3 277.7,522.8 270.7,522.8 C263.7,522.8 256.0,524.1 249.8,527.4 C243.6,530.7 237.7,535.7 233.6,542.5 C229.5,549.3 226.9,559.5 225.4,568.0 C223.9,576.5 223.7,585.0 224.3,593.5 C224.9,602.0 225.9,610.5 229.0,619.0 C232.1,627.5 237.4,637.2 242.8,644.6 C248.2,652.0 255.6,658.9 261.4,663.1 C267.2,667.4 271.8,669.3 277.6,670.1 C283.4,670.9 287.3,672.0 296.2,667.8 C305.1,663.5 315.9,653.1 331.0,644.6 C346.1,636.1 375.2,624.1 386.7,616.7 C398.2,609.3 401.6,607.9 400.0,600.0 C398.4,592.1 388.9,578.0 377.4,569.2Z" fill="url(#petal)" stroke="#c08a22" stroke-width="1.6"/>
<path d="M426.5,545.5 L422.0,507.5 L417.5,545.5" fill="#fbfbf4" stroke="#b8802a" stroke-width="1.3"/>
<path d="M461.4,569.3 L490.8,544.8 L456.5,561.8" fill="#fbfbf4" stroke="#b8802a" stroke-width="1.3"/>
<path d="M457.9,615.4 L493.0,630.5 L462.4,607.6" fill="#fbfbf4" stroke="#b8802a" stroke-width="1.3"/>
<path d="M417.5,633.5 L422.0,671.5 L426.5,633.5" fill="#fbfbf4" stroke="#b8802a" stroke-width="1.3"/>
<path d="M383.0,610.4 L354.0,635.4 L388.0,617.8" fill="#fbfbf4" stroke="#b8802a" stroke-width="1.3"/>
<path d="M386.6,563.0 L351.7,547.3 L382.0,570.7" fill="#fbfbf4" stroke="#b8802a" stroke-width="1.3"/>
<circle cx="422.5" cy="589.5" r="47" fill="url(#disk)"/>
<path d="M0,1048.5 C60,1048 140,1047.5 200,1047 C260,1046 320,1045 420,1044 C470,1044 520,1048 560,1050 C600,1051 620,1050 640,1048 C655,1046 665,1045 680,1045.5 C740,1047 820,1048.5 905,1049.5 L905,1280 L0,1280Z" fill="#a67c6a"/>
<path d="M0,1048.5 C60,1048 140,1047.5 200,1047 C260,1046 320,1045 420,1044 C470,1044 520,1048 560,1050 C600,1051 620,1050 640,1048 C655,1046 665,1045 680,1045.5 C740,1047 820,1048.5 905,1049.5 L905,1063 C700,1064 500,1066 300,1065 C200,1064 100,1064 0,1064Z" fill="#947262"/>
<path d="M0,1051.5 C80,1052 150,1054 200,1056 C240,1057 265,1057 282,1057" stroke="#6b4f2e" stroke-width="2.2" fill="none"/>
<path d="M306,1062 C340,1063 380,1064 412,1063.5" stroke="#6b4f2e" stroke-width="2.5" fill="none"/>
<path d="M412,1060.5 C440,1060 460,1059 480,1058" stroke="#6b4f2e" stroke-width="2" fill="none"/>
<path d="M590,1061 C620,1061 640,1058 660,1056 C700,1054 780,1053.5 905,1053" stroke="#6b4f2e" stroke-width="2.2" fill="none"/>
<path d="M455,1061 C480,1062 520,1066 572,1071" stroke="#6b4f2e" stroke-width="2" fill="none"/>
<path d="M150,1066 L228,1046" stroke="#e8ddd0" stroke-width="0.6" fill="none" opacity="0.7"/>
<path d="M365,1048 L395,1036" stroke="#e8ddd0" stroke-width="0.6" fill="none" opacity="0.7"/>
<path d="M495,1055 L540,1038" stroke="#e8ddd0" stroke-width="0.6" fill="none" opacity="0.7"/>
<path d="M700,1067 L760,1046" stroke="#e8ddd0" stroke-width="0.6" fill="none" opacity="0.7"/>
<path d="M880,1052 L905,1046" stroke="#e8ddd0" stroke-width="0.6" fill="none" opacity="0.7"/>
<path d="M324.9,1084.2 C324.8,1082.7 327.3,1078.6 329.7,1077.4 C332.1,1076.1 338.0,1075.6 339.4,1076.6 C340.8,1077.6 339.5,1081.9 338.0,1083.5 C336.5,1085.2 332.7,1086.4 330.5,1086.5 C328.3,1086.6 325.0,1085.8 324.9,1084.2Z" fill="#67512f"/>
<path d="M306.8,1091.6 C307.1,1090.2 313.1,1089.5 317.3,1089.4 C321.6,1089.3 330.8,1089.8 332.3,1091.0 C333.7,1092.3 328.9,1095.9 326.1,1097.1 C323.4,1098.3 319.0,1099.2 315.8,1098.3 C312.5,1097.4 306.5,1093.1 306.8,1091.6Z" fill="#67512f"/>
<path d="M345.6,1097.9 C345.3,1097.1 348.3,1094.2 349.6,1093.9 C350.9,1093.7 353.3,1095.6 353.6,1096.4 C353.9,1097.2 352.5,1098.7 351.2,1098.9 C349.9,1099.2 345.9,1098.7 345.6,1097.9Z" fill="#67512f"/>
<path d="M285.9,1124.5 C285.5,1122.5 287.6,1117.1 290.2,1115.3 C292.7,1113.5 299.4,1112.6 301.1,1113.8 C302.9,1115.1 302.0,1120.7 300.6,1123.0 C299.2,1125.2 295.0,1126.9 292.6,1127.2 C290.1,1127.4 286.3,1126.5 285.9,1124.5Z" fill="#67512f"/>
<path d="M265.4,1129.7 C265.4,1128.6 272.1,1128.0 276.8,1127.9 C281.5,1127.7 291.8,1127.8 293.6,1128.6 C295.4,1129.5 290.4,1132.1 287.5,1133.0 C284.7,1133.9 279.9,1134.7 276.2,1134.1 C272.5,1133.6 265.3,1130.7 265.4,1129.7Z" fill="#67512f"/>
<path d="M334.5,1129.6 C336.0,1126.2 346.2,1117.3 348.5,1117.4 C350.8,1117.4 349.7,1126.5 348.2,1129.9 C346.7,1133.3 341.9,1137.7 339.6,1137.6 C337.3,1137.6 333.0,1133.0 334.5,1129.6Z" fill="#67512f"/>
<path d="M516.5,1090.7 C516.2,1088.9 521.6,1085.9 525.5,1084.2 C529.4,1082.5 538.2,1079.5 540.1,1080.4 C541.9,1081.3 538.7,1087.2 536.6,1089.6 C534.5,1092.0 530.7,1094.7 527.4,1094.8 C524.0,1095.0 516.8,1092.4 516.5,1090.7Z" fill="#67512f"/>
<path d="M562.8,1134.4 C563.1,1132.5 568.1,1128.0 572.2,1126.9 C576.3,1125.8 585.6,1126.3 587.4,1127.8 C589.2,1129.3 585.8,1134.2 583.1,1135.9 C580.3,1137.6 574.1,1138.4 570.7,1138.1 C567.3,1137.9 562.6,1136.2 562.8,1134.4Z" fill="#67512f"/>
<path d="M495.7,1099.5 C495.4,1098.5 498.4,1095.0 499.7,1094.7 C501.0,1094.4 503.4,1096.7 503.7,1097.7 C504.0,1098.7 502.6,1100.4 501.3,1100.7 C500.0,1101.0 496.0,1100.5 495.7,1099.5Z" fill="#67512f"/>
<path d="M489.0,1070.4 C489.5,1069.5 491.9,1068.0 493.3,1068.1 C494.7,1068.2 497.2,1069.8 497.4,1070.9 C497.6,1071.9 495.6,1073.8 494.4,1074.3 C493.3,1074.7 491.4,1074.1 490.5,1073.5 C489.6,1072.8 488.6,1071.3 489.0,1070.4Z" fill="#67512f"/>
<path d="M542.5,1143.0 C542.3,1142.2 544.8,1139.2 546.0,1139.0 C547.2,1138.8 549.3,1140.7 549.5,1141.5 C549.7,1142.3 548.6,1143.8 547.4,1144.0 C546.2,1144.2 542.7,1143.8 542.5,1143.0Z" fill="#67512f"/>
<path d="M160.3,1128.2 C160.3,1127.6 162.6,1126.9 164.3,1126.6 C166.0,1126.3 169.6,1125.8 170.3,1126.2 C171.0,1126.6 169.3,1128.3 168.3,1129.0 C167.3,1129.7 165.6,1130.3 164.3,1130.2 C163.0,1130.1 160.3,1128.8 160.3,1128.2Z" fill="#67512f"/>
<path d="M214.0,1129.6 C214.0,1129.0 217.3,1128.3 219.6,1128.0 C221.9,1127.7 227.1,1127.2 228.0,1127.6 C228.9,1128.0 226.6,1129.7 225.2,1130.4 C223.8,1131.1 221.5,1131.7 219.6,1131.6 C217.7,1131.5 214.0,1130.2 214.0,1129.6Z" fill="#67512f"/>
<path d="M306.0,1138.1 C306.2,1137.1 308.3,1134.9 310.0,1134.5 C311.7,1134.1 315.3,1134.8 316.0,1135.7 C316.7,1136.6 315.2,1139.1 314.0,1139.9 C312.8,1140.7 310.3,1140.8 309.0,1140.5 C307.7,1140.2 305.8,1139.1 306.0,1138.1Z" fill="#67512f"/>
<path d="M357.5,1106.2 C357.3,1105.5 359.2,1103.2 360.0,1103.0 C360.8,1102.8 362.3,1104.3 362.5,1105.0 C362.7,1105.7 361.8,1106.8 361.0,1107.0 C360.2,1107.2 357.7,1106.9 357.5,1106.2Z" fill="#67512f"/>
<path d="M259.0,1140.4 C259.1,1139.7 260.4,1138.3 261.4,1138.0 C262.4,1137.7 264.6,1138.2 265.0,1138.8 C265.4,1139.4 264.5,1141.1 263.8,1141.6 C263.1,1142.1 261.6,1142.2 260.8,1142.0 C260.0,1141.8 258.9,1141.1 259.0,1140.4Z" fill="#67512f"/>
<path d="M369.8,1092.2 C371.0,1089.1 378.6,1079.8 380.2,1079.4 C381.9,1079.1 380.8,1087.1 379.6,1090.2 C378.5,1093.3 374.9,1097.9 373.2,1098.2 C371.6,1098.6 368.7,1095.4 369.8,1092.2Z" fill="#67512f" opacity="0.7"/>
<circle cx="297.9" cy="1069.9" r="1.4" fill="#67512f"/>
<circle cx="315.1" cy="1072.5" r="1.4" fill="#67512f"/>
<circle cx="348.3" cy="1073.9" r="1.4" fill="#67512f"/>
<circle cx="365.5" cy="1076.5" r="1.4" fill="#67512f"/>
<circle cx="353.6" cy="1084.5" r="1.4" fill="#67512f"/>
<circle cx="296.6" cy="1088.5" r="1.4" fill="#67512f"/>
<circle cx="364.2" cy="1089.8" r="1.4" fill="#67512f"/>
<circle cx="329.7" cy="1113.6" r="1.4" fill="#67512f"/>
<circle cx="316.5" cy="1122.9" r="1.4" fill="#67512f"/>
<circle cx="328.4" cy="1129.6" r="1.4" fill="#67512f"/>
<circle cx="254.1" cy="1129.6" r="1.4" fill="#67512f"/>
<circle cx="477" cy="1070" r="1.4" fill="#67512f"/>
<circle cx="505" cy="1074" r="1.4" fill="#67512f"/>
<circle cx="482.4" cy="1080.5" r="1.4" fill="#67512f"/>
<circle cx="495.7" cy="1083.1" r="1.4" fill="#67512f"/>
<circle cx="514.3" cy="1080.5" r="1.4" fill="#67512f"/>
<circle cx="520.9" cy="1070" r="1.4" fill="#67512f"/>
<circle cx="465" cy="1079" r="1.4" fill="#67512f"/>
<circle cx="524.9" cy="1113.6" r="1.4" fill="#67512f"/>
<circle cx="511.6" cy="1121.6" r="1.4" fill="#67512f"/>
<circle cx="528.8" cy="1124.3" r="1.4" fill="#67512f"/>
<circle cx="568.6" cy="1113.6" r="1.4" fill="#67512f"/>
<circle cx="562" cy="1123" r="1.4" fill="#67512f"/>
<circle cx="506.3" cy="1115" r="1.4" fill="#67512f"/>
<path d="M299.2,1078.4 C299.3,1077.4 301.1,1075.2 302.4,1074.8 C303.7,1074.4 306.7,1075.1 307.2,1076.0 C307.7,1076.9 306.5,1079.4 305.6,1080.2 C304.7,1081.0 302.7,1081.1 301.6,1080.8 C300.5,1080.5 299.1,1079.4 299.2,1078.4Z" fill="#93705f"/>
<path d="M255.8,1117.1 C255.5,1115.9 259.1,1111.8 260.8,1111.5 C262.5,1111.2 265.5,1113.8 265.8,1115.0 C266.1,1116.2 264.5,1118.2 262.8,1118.5 C261.1,1118.8 256.1,1118.3 255.8,1117.1Z" fill="#93705f"/>
<path d="M172.0,1115.8 C172.0,1114.8 182.5,1113.6 190.0,1113.0 C197.5,1112.4 214.0,1111.6 217.0,1112.3 C220.0,1113.0 212.5,1116.0 208.0,1117.2 C203.5,1118.4 196.0,1119.5 190.0,1119.3 C184.0,1119.1 172.0,1116.8 172.0,1115.8Z" fill="#93705f"/>
<path d="M535.7,1076.9 C535.7,1075.6 538.0,1072.2 540.0,1071.3 C542.1,1070.4 546.9,1070.5 548.0,1071.5 C549.0,1072.5 547.7,1076.2 546.4,1077.5 C545.1,1078.8 541.9,1079.5 540.1,1079.4 C538.4,1079.3 535.8,1078.3 535.7,1076.9Z" fill="#93705f"/>
<path d="M582.0,1121.4 C581.6,1120.1 586.3,1115.4 588.5,1115.0 C590.7,1114.6 594.6,1117.7 595.0,1119.0 C595.4,1120.3 593.3,1122.6 591.1,1123.0 C588.9,1123.4 582.4,1122.7 582.0,1121.4Z" fill="#93705f"/>
<path d="M464.8,1080.9 L465.1,1081.5 L465.5,1082.3 L465.9,1083.1 L466.5,1084.0 L467.1,1084.9 L467.7,1086.0 L468.3,1087.0 L469.0,1088.1 L469.6,1089.1 L470.2,1090.1 L470.7,1091.1 L471.1,1092.0 L471.7,1092.8 L472.2,1093.5 L472.8,1094.3 L473.3,1095.0 L473.8,1095.8 L474.3,1096.6 L474.8,1097.4 L475.3,1098.2 L475.8,1099.0 L476.4,1099.9 L476.9,1100.7 L477.4,1101.5 L478.1,1102.3 L478.8,1103.2 L479.5,1104.0 L480.2,1104.9 L480.9,1105.8 L481.7,1106.7 L482.4,1107.5 L483.0,1108.3 L483.6,1109.0 L484.2,1109.6 L484.7,1110.1 L485.1,1110.5 L486.9,1109.5 L486.7,1108.9 L486.5,1108.2 L486.2,1107.4 L485.9,1106.5 L485.5,1105.6 L485.1,1104.6 L484.7,1103.6 L484.2,1102.5 L483.8,1101.4 L483.4,1100.4 L482.9,1099.4 L482.6,1098.5 L482.1,1097.6 L481.7,1096.8 L481.3,1096.0 L480.8,1095.1 L480.4,1094.2 L479.9,1093.4 L479.5,1092.5 L479.0,1091.6 L478.5,1090.7 L478.0,1089.8 L477.4,1088.9 L476.9,1088.0 L476.1,1087.2 L475.2,1086.3 L474.3,1085.4 L473.4,1084.5 L472.5,1083.6 L471.6,1082.8 L470.7,1082.0 L469.8,1081.2 L469.0,1080.5 L468.3,1079.9 L467.7,1079.4 L467.2,1079.1Z" fill="#93705f"/>
<path d="M301.9,1027.8 C302.1,1025.1 302.7,1023.3 304.9,1020.8 C307.1,1018.3 310.8,1015.0 314.9,1012.9 C319.0,1010.8 324.8,1009.3 329.8,1008.4 C334.8,1007.5 340.6,1007.3 344.7,1007.4 C348.8,1007.5 351.8,1007.5 354.6,1008.9 C357.4,1010.3 359.8,1013.2 361.6,1015.9 C363.4,1018.5 364.7,1021.6 365.5,1024.8 C366.3,1028.0 366.6,1031.5 366.5,1034.8 C366.4,1038.1 366.1,1041.9 364.6,1044.7 C363.1,1047.5 360.8,1050.1 357.6,1051.7 C354.5,1053.3 350.3,1054.1 345.7,1054.6 C341.1,1055.1 334.4,1055.1 329.8,1054.6 C325.2,1054.1 321.1,1053.2 317.8,1051.7 C314.5,1050.2 312.2,1048.2 309.9,1045.7 C307.6,1043.2 305.2,1039.8 303.9,1036.8 C302.6,1033.8 301.7,1030.5 301.9,1027.8Z" fill="#6c7580" stroke="#1a1a1a" stroke-width="1.4"/>
<path d="M322.7,1013.1 L322.2,1013.3 L321.5,1013.5 L320.7,1013.8 L319.7,1014.2 L318.7,1014.6 L317.7,1015.0 L316.6,1015.5 L315.5,1016.1 L314.4,1016.7 L313.4,1017.3 L312.4,1017.9 L311.5,1018.7 L310.8,1019.4 L310.2,1020.2 L309.5,1021.1 L309.0,1022.0 L308.4,1022.9 L307.9,1023.8 L307.5,1024.7 L307.1,1025.7 L306.7,1026.7 L306.4,1027.7 L306.2,1028.7 L306.0,1029.8 L305.9,1030.8 L305.9,1031.9 L306.0,1032.9 L306.1,1034.0 L306.3,1035.1 L306.5,1036.2 L306.7,1037.2 L307.1,1038.3 L307.4,1039.3 L307.8,1040.4 L308.3,1041.3 L308.9,1042.3 L309.5,1043.2 L310.2,1044.1 L310.9,1044.9 L311.7,1045.7 L312.6,1046.4 L313.4,1047.2 L314.3,1047.9 L315.2,1048.5 L316.2,1049.1 L317.1,1049.7 L318.1,1050.3 L319.1,1050.8 L320.1,1051.2 L321.1,1051.7 L322.2,1052.0 L323.3,1052.4 L324.4,1052.7 L325.6,1052.9 L326.7,1053.1 L327.8,1053.3 L328.8,1053.5 L329.8,1053.7 L330.8,1053.8 L331.7,1054.0 L332.7,1054.0 L333.6,1054.1 L334.6,1054.1 L335.5,1054.1 L336.4,1054.0 L337.2,1054.0 L338.0,1053.9 L338.8,1053.8 L339.5,1053.7 L340.1,1053.6 L340.6,1053.6 L341.0,1053.5 L341.0,1052.5 L340.6,1052.4 L340.1,1052.3 L339.5,1052.2 L338.8,1052.1 L338.0,1052.1 L337.3,1052.0 L336.5,1051.9 L335.6,1051.7 L334.8,1051.6 L333.9,1051.4 L333.1,1051.2 L332.3,1051.0 L331.4,1050.8 L330.4,1050.6 L329.5,1050.4 L328.5,1050.1 L327.5,1049.8 L326.4,1049.5 L325.4,1049.2 L324.4,1048.9 L323.5,1048.5 L322.6,1048.1 L321.7,1047.7 L320.9,1047.2 L320.2,1046.7 L319.4,1046.2 L318.6,1045.6 L317.8,1045.0 L317.1,1044.4 L316.4,1043.8 L315.7,1043.1 L315.1,1042.4 L314.5,1041.7 L314.0,1041.1 L313.5,1040.4 L313.1,1039.7 L312.8,1039.0 L312.4,1038.3 L312.1,1037.5 L311.8,1036.7 L311.6,1035.9 L311.3,1035.1 L311.2,1034.2 L311.1,1033.4 L311.0,1032.6 L310.9,1031.8 L310.9,1031.0 L311.0,1030.2 L311.0,1029.5 L311.1,1028.8 L311.3,1028.0 L311.5,1027.2 L311.7,1026.4 L312.0,1025.6 L312.3,1024.9 L312.7,1024.1 L313.1,1023.4 L313.5,1022.7 L314.0,1022.0 L314.5,1021.3 L314.9,1020.7 L315.6,1020.0 L316.3,1019.3 L317.1,1018.6 L318.0,1017.9 L318.9,1017.2 L319.8,1016.6 L320.7,1015.9 L321.5,1015.4 L322.2,1014.8 L322.8,1014.3 L323.3,1013.9Z" fill="#a9b3bd"/>
<path d="M351.7,1012.4 L351.9,1012.6 L352.2,1012.9 L352.6,1013.2 L353.0,1013.5 L353.4,1013.8 L353.8,1014.2 L354.3,1014.5 L354.7,1014.9 L355.1,1015.4 L355.5,1015.8 L355.9,1016.2 L356.2,1016.6 L356.6,1017.1 L357.0,1017.6 L357.4,1018.2 L357.8,1018.8 L358.2,1019.4 L358.7,1020.1 L359.0,1020.8 L359.4,1021.4 L359.7,1022.0 L360.1,1022.5 L360.3,1022.9 L360.6,1023.2 L361.4,1022.8 L361.3,1022.4 L361.1,1021.9 L360.9,1021.4 L360.6,1020.8 L360.3,1020.1 L360.0,1019.4 L359.6,1018.7 L359.3,1018.0 L358.9,1017.2 L358.5,1016.6 L358.2,1015.9 L357.8,1015.4 L357.3,1014.9 L356.8,1014.4 L356.3,1014.0 L355.7,1013.6 L355.2,1013.3 L354.7,1013.0 L354.2,1012.6 L353.7,1012.4 L353.3,1012.1 L352.9,1011.9 L352.6,1011.7 L352.3,1011.6Z" fill="#a9b3bd"/>
<path d="M529.4,1009.5 C530.6,1004.2 534.4,999.8 540.0,995.4 C545.6,991.0 553.9,986.0 563.0,983.0 C572.1,980.0 586.1,978.3 594.9,977.7 C603.7,977.1 610.1,977.4 616.0,979.4 C621.9,981.4 626.7,984.7 630.2,990.0 C633.8,995.3 636.1,1003.9 637.3,1011.3 C638.5,1018.7 638.5,1027.8 637.3,1034.3 C636.1,1040.8 634.9,1046.2 630.2,1050.2 C625.5,1054.2 617.2,1056.5 609.0,1058.0 C600.8,1059.5 589.0,1059.4 580.7,1059.0 C572.5,1058.6 565.4,1057.8 559.5,1055.5 C553.6,1053.2 549.8,1049.6 545.4,1044.9 C541.0,1040.2 535.7,1033.1 533.0,1027.2 C530.3,1021.3 528.2,1014.8 529.4,1009.5Z" fill="#6c7682" stroke="#1a1a1a" stroke-width="1.6"/>
<path d="M540,1010 C545,998 555,992 565,990 C552,1000 546,1012 548,1028 C552,1045 570,1052 596,1053 C575,1056 552,1050 544,1036 C539,1028 538,1018 540,1010Z" fill="#a3adb7"/>
<path d="M613,986 C620,990 625,997 627,1003" stroke="#a3adb7" stroke-width="2" fill="none"/>
<path d="M420,1028 C418,1045 413,1056 408,1068 C403,1082 402,1095 406,1106 C410,1114 413,1120 410,1130 C405,1145 396,1155 389,1167" stroke="#b5dc7a" stroke-width="3.5" fill="none"/>
<path d="M420,1028 C418,1045 413,1056 408,1068 C403,1082 402,1095 406,1106 C410,1114 413,1120 410,1130 C405,1145 396,1155 389,1167" stroke="#45ad38" stroke-width="1" fill="none"/>
<path d="M395.0,1150.2 L395.0,1151.3 L394.9,1152.7 L394.9,1154.3 L394.9,1156.2 L395.0,1158.3 L395.0,1160.4 L395.1,1162.7 L395.3,1164.9 L395.5,1167.2 L395.8,1169.3 L396.3,1171.4 L396.8,1173.4 L397.5,1175.1 L398.4,1176.7 L399.3,1178.2 L400.2,1179.6 L401.2,1181.0 L402.3,1182.4 L403.4,1183.6 L404.6,1184.9 L405.8,1186.0 L407.1,1187.1 L408.3,1188.2 L409.7,1189.2 L411.1,1190.2 L412.6,1191.1 L414.2,1192.0 L415.7,1192.7 L417.4,1193.5 L419.0,1194.2 L420.7,1194.8 L422.4,1195.4 L424.1,1196.0 L425.7,1196.5 L427.4,1197.0 L429.1,1197.4 L430.9,1197.7 L432.7,1198.0 L434.5,1198.2 L436.3,1198.4 L438.1,1198.5 L439.9,1198.6 L441.7,1198.7 L443.5,1198.7 L445.2,1198.7 L446.9,1198.6 L448.5,1198.6 L450.0,1198.5 L451.6,1198.3 L453.1,1198.0 L454.7,1197.7 L456.2,1197.4 L457.6,1197.0 L459.0,1196.6 L460.3,1196.2 L461.5,1195.8 L462.6,1195.4 L463.6,1195.1 L464.4,1194.8 L465.1,1194.5 L464.9,1193.5 L464.2,1193.5 L463.3,1193.4 L462.2,1193.5 L461.1,1193.5 L459.8,1193.6 L458.5,1193.6 L457.1,1193.7 L455.7,1193.7 L454.2,1193.7 L452.8,1193.7 L451.4,1193.6 L450.0,1193.5 L448.5,1193.4 L447.0,1193.3 L445.4,1193.2 L443.8,1193.0 L442.1,1192.8 L440.4,1192.6 L438.8,1192.4 L437.1,1192.1 L435.5,1191.8 L433.9,1191.4 L432.4,1191.1 L430.9,1190.6 L429.4,1190.2 L427.9,1189.7 L426.4,1189.1 L424.9,1188.6 L423.4,1188.0 L422.0,1187.3 L420.6,1186.6 L419.2,1185.9 L417.9,1185.2 L416.7,1184.4 L415.5,1183.6 L414.3,1182.8 L413.2,1181.9 L412.1,1181.1 L411.0,1180.2 L409.9,1179.3 L408.9,1178.4 L407.9,1177.4 L407.0,1176.4 L406.1,1175.3 L405.3,1174.2 L404.6,1173.1 L403.9,1171.9 L403.2,1170.6 L402.5,1169.3 L401.8,1167.7 L401.2,1165.9 L400.5,1164.0 L400.0,1161.9 L399.5,1159.8 L399.0,1157.8 L398.6,1155.8 L398.1,1154.0 L397.7,1152.3 L397.4,1150.9 L397.0,1149.8Z" fill="#5e4526" opacity="0.85"/>
<path d="M427.6,1071.0 C431.8,1071.0 440.1,1070.9 445.2,1072.2 C450.3,1073.5 454.4,1075.3 458.5,1078.8 C462.6,1082.3 466.9,1087.0 469.6,1093.1 C472.4,1099.2 473.9,1107.8 475.0,1115.2 C476.1,1122.6 476.4,1129.9 476.2,1137.3 C476.0,1144.7 475.5,1152.8 474.0,1159.4 C472.5,1166.0 470.2,1172.3 467.3,1177.1 C464.4,1181.9 460.9,1185.8 456.3,1188.2 C451.7,1190.6 445.2,1191.5 439.7,1191.5 C434.2,1191.5 428.1,1190.2 423.1,1188.2 C418.1,1186.2 413.0,1183.2 409.9,1179.3 C406.8,1175.4 405.1,1170.2 404.4,1165.0 C403.7,1159.8 404.2,1153.9 405.5,1148.4 C406.8,1142.9 410.6,1136.8 412.1,1131.8 C413.6,1126.8 414.3,1122.6 414.3,1118.6 C414.3,1114.5 413.4,1111.2 412.1,1107.5 C410.8,1103.8 407.5,1100.2 406.6,1096.5 C405.7,1092.8 405.7,1088.7 406.6,1085.4 C407.5,1082.1 409.9,1078.8 412.1,1076.6 C414.3,1074.4 417.2,1073.1 419.8,1072.2 C422.4,1071.3 423.4,1071.0 427.6,1071.0Z" fill="#e8b692" stroke="#1e1e1e" stroke-width="1.3"/>
<path d="M462.0,1100.1 L461.9,1101.1 L461.9,1102.3 L461.9,1103.7 L461.9,1105.2 L462.0,1106.9 L462.0,1108.7 L462.1,1110.5 L462.1,1112.5 L462.1,1114.4 L462.1,1116.4 L462.1,1118.3 L462.0,1120.1 L462.0,1122.0 L462.1,1124.1 L462.1,1126.1 L462.1,1128.3 L462.1,1130.5 L462.1,1132.6 L462.0,1134.8 L462.0,1137.0 L461.9,1139.0 L461.8,1141.1 L461.7,1143.0 L461.5,1144.8 L461.4,1146.5 L461.3,1148.3 L461.1,1149.9 L461.0,1151.5 L460.8,1153.1 L460.7,1154.5 L460.4,1155.9 L460.2,1157.2 L459.9,1158.4 L459.6,1159.5 L459.2,1160.6 L458.8,1161.5 L458.4,1162.3 L457.9,1163.2 L457.3,1163.9 L456.7,1164.6 L456.1,1165.3 L455.4,1165.9 L454.7,1166.5 L453.9,1167.0 L453.1,1167.5 L452.3,1168.0 L451.5,1168.4 L450.7,1168.8 L449.9,1169.1 L449.1,1169.3 L448.2,1169.5 L447.1,1169.7 L446.0,1169.9 L444.9,1169.9 L443.8,1170.0 L442.6,1170.0 L441.4,1170.0 L440.3,1170.0 L439.2,1170.0 L438.2,1170.0 L437.3,1170.1 L436.3,1170.2 L435.4,1170.2 L434.5,1170.2 L433.5,1170.2 L432.6,1170.1 L431.7,1170.1 L430.9,1170.0 L430.1,1170.0 L429.4,1170.0 L428.7,1170.0 L428.2,1170.0 L427.8,1172.0 L428.2,1172.2 L428.7,1172.5 L429.3,1172.9 L430.0,1173.2 L430.8,1173.6 L431.7,1174.0 L432.6,1174.4 L433.5,1174.8 L434.6,1175.1 L435.6,1175.5 L436.7,1175.8 L437.8,1176.0 L438.9,1176.1 L440.0,1176.2 L441.2,1176.3 L442.5,1176.4 L443.7,1176.4 L445.1,1176.4 L446.4,1176.4 L447.8,1176.4 L449.2,1176.2 L450.6,1176.0 L452.0,1175.7 L453.3,1175.2 L454.5,1174.7 L455.6,1174.2 L456.7,1173.5 L457.8,1172.8 L458.9,1172.1 L460.0,1171.2 L461.0,1170.3 L461.9,1169.3 L462.8,1168.2 L463.7,1167.1 L464.5,1165.8 L465.2,1164.5 L465.8,1163.1 L466.3,1161.7 L466.7,1160.2 L467.1,1158.6 L467.3,1157.1 L467.6,1155.5 L467.8,1153.8 L468.0,1152.2 L468.1,1150.5 L468.2,1148.8 L468.4,1147.0 L468.5,1145.2 L468.6,1143.3 L468.6,1141.3 L468.6,1139.2 L468.6,1137.0 L468.6,1134.8 L468.6,1132.6 L468.5,1130.4 L468.4,1128.2 L468.3,1126.0 L468.2,1123.9 L468.1,1121.8 L468.0,1119.9 L467.7,1117.9 L467.4,1115.9 L467.1,1114.0 L466.7,1112.0 L466.4,1110.1 L466.0,1108.2 L465.6,1106.4 L465.2,1104.8 L464.9,1103.3 L464.6,1102.0 L464.3,1100.8 L464.0,1099.9Z" fill="#b98b74" opacity="0.9"/>
<path d="M412,1093 C413,1083 420,1078 428,1077" stroke="#fff" stroke-width="2.5" fill="none" stroke-linecap="round"/>
<g stroke="#f4f0ee" stroke-width="2" fill="none"><rect x="13" y="1135" width="363" height="140"/><line x1="13" y1="1155.3" x2="376" y2="1155.3"/><line x1="13" y1="1173.2" x2="376" y2="1173.2"/><line x1="13" y1="1206" x2="376" y2="1206"/><line x1="182.5" y1="1155.3" x2="182.5" y2="1275"/><line x1="182.5" y1="1240.5" x2="376" y2="1240.5"/></g>
<line x1="78.5" y1="279" x2="267.0" y2="279.0" stroke="#111" stroke-width="2"/><polygon points="297,279 267.0,286.5 267.0,271.5" fill="#111"/>
<line x1="811.5" y1="349" x2="811.5" y2="259.0" stroke="#111" stroke-width="2"/><polygon points="811.5,244 817.5,259.0 805.5,259.0" fill="#111"/>
<line x1="294" y1="444.4" x2="206.7" y2="415.7" stroke="#111" stroke-width="2"/><polygon points="190.6,410.4 209.2,408.1 204.3,423.3" fill="#111"/>
<line x1="165" y1="690.7" x2="243.4" y2="757.0" stroke="#111" stroke-width="1.6"/><polygon points="260.2,771.2 237.6,763.9 249.2,750.1" fill="#111"/>
<line x1="615" y1="880" x2="515.2" y2="880.0" stroke="#111" stroke-width="1.6"/><polygon points="486.2,880 515.2,874.5 515.2,885.5" fill="#111"/>
<g stroke="#111" stroke-width="2" fill="none"><line x1="733.7" y1="488" x2="733.7" y2="777"/><line x1="733" y1="488.6" x2="773.6" y2="488.6"/><line x1="733" y1="561.6" x2="773.6" y2="561.6"/><line x1="733" y1="638.8" x2="773.6" y2="638.8"/><line x1="733" y1="707.7" x2="773.6" y2="707.7"/><line x1="733" y1="776.2" x2="773.6" y2="776.2"/></g>
<g stroke-linecap="round" stroke-linejoin="round" fill="none"><path d="M472,1173 L538,1173 M528,1164 L540,1173 L528,1182" stroke="#111" stroke-width="6"/><path d="M472,1173 L538,1173 M528,1164 L540,1173 L528,1182" stroke="#fff" stroke-width="3"/></g></svg>
<div class="t" style="left:12.0px;top:35.9px;font-family:'Liberation Serif',serif;font-size:20px;font-weight:bold;letter-spacing:2.3px;line-height:20px;color:#111;-webkit-text-stroke:0.9px #111;">SCHOOL DEVELOPMENT PLAN</div>
<div style="position:absolute;left:12.0px;top:54.8px;width:363.0px;height:3px;background:#111"></div>
<div class="t" style="left:13.4px;top:172.5px;font-family:'Liberation Sans',sans-serif;font-size:14px;font-weight:bold;letter-spacing:1.8px;line-height:14px;color:#111;">Activity - 1</div>
<div style="position:absolute;left:12.9px;top:186.4px;width:91.1px;height:1.6px;background:#111"></div>
<div class="t" style="left:13.4px;top:190.1px;font-family:'Liberation Sans',sans-serif;font-size:14px;font-weight:normal;letter-spacing:1.65px;line-height:14px;color:#111;-webkit-text-stroke:0.1px #111;">[Once a week] each subject</div>
<div class="t" style="left:13.4px;top:208.1px;font-family:'Liberation Sans',sans-serif;font-size:14px;font-weight:normal;letter-spacing:1.65px;line-height:14px;color:#111;-webkit-text-stroke:0.1px #111;">will have ICT integration in one of the</div>
<div class="t" style="left:13.4px;top:226.0px;font-family:'Liberation Sans',sans-serif;font-size:14px;font-weight:normal;letter-spacing:1.65px;line-height:14px;color:#111;-webkit-text-stroke:0.1px #111;">lessons e.g, for reading,</div>
<div class="t" style="left:13.4px;top:244.0px;font-family:'Liberation Sans',sans-serif;font-size:14px;font-weight:normal;letter-spacing:1.65px;line-height:14px;color:#111;-webkit-text-stroke:0.1px #111;">writing, research etc.</div>
<div class="t" style="left:13.4px;top:285.7px;font-family:'Liberation Sans',sans-serif;font-size:14px;font-weight:bold;letter-spacing:1.8px;line-height:14px;color:#111;">Objective</div>
<div style="position:absolute;left:12.9px;top:299.6px;width:77.6px;height:1.6px;background:#111"></div>
<div class="t" style="left:13.4px;top:303.4px;font-family:'Liberation Sans',sans-serif;font-size:14px;font-weight:normal;letter-spacing:1.65px;line-height:14px;color:#111;-webkit-text-stroke:0.1px #111;">Students will learn the latest development</div>
<div class="t" style="left:13.4px;top:321.2px;font-family:'Liberation Sans',sans-serif;font-size:14px;font-weight:normal;letter-spacing:1.65px;line-height:14px;color:#111;-webkit-text-stroke:0.1px #111;">in the relevant subject.</div>
<div class="t" style="left:620.2px;top:321.1px;font-family:'Liberation Sans',sans-serif;font-size:14px;font-weight:bold;letter-spacing:1.8px;line-height:14px;color:#111;">Activity - 3</div>
<div style="position:absolute;left:619.7px;top:335.0px;width:90.3px;height:1.6px;background:#111"></div>
<div class="t" style="left:620.2px;top:338.5px;font-family:'Liberation Sans',sans-serif;font-size:14px;font-weight:normal;letter-spacing:1.65px;line-height:14px;color:#111;-webkit-text-stroke:0.1px #111;">Teachers prepare their</div>
<div class="t" style="left:620.2px;top:356.2px;font-family:'Liberation Sans',sans-serif;font-size:14px;font-weight:normal;letter-spacing:1.65px;line-height:14px;color:#111;-webkit-text-stroke:0.1px #111;">planners and practice/revisions</div>
<div class="t" style="left:620.2px;top:373.9px;font-family:'Liberation Sans',sans-serif;font-size:14px;font-weight:normal;letter-spacing:1.65px;line-height:14px;color:#111;-webkit-text-stroke:0.1px #111;">using computers</div>
<div class="t" style="left:620.2px;top:403.6px;font-family:'Liberation Sans',sans-serif;font-size:14px;font-weight:bold;letter-spacing:1.8px;line-height:14px;color:#111;">Objective</div>
<div style="position:absolute;left:619.7px;top:417.5px;width:77.8px;height:1.6px;background:#111"></div>
<div class="t" style="left:620.2px;top:422.1px;font-family:'Liberation Sans',sans-serif;font-size:14px;font-weight:normal;letter-spacing:1.65px;line-height:14px;color:#111;-webkit-text-stroke:0.1px #111;">To increase the efficiency of</div>
<div class="t" style="left:620.2px;top:439.6px;font-family:'Liberation Sans',sans-serif;font-size:14px;font-weight:normal;letter-spacing:1.65px;line-height:14px;color:#111;-webkit-text-stroke:0.1px #111;">work and reduce the paper wastage</div>
<div class="t" style="left:13.5px;top:578.8px;font-family:'Liberation Sans',sans-serif;font-size:14px;font-weight:bold;letter-spacing:1.8px;line-height:14px;color:#111;">Activity - 2</div>
<div style="position:absolute;left:13.0px;top:592.7px;width:90.5px;height:1.6px;background:#111"></div>
<div class="t" style="left:13.5px;top:596.9px;font-family:'Liberation Sans',sans-serif;font-size:14px;font-weight:normal;letter-spacing:1.65px;line-height:14px;color:#111;-webkit-text-stroke:0.1px #111;">Usage of library software</div>
<div class="t" style="left:13.5px;top:632.1px;font-family:'Liberation Sans',sans-serif;font-size:14px;font-weight:bold;letter-spacing:1.8px;line-height:14px;color:#111;">Objective</div>
<div style="position:absolute;left:13.0px;top:646.0px;width:77.5px;height:1.6px;background:#111"></div>
<div class="t" style="left:13.5px;top:650.1px;font-family:'Liberation Sans',sans-serif;font-size:14px;font-weight:normal;letter-spacing:1.65px;line-height:14px;color:#111;-webkit-text-stroke:0.1px #111;">To keep the students updated</div>
<div class="t" style="left:13.5px;top:668.0px;font-family:'Liberation Sans',sans-serif;font-size:14px;font-weight:normal;letter-spacing:1.65px;line-height:14px;color:#111;-webkit-text-stroke:0.1px #111;">with school’s bulletin</div>
<div class="t" style="left:13.5px;top:685.9px;font-family:'Liberation Sans',sans-serif;font-size:14px;font-weight:normal;letter-spacing:1.65px;line-height:14px;color:#111;-webkit-text-stroke:0.1px #111;">and information</div>
<div class="t" style="left:553.7px;top:808.6px;font-family:'Liberation Sans',sans-serif;font-size:14px;font-weight:bold;letter-spacing:1.8px;line-height:14px;color:#111;">Activity - 4</div>
<div style="position:absolute;left:553.2px;top:822.5px;width:90.8px;height:1.6px;background:#111"></div>
<div class="t" style="left:553.7px;top:825.8px;font-family:'Liberation Sans',sans-serif;font-size:14px;font-weight:normal;letter-spacing:1.65px;line-height:14px;color:#111;-webkit-text-stroke:0.1px #111;">Official communication with teachers</div>
<div class="t" style="left:553.7px;top:843.8px;font-family:'Liberation Sans',sans-serif;font-size:14px;font-weight:normal;letter-spacing:1.65px;line-height:14px;color:#111;-webkit-text-stroke:0.1px #111;">and the students to be done through</div>
<div class="t" style="left:553.7px;top:861.7px;font-family:'Liberation Sans',sans-serif;font-size:14px;font-weight:normal;letter-spacing:1.65px;line-height:14px;color:#111;-webkit-text-stroke:0.1px #111;">email/ school portal</div>
<div class="t" style="left:553.7px;top:887.4px;font-family:'Liberation Sans',sans-serif;font-size:14px;font-weight:bold;letter-spacing:1.8px;line-height:14px;color:#111;">Objective</div>
<div style="position:absolute;left:553.2px;top:901.3px;width:77.3px;height:1.6px;background:#111"></div>
<div class="t" style="left:553.7px;top:905.1px;font-family:'Liberation Sans',sans-serif;font-size:14px;font-weight:normal;letter-spacing:1.65px;line-height:14px;color:#111;-webkit-text-stroke:0.1px #111;">To make the staff comfortable</div>
<div class="t" style="left:553.7px;top:923.2px;font-family:'Liberation Sans',sans-serif;font-size:14px;font-weight:normal;letter-spacing:1.65px;line-height:14px;color:#111;-webkit-text-stroke:0.1px #111;">using computers and internet</div>
<div class="t" style="left:553.7px;top:941.3px;font-family:'Liberation Sans',sans-serif;font-size:14px;font-weight:normal;letter-spacing:1.65px;line-height:14px;color:#111;-webkit-text-stroke:0.1px #111;">as formal mode of communication</div>
<div class="t" style="left:553.7px;top:959.4px;font-family:'Liberation Sans',sans-serif;font-size:14px;font-weight:normal;letter-spacing:1.65px;line-height:14px;color:#111;-webkit-text-stroke:0.1px #111;">and teaching</div>
<div class="t" style="left:87.5px;top:388.4px;font-family:'Liberation Sans',sans-serif;font-size:18px;font-weight:bold;letter-spacing:2.2px;line-height:18px;color:#111;">Benefits</div>
<div style="position:absolute;left:87.0px;top:407.9px;width:88.0px;height:2.2px;background:#111"></div>
<div class="t" style="left:732.0px;top:467.9px;font-family:'Liberation Sans',sans-serif;font-size:14px;font-weight:bold;letter-spacing:2.3px;line-height:14px;color:#111;">Sep</div>
<div class="t" style="left:733.0px;top:782.7px;font-family:'Liberation Sans',sans-serif;font-size:14px;font-weight:bold;letter-spacing:1.6px;line-height:14px;color:#111;">May</div>
<div class="t" style="left:741.0px;top:502.3px;font-family:'Liberation Sans',sans-serif;font-size:14px;font-weight:bold;letter-spacing:1.2px;line-height:14px;color:#111;">A-1</div>
<div class="t" style="left:741.3px;top:521.8px;font-family:'Liberation Sans',sans-serif;font-size:12px;font-weight:normal;letter-spacing:0.35px;line-height:12px;color:#111;">In progress</div>
<div class="t" style="left:741.0px;top:573.4px;font-family:'Liberation Sans',sans-serif;font-size:14px;font-weight:bold;letter-spacing:1.2px;line-height:14px;color:#111;">A-2</div>
<div class="t" style="left:741.3px;top:596.6px;font-family:'Liberation Sans',sans-serif;font-size:12px;font-weight:normal;letter-spacing:0.52px;line-height:12px;color:#111;">2nd week of september</div>
<div class="t" style="left:741.0px;top:648.1px;font-family:'Liberation Sans',sans-serif;font-size:14px;font-weight:bold;letter-spacing:1.2px;line-height:14px;color:#111;">A-3</div>
<div class="t" style="left:741.3px;top:668.2px;font-family:'Liberation Sans',sans-serif;font-size:12px;font-weight:normal;letter-spacing:0.35px;line-height:12px;color:#111;">In progess</div>
<div class="t" style="left:741.0px;top:721.7px;font-family:'Liberation Sans',sans-serif;font-size:14px;font-weight:bold;letter-spacing:1.2px;line-height:14px;color:#111;">A-4</div>
<div class="t" style="left:741.3px;top:742.0px;font-family:'Liberation Sans',sans-serif;font-size:12px;font-weight:normal;letter-spacing:0.52px;line-height:12px;color:#111;">2nd week of september</div>
<div class="t" style="left:298.2px;top:468.4px;font-family:'Liberation Sans',sans-serif;font-size:17px;font-weight:bold;letter-spacing:1.32px;line-height:17px;color:#111;-webkit-text-stroke:0.35px #111;">Upto date</div>
<div class="t" style="left:298.2px;top:489.3px;font-family:'Liberation Sans',sans-serif;font-size:17px;font-weight:bold;letter-spacing:1.32px;line-height:17px;color:#111;-webkit-text-stroke:0.35px #111;">Information</div>
<div class="t" style="left:456.0px;top:467.0px;font-family:'Liberation Sans',sans-serif;font-size:17px;font-weight:bold;letter-spacing:1.32px;line-height:17px;color:#111;-webkit-text-stroke:0.35px #111;">Skilled</div>
<div class="t" style="left:446.7px;top:487.0px;font-family:'Liberation Sans',sans-serif;font-size:17px;font-weight:bold;letter-spacing:1.32px;line-height:17px;color:#111;-webkit-text-stroke:0.35px #111;">Teachers</div>
<div class="t" style="left:249.4px;top:569.1px;font-family:'Liberation Sans',sans-serif;font-size:17px;font-weight:bold;letter-spacing:1.32px;line-height:17px;color:#111;-webkit-text-stroke:0.35px #111;">State of the</div>
<div class="t" style="left:232.3px;top:589.1px;font-family:'Liberation Sans',sans-serif;font-size:17px;font-weight:bold;letter-spacing:1.32px;line-height:17px;color:#111;-webkit-text-stroke:0.35px #111;">Art Techniques</div>
<div class="t" style="left:491.7px;top:569.1px;font-family:'Liberation Sans',sans-serif;font-size:17px;font-weight:bold;letter-spacing:1.32px;line-height:17px;color:#111;-webkit-text-stroke:0.35px #111;">Well equiped</div>
<div class="t" style="left:511.6px;top:589.1px;font-family:'Liberation Sans',sans-serif;font-size:17px;font-weight:bold;letter-spacing:1.32px;line-height:17px;color:#111;-webkit-text-stroke:0.35px #111;">Students</div>
<div class="t" style="left:438.8px;top:674.9px;font-family:'Liberation Sans',sans-serif;font-size:17px;font-weight:bold;letter-spacing:1.32px;line-height:17px;color:#111;-webkit-text-stroke:0.35px #111;">Rating of the</div>
<div class="t" style="left:446.7px;top:695.8px;font-family:'Liberation Sans',sans-serif;font-size:17px;font-weight:bold;letter-spacing:1.32px;line-height:17px;color:#111;-webkit-text-stroke:0.35px #111;">School will</div>
<div class="t" style="left:459.2px;top:716.6px;font-family:'Liberation Sans',sans-serif;font-size:17px;font-weight:bold;letter-spacing:1.32px;line-height:17px;color:#111;-webkit-text-stroke:0.35px #111;">Increase</div>
<div class="t" style="left:296.3px;top:678.9px;font-family:'Liberation Sans',sans-serif;font-size:15px;font-weight:bold;letter-spacing:1.2px;line-height:15px;color:#111;-webkit-text-stroke:0.3px #111;">Raised interest</div>
<div class="t" style="left:309.8px;top:697.5px;font-family:'Liberation Sans',sans-serif;font-size:15px;font-weight:bold;letter-spacing:1.2px;line-height:15px;color:#111;-webkit-text-stroke:0.3px #111;">in Research</div>
<div class="t" style="left:354.0px;top:713.7px;font-family:'Liberation Sans',sans-serif;font-size:15px;font-weight:bold;letter-spacing:1.2px;line-height:15px;color:#111;-webkit-text-stroke:0.3px #111;">+</div>
<div class="t" style="left:305.1px;top:732.3px;font-family:'Liberation Sans',sans-serif;font-size:15px;font-weight:bold;letter-spacing:1.2px;line-height:15px;color:#111;-webkit-text-stroke:0.3px #111;">Development</div>
<div class="t" style="left:90.6px;top:1137.0px;font-family:'Liberation Sans',sans-serif;font-size:16px;font-weight:bold;letter-spacing:1.2px;line-height:16px;color:#fff;text-shadow:1.5px 0 #111,-1.5px 0 #111,0 1.5px #111,0 -1.5px #111,1.1px 1.1px #111,-1.1px -1.1px #111,1.1px -1.1px #111,-1.1px 1.1px #111,1.5px 1.5px 1px #111;">Persons Responsible</div>
<div class="t" style="left:62.5px;top:1156.1px;font-family:'Liberation Sans',sans-serif;font-size:14px;font-weight:bold;letter-spacing:0.1px;line-height:14px;color:#fff;text-shadow:1.5px 0 #111,-1.5px 0 #111,0 1.5px #111,0 -1.5px #111,1.1px 1.1px #111,-1.1px -1.1px #111,1.1px -1.1px #111,-1.1px 1.1px #111,1.5px 1.5px 1px #111;">Leader</div>
<div class="t" style="left:209.7px;top:1157.1px;font-family:'Liberation Sans',sans-serif;font-size:14px;font-weight:bold;letter-spacing:0.4px;line-height:14px;color:#fff;text-shadow:1.5px 0 #111,-1.5px 0 #111,0 1.5px #111,0 -1.5px #111,1.1px 1.1px #111,-1.1px -1.1px #111,1.1px -1.1px #111,-1.1px 1.1px #111,1.5px 1.5px 1px #111;">Collaborating partners</div>
<div class="t" style="left:52.4px;top:1183.6px;font-family:'Liberation Sans',sans-serif;font-size:13px;font-weight:normal;letter-spacing:0.75px;line-height:13px;color:#f2f2f2;text-shadow:1px 0 #222,-1px 0 #222,0 1px #222,0 -1px #222,0.7px 0.7px #222,-0.7px -0.7px #222,0.7px -0.7px #222,-0.7px 0.7px #222;">Rabia Majeed</div>
<div class="t" style="left:226.4px;top:1184.3px;font-family:'Liberation Sans',sans-serif;font-size:13px;font-weight:normal;letter-spacing:0.75px;line-height:13px;color:#f2f2f2;text-shadow:1px 0 #222,-1px 0 #222,0 1px #222,0 -1px #222,0.7px 0.7px #222,-0.7px -0.7px #222,0.7px -0.7px #222,-0.7px 0.7px #222;">Sarah Mehmood</div>
<div class="t" style="left:226.2px;top:1217.0px;font-family:'Liberation Sans',sans-serif;font-size:13px;font-weight:normal;letter-spacing:0.75px;line-height:13px;color:#f2f2f2;text-shadow:1px 0 #222,-1px 0 #222,0 1px #222,0 -1px #222,0.7px 0.7px #222,-0.7px -0.7px #222,0.7px -0.7px #222,-0.7px 0.7px #222;">Khalid Mehmood</div>
<div class="t" style="left:17.2px;top:1237.7px;font-family:'Liberation Sans',sans-serif;font-size:13px;font-weight:normal;letter-spacing:0.75px;line-height:13px;color:#f2f2f2;text-shadow:1px 0 #222,-1px 0 #222,0 1px #222,0 -1px #222,0.7px 0.7px #222,-0.7px -0.7px #222,0.7px -0.7px #222,-0.7px 0.7px #222;">Respective Coordinators</div>
<div class="t" style="left:234.9px;top:1252.8px;font-family:'Liberation Sans',sans-serif;font-size:13px;font-weight:normal;letter-spacing:0.75px;line-height:13px;color:#f2f2f2;text-shadow:1px 0 #222,-1px 0 #222,0 1px #222,0 -1px #222,0.7px 0.7px #222,-0.7px -0.7px #222,0.7px -0.7px #222,-0.7px 0.7px #222;">Hadia Zahid</div>
<div class="t" style="left:553.8px;top:1160.6px;font-family:'Liberation Sans',sans-serif;font-size:28px;font-weight:bold;letter-spacing:0.75px;line-height:28px;color:#fff;text-shadow:2px 0 #111,-2px 0 #111,0 2px #111,0 -2px #111,1.4px 1.4px #111,-1.4px -1.4px #111,1.4px -1.4px #111,-1.4px 1.4px #111,2.5px 2.5px 1px #111;">ICT Integration</div>
<div style="position:absolute;left:552px;top:1185px;width:211px;height:3px;background:#fff;border:2px solid #111;border-radius:2px;"></div>
<div class="t" style="left:445.5px;top:1186px;transform:rotate(-90deg);transform-origin:0 0;"><div style="position:absolute;left:0;top:-21.6px;font-family:'Liberation Sans',sans-serif;font-weight:bold;font-size:23px;line-height:23px;letter-spacing:2.1px;color:#7a3012;text-shadow:1px 0 #fff,-1px 0 #fff,0 1px #fff,0 -1px #fff;white-space:pre;">Concern</div></div>

</body></html>
